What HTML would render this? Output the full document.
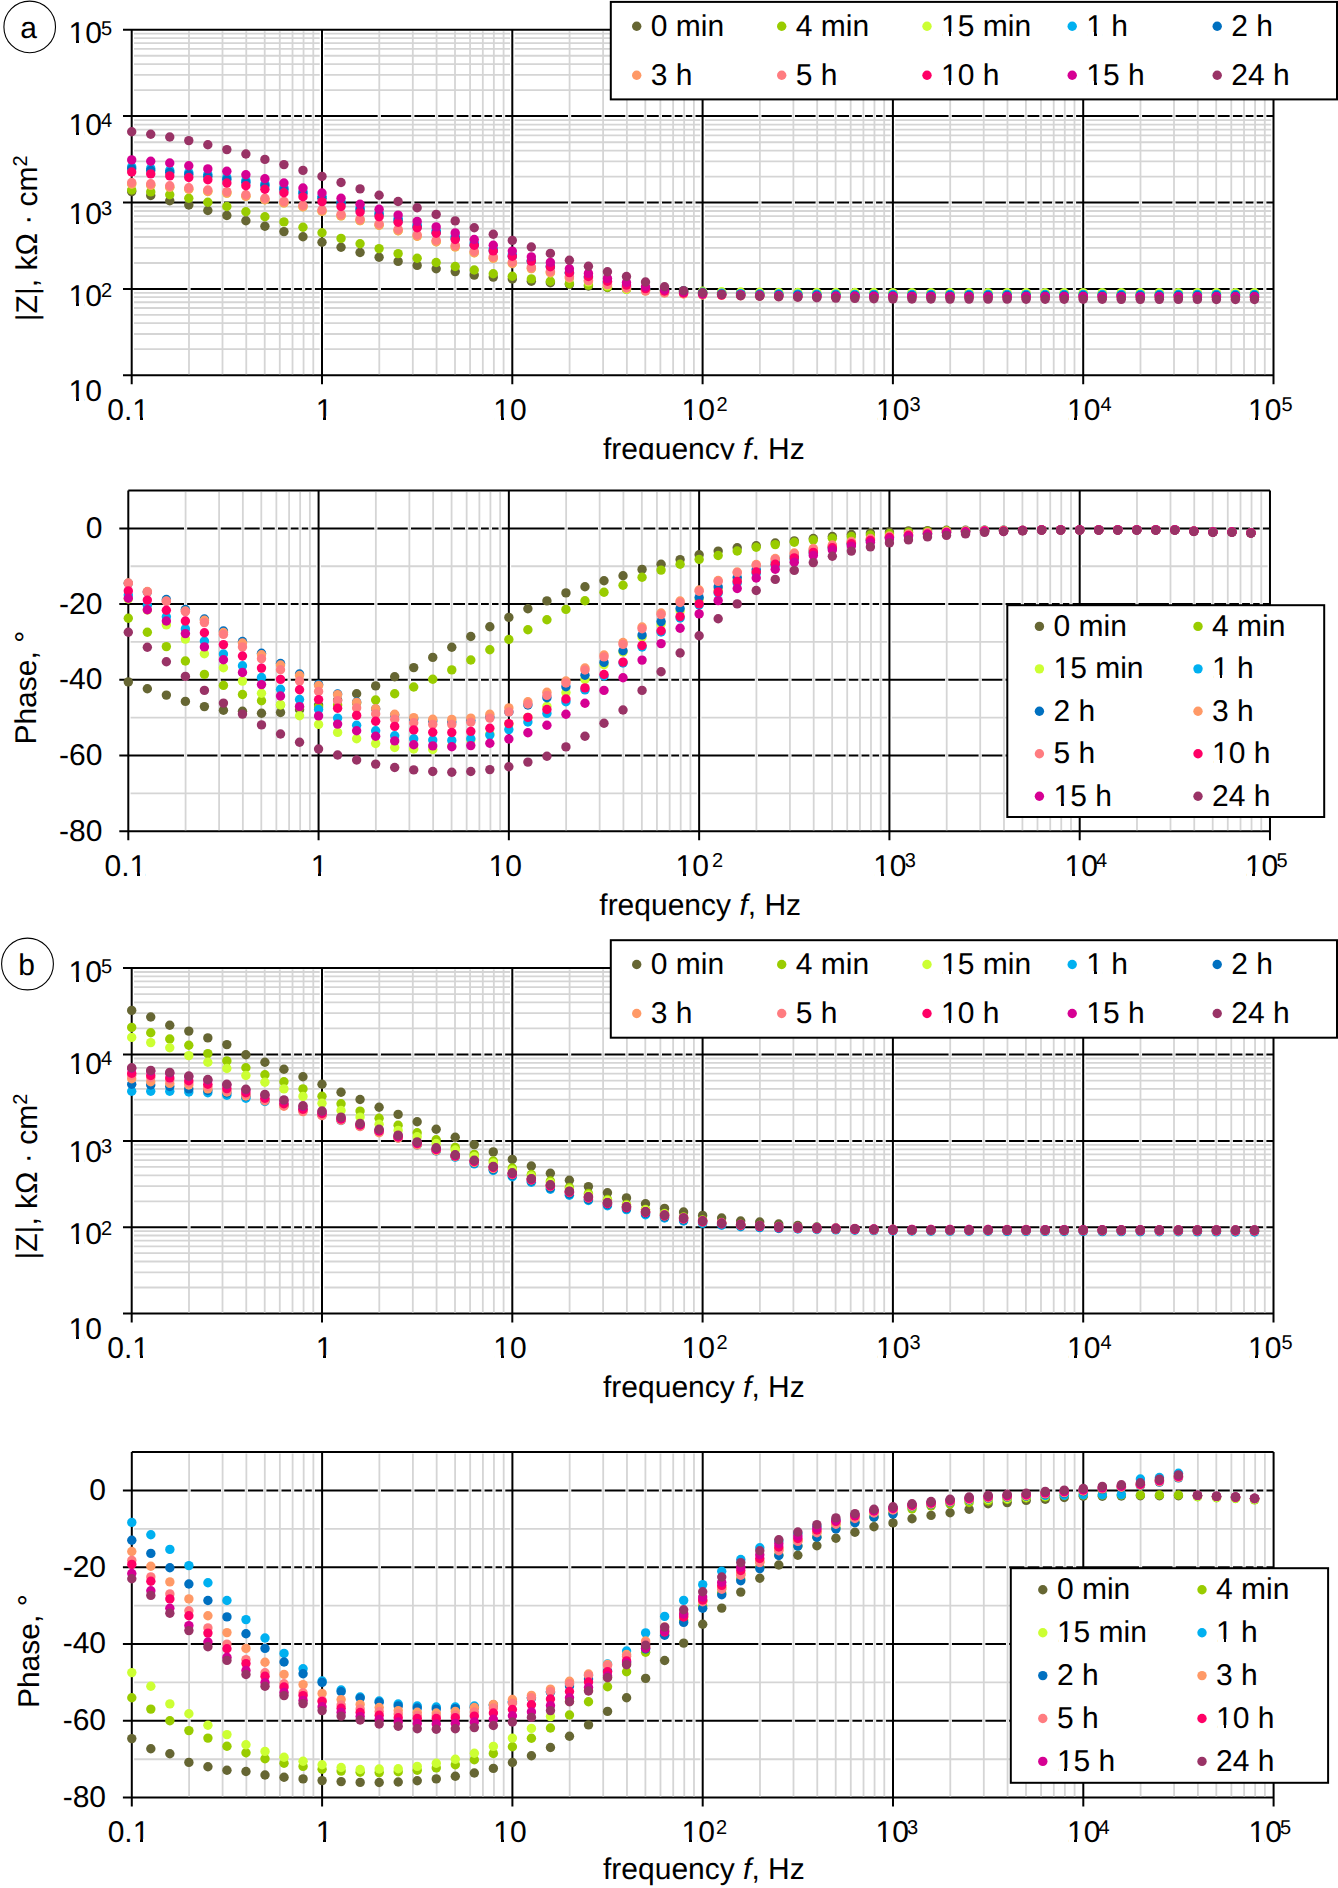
<!DOCTYPE html>
<html><head><meta charset="utf-8"><title>EIS</title>
<style>html,body{margin:0;padding:0;background:#fff;overflow:hidden;} svg{display:block;} text{font-family:"Liberation Sans", sans-serif;text-rendering:geometricPrecision;}</style>
</head><body>
<svg width="1338" height="1888" viewBox="0 0 1338 1888" font-family="Liberation Sans, sans-serif" fill="#000">
<rect width="1338" height="1888" fill="#fff"/>
<line x1="132.7" y1="349.21" x2="1273.5" y2="349.21" stroke="#d5d5d5" stroke-width="1.8"/>
<line x1="132.7" y1="334" x2="1273.5" y2="334" stroke="#d5d5d5" stroke-width="1.8"/>
<line x1="132.7" y1="323.21" x2="1273.5" y2="323.21" stroke="#d5d5d5" stroke-width="1.8"/>
<line x1="132.7" y1="314.84" x2="1273.5" y2="314.84" stroke="#d5d5d5" stroke-width="1.8"/>
<line x1="132.7" y1="308.01" x2="1273.5" y2="308.01" stroke="#d5d5d5" stroke-width="1.8"/>
<line x1="132.7" y1="302.23" x2="1273.5" y2="302.23" stroke="#d5d5d5" stroke-width="1.8"/>
<line x1="132.7" y1="297.22" x2="1273.5" y2="297.22" stroke="#d5d5d5" stroke-width="1.8"/>
<line x1="132.7" y1="292.8" x2="1273.5" y2="292.8" stroke="#d5d5d5" stroke-width="1.8"/>
<line x1="132.7" y1="263.01" x2="1273.5" y2="263.01" stroke="#d5d5d5" stroke-width="1.8"/>
<line x1="132.7" y1="247.8" x2="1273.5" y2="247.8" stroke="#d5d5d5" stroke-width="1.8"/>
<line x1="132.7" y1="237.01" x2="1273.5" y2="237.01" stroke="#d5d5d5" stroke-width="1.8"/>
<line x1="132.7" y1="228.64" x2="1273.5" y2="228.64" stroke="#d5d5d5" stroke-width="1.8"/>
<line x1="132.7" y1="221.81" x2="1273.5" y2="221.81" stroke="#d5d5d5" stroke-width="1.8"/>
<line x1="132.7" y1="216.03" x2="1273.5" y2="216.03" stroke="#d5d5d5" stroke-width="1.8"/>
<line x1="132.7" y1="211.02" x2="1273.5" y2="211.02" stroke="#d5d5d5" stroke-width="1.8"/>
<line x1="132.7" y1="206.6" x2="1273.5" y2="206.6" stroke="#d5d5d5" stroke-width="1.8"/>
<line x1="132.7" y1="176.61" x2="1273.5" y2="176.61" stroke="#d5d5d5" stroke-width="1.8"/>
<line x1="132.7" y1="161.4" x2="1273.5" y2="161.4" stroke="#d5d5d5" stroke-width="1.8"/>
<line x1="132.7" y1="150.61" x2="1273.5" y2="150.61" stroke="#d5d5d5" stroke-width="1.8"/>
<line x1="132.7" y1="142.24" x2="1273.5" y2="142.24" stroke="#d5d5d5" stroke-width="1.8"/>
<line x1="132.7" y1="135.41" x2="1273.5" y2="135.41" stroke="#d5d5d5" stroke-width="1.8"/>
<line x1="132.7" y1="129.63" x2="1273.5" y2="129.63" stroke="#d5d5d5" stroke-width="1.8"/>
<line x1="132.7" y1="124.62" x2="1273.5" y2="124.62" stroke="#d5d5d5" stroke-width="1.8"/>
<line x1="132.7" y1="120.2" x2="1273.5" y2="120.2" stroke="#d5d5d5" stroke-width="1.8"/>
<line x1="132.7" y1="90.11" x2="1273.5" y2="90.11" stroke="#d5d5d5" stroke-width="1.8"/>
<line x1="132.7" y1="74.9" x2="1273.5" y2="74.9" stroke="#d5d5d5" stroke-width="1.8"/>
<line x1="132.7" y1="64.11" x2="1273.5" y2="64.11" stroke="#d5d5d5" stroke-width="1.8"/>
<line x1="132.7" y1="55.74" x2="1273.5" y2="55.74" stroke="#d5d5d5" stroke-width="1.8"/>
<line x1="132.7" y1="48.91" x2="1273.5" y2="48.91" stroke="#d5d5d5" stroke-width="1.8"/>
<line x1="132.7" y1="43.13" x2="1273.5" y2="43.13" stroke="#d5d5d5" stroke-width="1.8"/>
<line x1="132.7" y1="38.12" x2="1273.5" y2="38.12" stroke="#d5d5d5" stroke-width="1.8"/>
<line x1="132.7" y1="33.7" x2="1273.5" y2="33.7" stroke="#d5d5d5" stroke-width="1.8"/>
<line x1="131.7" y1="31.3" x2="131.7" y2="373.7" stroke="#fff" stroke-width="4.6"/>
<line x1="322" y1="31.3" x2="322" y2="373.7" stroke="#fff" stroke-width="4.6"/>
<line x1="512.3" y1="31.3" x2="512.3" y2="373.7" stroke="#fff" stroke-width="4.6"/>
<line x1="702.6" y1="31.3" x2="702.6" y2="373.7" stroke="#fff" stroke-width="4.6"/>
<line x1="892.9" y1="31.3" x2="892.9" y2="373.7" stroke="#fff" stroke-width="4.6"/>
<line x1="1083.2" y1="31.3" x2="1083.2" y2="373.7" stroke="#fff" stroke-width="4.6"/>
<line x1="1273.5" y1="31.3" x2="1273.5" y2="373.7" stroke="#fff" stroke-width="4.6"/>
<line x1="131.7" y1="29.8" x2="131.7" y2="384.2" stroke="#000" stroke-width="2.0"/>
<line x1="322" y1="29.8" x2="322" y2="384.2" stroke="#000" stroke-width="2.0"/>
<line x1="512.3" y1="29.8" x2="512.3" y2="384.2" stroke="#000" stroke-width="2.0"/>
<line x1="702.6" y1="29.8" x2="702.6" y2="384.2" stroke="#000" stroke-width="2.0"/>
<line x1="892.9" y1="29.8" x2="892.9" y2="384.2" stroke="#000" stroke-width="2.0"/>
<line x1="1083.2" y1="29.8" x2="1083.2" y2="384.2" stroke="#000" stroke-width="2.0"/>
<line x1="1273.5" y1="29.8" x2="1273.5" y2="384.2" stroke="#000" stroke-width="2.0"/>
<line x1="123" y1="375.2" x2="1273.5" y2="375.2" stroke="#000" stroke-width="2.0"/>
<line x1="123" y1="289" x2="1273.5" y2="289" stroke="#000" stroke-width="2.0"/>
<line x1="123" y1="202.6" x2="1273.5" y2="202.6" stroke="#000" stroke-width="2.0"/>
<line x1="123" y1="116.1" x2="1273.5" y2="116.1" stroke="#000" stroke-width="2.0"/>
<line x1="123" y1="29.8" x2="1273.5" y2="29.8" stroke="#000" stroke-width="2.0"/>
<rect x="187.39" y="287.6" width="3.2" height="2.8" fill="#fff"/>
<rect x="187.39" y="201.2" width="3.2" height="2.8" fill="#fff"/>
<rect x="187.39" y="114.7" width="3.2" height="2.8" fill="#fff"/>
<line x1="188.99" y1="31.2" x2="188.99" y2="374.2" stroke="#d5d5d5" stroke-width="1.8"/>
<rect x="220.9" y="287.6" width="3.2" height="2.8" fill="#fff"/>
<rect x="220.9" y="201.2" width="3.2" height="2.8" fill="#fff"/>
<rect x="220.9" y="114.7" width="3.2" height="2.8" fill="#fff"/>
<line x1="222.5" y1="31.2" x2="222.5" y2="374.2" stroke="#d5d5d5" stroke-width="1.8"/>
<rect x="244.67" y="287.6" width="3.2" height="2.8" fill="#fff"/>
<rect x="244.67" y="201.2" width="3.2" height="2.8" fill="#fff"/>
<rect x="244.67" y="114.7" width="3.2" height="2.8" fill="#fff"/>
<line x1="246.27" y1="31.2" x2="246.27" y2="374.2" stroke="#d5d5d5" stroke-width="1.8"/>
<rect x="263.11" y="287.6" width="3.2" height="2.8" fill="#fff"/>
<rect x="263.11" y="201.2" width="3.2" height="2.8" fill="#fff"/>
<rect x="263.11" y="114.7" width="3.2" height="2.8" fill="#fff"/>
<line x1="264.71" y1="31.2" x2="264.71" y2="374.2" stroke="#d5d5d5" stroke-width="1.8"/>
<rect x="278.18" y="287.6" width="3.2" height="2.8" fill="#fff"/>
<rect x="278.18" y="201.2" width="3.2" height="2.8" fill="#fff"/>
<rect x="278.18" y="114.7" width="3.2" height="2.8" fill="#fff"/>
<line x1="279.78" y1="31.2" x2="279.78" y2="374.2" stroke="#d5d5d5" stroke-width="1.8"/>
<rect x="290.92" y="287.6" width="3.2" height="2.8" fill="#fff"/>
<rect x="290.92" y="201.2" width="3.2" height="2.8" fill="#fff"/>
<rect x="290.92" y="114.7" width="3.2" height="2.8" fill="#fff"/>
<line x1="292.52" y1="31.2" x2="292.52" y2="374.2" stroke="#d5d5d5" stroke-width="1.8"/>
<rect x="301.96" y="287.6" width="3.2" height="2.8" fill="#fff"/>
<rect x="301.96" y="201.2" width="3.2" height="2.8" fill="#fff"/>
<rect x="301.96" y="114.7" width="3.2" height="2.8" fill="#fff"/>
<line x1="303.56" y1="31.2" x2="303.56" y2="374.2" stroke="#d5d5d5" stroke-width="1.8"/>
<rect x="311.69" y="287.6" width="3.2" height="2.8" fill="#fff"/>
<rect x="311.69" y="201.2" width="3.2" height="2.8" fill="#fff"/>
<rect x="311.69" y="114.7" width="3.2" height="2.8" fill="#fff"/>
<line x1="313.29" y1="31.2" x2="313.29" y2="374.2" stroke="#d5d5d5" stroke-width="1.8"/>
<rect x="377.69" y="287.6" width="3.2" height="2.8" fill="#fff"/>
<rect x="377.69" y="201.2" width="3.2" height="2.8" fill="#fff"/>
<rect x="377.69" y="114.7" width="3.2" height="2.8" fill="#fff"/>
<line x1="379.29" y1="31.2" x2="379.29" y2="374.2" stroke="#d5d5d5" stroke-width="1.8"/>
<rect x="411.2" y="287.6" width="3.2" height="2.8" fill="#fff"/>
<rect x="411.2" y="201.2" width="3.2" height="2.8" fill="#fff"/>
<rect x="411.2" y="114.7" width="3.2" height="2.8" fill="#fff"/>
<line x1="412.8" y1="31.2" x2="412.8" y2="374.2" stroke="#d5d5d5" stroke-width="1.8"/>
<rect x="434.97" y="287.6" width="3.2" height="2.8" fill="#fff"/>
<rect x="434.97" y="201.2" width="3.2" height="2.8" fill="#fff"/>
<rect x="434.97" y="114.7" width="3.2" height="2.8" fill="#fff"/>
<line x1="436.57" y1="31.2" x2="436.57" y2="374.2" stroke="#d5d5d5" stroke-width="1.8"/>
<rect x="453.41" y="287.6" width="3.2" height="2.8" fill="#fff"/>
<rect x="453.41" y="201.2" width="3.2" height="2.8" fill="#fff"/>
<rect x="453.41" y="114.7" width="3.2" height="2.8" fill="#fff"/>
<line x1="455.01" y1="31.2" x2="455.01" y2="374.2" stroke="#d5d5d5" stroke-width="1.8"/>
<rect x="468.48" y="287.6" width="3.2" height="2.8" fill="#fff"/>
<rect x="468.48" y="201.2" width="3.2" height="2.8" fill="#fff"/>
<rect x="468.48" y="114.7" width="3.2" height="2.8" fill="#fff"/>
<line x1="470.08" y1="31.2" x2="470.08" y2="374.2" stroke="#d5d5d5" stroke-width="1.8"/>
<rect x="481.22" y="287.6" width="3.2" height="2.8" fill="#fff"/>
<rect x="481.22" y="201.2" width="3.2" height="2.8" fill="#fff"/>
<rect x="481.22" y="114.7" width="3.2" height="2.8" fill="#fff"/>
<line x1="482.82" y1="31.2" x2="482.82" y2="374.2" stroke="#d5d5d5" stroke-width="1.8"/>
<rect x="492.26" y="287.6" width="3.2" height="2.8" fill="#fff"/>
<rect x="492.26" y="201.2" width="3.2" height="2.8" fill="#fff"/>
<rect x="492.26" y="114.7" width="3.2" height="2.8" fill="#fff"/>
<line x1="493.86" y1="31.2" x2="493.86" y2="374.2" stroke="#d5d5d5" stroke-width="1.8"/>
<rect x="501.99" y="287.6" width="3.2" height="2.8" fill="#fff"/>
<rect x="501.99" y="201.2" width="3.2" height="2.8" fill="#fff"/>
<rect x="501.99" y="114.7" width="3.2" height="2.8" fill="#fff"/>
<line x1="503.59" y1="31.2" x2="503.59" y2="374.2" stroke="#d5d5d5" stroke-width="1.8"/>
<rect x="567.99" y="287.6" width="3.2" height="2.8" fill="#fff"/>
<rect x="567.99" y="201.2" width="3.2" height="2.8" fill="#fff"/>
<rect x="567.99" y="114.7" width="3.2" height="2.8" fill="#fff"/>
<line x1="569.59" y1="31.2" x2="569.59" y2="374.2" stroke="#d5d5d5" stroke-width="1.8"/>
<rect x="601.5" y="287.6" width="3.2" height="2.8" fill="#fff"/>
<rect x="601.5" y="201.2" width="3.2" height="2.8" fill="#fff"/>
<rect x="601.5" y="114.7" width="3.2" height="2.8" fill="#fff"/>
<line x1="603.1" y1="31.2" x2="603.1" y2="374.2" stroke="#d5d5d5" stroke-width="1.8"/>
<rect x="625.27" y="287.6" width="3.2" height="2.8" fill="#fff"/>
<rect x="625.27" y="201.2" width="3.2" height="2.8" fill="#fff"/>
<rect x="625.27" y="114.7" width="3.2" height="2.8" fill="#fff"/>
<line x1="626.87" y1="31.2" x2="626.87" y2="374.2" stroke="#d5d5d5" stroke-width="1.8"/>
<rect x="643.71" y="287.6" width="3.2" height="2.8" fill="#fff"/>
<rect x="643.71" y="201.2" width="3.2" height="2.8" fill="#fff"/>
<rect x="643.71" y="114.7" width="3.2" height="2.8" fill="#fff"/>
<line x1="645.31" y1="31.2" x2="645.31" y2="374.2" stroke="#d5d5d5" stroke-width="1.8"/>
<rect x="658.78" y="287.6" width="3.2" height="2.8" fill="#fff"/>
<rect x="658.78" y="201.2" width="3.2" height="2.8" fill="#fff"/>
<rect x="658.78" y="114.7" width="3.2" height="2.8" fill="#fff"/>
<line x1="660.38" y1="31.2" x2="660.38" y2="374.2" stroke="#d5d5d5" stroke-width="1.8"/>
<rect x="671.52" y="287.6" width="3.2" height="2.8" fill="#fff"/>
<rect x="671.52" y="201.2" width="3.2" height="2.8" fill="#fff"/>
<rect x="671.52" y="114.7" width="3.2" height="2.8" fill="#fff"/>
<line x1="673.12" y1="31.2" x2="673.12" y2="374.2" stroke="#d5d5d5" stroke-width="1.8"/>
<rect x="682.56" y="287.6" width="3.2" height="2.8" fill="#fff"/>
<rect x="682.56" y="201.2" width="3.2" height="2.8" fill="#fff"/>
<rect x="682.56" y="114.7" width="3.2" height="2.8" fill="#fff"/>
<line x1="684.16" y1="31.2" x2="684.16" y2="374.2" stroke="#d5d5d5" stroke-width="1.8"/>
<rect x="692.29" y="287.6" width="3.2" height="2.8" fill="#fff"/>
<rect x="692.29" y="201.2" width="3.2" height="2.8" fill="#fff"/>
<rect x="692.29" y="114.7" width="3.2" height="2.8" fill="#fff"/>
<line x1="693.89" y1="31.2" x2="693.89" y2="374.2" stroke="#d5d5d5" stroke-width="1.8"/>
<rect x="758.29" y="287.6" width="3.2" height="2.8" fill="#fff"/>
<rect x="758.29" y="201.2" width="3.2" height="2.8" fill="#fff"/>
<rect x="758.29" y="114.7" width="3.2" height="2.8" fill="#fff"/>
<line x1="759.89" y1="31.2" x2="759.89" y2="374.2" stroke="#d5d5d5" stroke-width="1.8"/>
<rect x="791.8" y="287.6" width="3.2" height="2.8" fill="#fff"/>
<rect x="791.8" y="201.2" width="3.2" height="2.8" fill="#fff"/>
<rect x="791.8" y="114.7" width="3.2" height="2.8" fill="#fff"/>
<line x1="793.4" y1="31.2" x2="793.4" y2="374.2" stroke="#d5d5d5" stroke-width="1.8"/>
<rect x="815.57" y="287.6" width="3.2" height="2.8" fill="#fff"/>
<rect x="815.57" y="201.2" width="3.2" height="2.8" fill="#fff"/>
<rect x="815.57" y="114.7" width="3.2" height="2.8" fill="#fff"/>
<line x1="817.17" y1="31.2" x2="817.17" y2="374.2" stroke="#d5d5d5" stroke-width="1.8"/>
<rect x="834.01" y="287.6" width="3.2" height="2.8" fill="#fff"/>
<rect x="834.01" y="201.2" width="3.2" height="2.8" fill="#fff"/>
<rect x="834.01" y="114.7" width="3.2" height="2.8" fill="#fff"/>
<line x1="835.61" y1="31.2" x2="835.61" y2="374.2" stroke="#d5d5d5" stroke-width="1.8"/>
<rect x="849.08" y="287.6" width="3.2" height="2.8" fill="#fff"/>
<rect x="849.08" y="201.2" width="3.2" height="2.8" fill="#fff"/>
<rect x="849.08" y="114.7" width="3.2" height="2.8" fill="#fff"/>
<line x1="850.68" y1="31.2" x2="850.68" y2="374.2" stroke="#d5d5d5" stroke-width="1.8"/>
<rect x="861.82" y="287.6" width="3.2" height="2.8" fill="#fff"/>
<rect x="861.82" y="201.2" width="3.2" height="2.8" fill="#fff"/>
<rect x="861.82" y="114.7" width="3.2" height="2.8" fill="#fff"/>
<line x1="863.42" y1="31.2" x2="863.42" y2="374.2" stroke="#d5d5d5" stroke-width="1.8"/>
<rect x="872.86" y="287.6" width="3.2" height="2.8" fill="#fff"/>
<rect x="872.86" y="201.2" width="3.2" height="2.8" fill="#fff"/>
<rect x="872.86" y="114.7" width="3.2" height="2.8" fill="#fff"/>
<line x1="874.46" y1="31.2" x2="874.46" y2="374.2" stroke="#d5d5d5" stroke-width="1.8"/>
<rect x="882.59" y="287.6" width="3.2" height="2.8" fill="#fff"/>
<rect x="882.59" y="201.2" width="3.2" height="2.8" fill="#fff"/>
<rect x="882.59" y="114.7" width="3.2" height="2.8" fill="#fff"/>
<line x1="884.19" y1="31.2" x2="884.19" y2="374.2" stroke="#d5d5d5" stroke-width="1.8"/>
<rect x="948.59" y="287.6" width="3.2" height="2.8" fill="#fff"/>
<rect x="948.59" y="201.2" width="3.2" height="2.8" fill="#fff"/>
<rect x="948.59" y="114.7" width="3.2" height="2.8" fill="#fff"/>
<line x1="950.19" y1="31.2" x2="950.19" y2="374.2" stroke="#d5d5d5" stroke-width="1.8"/>
<rect x="982.1" y="287.6" width="3.2" height="2.8" fill="#fff"/>
<rect x="982.1" y="201.2" width="3.2" height="2.8" fill="#fff"/>
<rect x="982.1" y="114.7" width="3.2" height="2.8" fill="#fff"/>
<line x1="983.7" y1="31.2" x2="983.7" y2="374.2" stroke="#d5d5d5" stroke-width="1.8"/>
<rect x="1005.87" y="287.6" width="3.2" height="2.8" fill="#fff"/>
<rect x="1005.87" y="201.2" width="3.2" height="2.8" fill="#fff"/>
<rect x="1005.87" y="114.7" width="3.2" height="2.8" fill="#fff"/>
<line x1="1007.47" y1="31.2" x2="1007.47" y2="374.2" stroke="#d5d5d5" stroke-width="1.8"/>
<rect x="1024.31" y="287.6" width="3.2" height="2.8" fill="#fff"/>
<rect x="1024.31" y="201.2" width="3.2" height="2.8" fill="#fff"/>
<rect x="1024.31" y="114.7" width="3.2" height="2.8" fill="#fff"/>
<line x1="1025.91" y1="31.2" x2="1025.91" y2="374.2" stroke="#d5d5d5" stroke-width="1.8"/>
<rect x="1039.38" y="287.6" width="3.2" height="2.8" fill="#fff"/>
<rect x="1039.38" y="201.2" width="3.2" height="2.8" fill="#fff"/>
<rect x="1039.38" y="114.7" width="3.2" height="2.8" fill="#fff"/>
<line x1="1040.98" y1="31.2" x2="1040.98" y2="374.2" stroke="#d5d5d5" stroke-width="1.8"/>
<rect x="1052.12" y="287.6" width="3.2" height="2.8" fill="#fff"/>
<rect x="1052.12" y="201.2" width="3.2" height="2.8" fill="#fff"/>
<rect x="1052.12" y="114.7" width="3.2" height="2.8" fill="#fff"/>
<line x1="1053.72" y1="31.2" x2="1053.72" y2="374.2" stroke="#d5d5d5" stroke-width="1.8"/>
<rect x="1063.16" y="287.6" width="3.2" height="2.8" fill="#fff"/>
<rect x="1063.16" y="201.2" width="3.2" height="2.8" fill="#fff"/>
<rect x="1063.16" y="114.7" width="3.2" height="2.8" fill="#fff"/>
<line x1="1064.76" y1="31.2" x2="1064.76" y2="374.2" stroke="#d5d5d5" stroke-width="1.8"/>
<rect x="1072.89" y="287.6" width="3.2" height="2.8" fill="#fff"/>
<rect x="1072.89" y="201.2" width="3.2" height="2.8" fill="#fff"/>
<rect x="1072.89" y="114.7" width="3.2" height="2.8" fill="#fff"/>
<line x1="1074.49" y1="31.2" x2="1074.49" y2="374.2" stroke="#d5d5d5" stroke-width="1.8"/>
<rect x="1138.89" y="287.6" width="3.2" height="2.8" fill="#fff"/>
<rect x="1138.89" y="201.2" width="3.2" height="2.8" fill="#fff"/>
<rect x="1138.89" y="114.7" width="3.2" height="2.8" fill="#fff"/>
<line x1="1140.49" y1="31.2" x2="1140.49" y2="374.2" stroke="#d5d5d5" stroke-width="1.8"/>
<rect x="1172.4" y="287.6" width="3.2" height="2.8" fill="#fff"/>
<rect x="1172.4" y="201.2" width="3.2" height="2.8" fill="#fff"/>
<rect x="1172.4" y="114.7" width="3.2" height="2.8" fill="#fff"/>
<line x1="1174" y1="31.2" x2="1174" y2="374.2" stroke="#d5d5d5" stroke-width="1.8"/>
<rect x="1196.17" y="287.6" width="3.2" height="2.8" fill="#fff"/>
<rect x="1196.17" y="201.2" width="3.2" height="2.8" fill="#fff"/>
<rect x="1196.17" y="114.7" width="3.2" height="2.8" fill="#fff"/>
<line x1="1197.77" y1="31.2" x2="1197.77" y2="374.2" stroke="#d5d5d5" stroke-width="1.8"/>
<rect x="1214.61" y="287.6" width="3.2" height="2.8" fill="#fff"/>
<rect x="1214.61" y="201.2" width="3.2" height="2.8" fill="#fff"/>
<rect x="1214.61" y="114.7" width="3.2" height="2.8" fill="#fff"/>
<line x1="1216.21" y1="31.2" x2="1216.21" y2="374.2" stroke="#d5d5d5" stroke-width="1.8"/>
<rect x="1229.68" y="287.6" width="3.2" height="2.8" fill="#fff"/>
<rect x="1229.68" y="201.2" width="3.2" height="2.8" fill="#fff"/>
<rect x="1229.68" y="114.7" width="3.2" height="2.8" fill="#fff"/>
<line x1="1231.28" y1="31.2" x2="1231.28" y2="374.2" stroke="#d5d5d5" stroke-width="1.8"/>
<rect x="1242.42" y="287.6" width="3.2" height="2.8" fill="#fff"/>
<rect x="1242.42" y="201.2" width="3.2" height="2.8" fill="#fff"/>
<rect x="1242.42" y="114.7" width="3.2" height="2.8" fill="#fff"/>
<line x1="1244.02" y1="31.2" x2="1244.02" y2="374.2" stroke="#d5d5d5" stroke-width="1.8"/>
<rect x="1253.46" y="287.6" width="3.2" height="2.8" fill="#fff"/>
<rect x="1253.46" y="201.2" width="3.2" height="2.8" fill="#fff"/>
<rect x="1253.46" y="114.7" width="3.2" height="2.8" fill="#fff"/>
<line x1="1255.06" y1="31.2" x2="1255.06" y2="374.2" stroke="#d5d5d5" stroke-width="1.8"/>
<rect x="1263.19" y="287.6" width="3.2" height="2.8" fill="#fff"/>
<rect x="1263.19" y="201.2" width="3.2" height="2.8" fill="#fff"/>
<rect x="1263.19" y="114.7" width="3.2" height="2.8" fill="#fff"/>
<line x1="1264.79" y1="31.2" x2="1264.79" y2="374.2" stroke="#d5d5d5" stroke-width="1.8"/>
<g fill="#666633">
<circle cx="131.7" cy="191.6" r="4.7"/>
<circle cx="150.73" cy="195.5" r="4.7"/>
<circle cx="169.76" cy="200.7" r="4.7"/>
<circle cx="188.79" cy="205" r="4.7"/>
<circle cx="207.82" cy="210.5" r="4.7"/>
<circle cx="226.85" cy="215.5" r="4.7"/>
<circle cx="245.88" cy="220.7" r="4.7"/>
<circle cx="264.91" cy="226.2" r="4.7"/>
<circle cx="283.94" cy="231.6" r="4.7"/>
<circle cx="302.97" cy="236.8" r="4.7"/>
<circle cx="322" cy="242.2" r="4.7"/>
<circle cx="341.03" cy="247.3" r="4.7"/>
<circle cx="360.06" cy="252.5" r="4.7"/>
<circle cx="379.09" cy="257.2" r="4.7"/>
<circle cx="398.12" cy="261.4" r="4.7"/>
<circle cx="417.15" cy="265.4" r="4.7"/>
<circle cx="436.18" cy="268.8" r="4.7"/>
<circle cx="455.21" cy="271.6" r="4.7"/>
<circle cx="474.24" cy="275.1" r="4.7"/>
<circle cx="493.27" cy="277.1" r="4.7"/>
<circle cx="512.3" cy="279" r="4.7"/>
<circle cx="531.33" cy="281.2" r="4.7"/>
<circle cx="550.36" cy="282.8" r="4.7"/>
<circle cx="569.39" cy="284.4" r="4.7"/>
<circle cx="588.42" cy="286" r="4.7"/>
<circle cx="607.45" cy="287.5" r="4.7"/>
<circle cx="626.48" cy="289" r="4.7"/>
<circle cx="645.51" cy="290" r="4.7"/>
<circle cx="664.54" cy="291" r="4.7"/>
<circle cx="683.57" cy="291.75" r="4.7"/>
<circle cx="702.6" cy="292.5" r="4.7"/>
<circle cx="721.63" cy="293" r="4.7"/>
<circle cx="740.66" cy="293.5" r="4.7"/>
<circle cx="759.69" cy="294" r="4.7"/>
<circle cx="778.72" cy="294.14" r="4.7"/>
<circle cx="797.75" cy="294.29" r="4.7"/>
<circle cx="816.78" cy="294.43" r="4.7"/>
<circle cx="835.81" cy="294.57" r="4.7"/>
<circle cx="854.84" cy="294.71" r="4.7"/>
<circle cx="873.87" cy="294.86" r="4.7"/>
<circle cx="892.9" cy="295" r="4.7"/>
<circle cx="911.93" cy="295" r="4.7"/>
<circle cx="930.96" cy="295" r="4.7"/>
<circle cx="949.99" cy="295" r="4.7"/>
<circle cx="969.02" cy="295" r="4.7"/>
<circle cx="988.05" cy="295" r="4.7"/>
<circle cx="1007.08" cy="295" r="4.7"/>
<circle cx="1026.11" cy="295" r="4.7"/>
<circle cx="1045.14" cy="295" r="4.7"/>
<circle cx="1064.17" cy="295" r="4.7"/>
<circle cx="1083.2" cy="295" r="4.7"/>
<circle cx="1102.23" cy="295" r="4.7"/>
<circle cx="1121.26" cy="295" r="4.7"/>
<circle cx="1140.29" cy="295" r="4.7"/>
<circle cx="1159.32" cy="295" r="4.7"/>
<circle cx="1178.35" cy="295" r="4.7"/>
<circle cx="1197.38" cy="295" r="4.7"/>
<circle cx="1216.41" cy="295" r="4.7"/>
<circle cx="1235.44" cy="295" r="4.7"/>
<circle cx="1254.47" cy="295" r="4.7"/>
</g>
<g fill="#99cc00">
<circle cx="131.7" cy="190" r="4.7"/>
<circle cx="150.73" cy="191.9" r="4.7"/>
<circle cx="169.76" cy="194.8" r="4.7"/>
<circle cx="188.79" cy="198.2" r="4.7"/>
<circle cx="207.82" cy="202.3" r="4.7"/>
<circle cx="226.85" cy="206.5" r="4.7"/>
<circle cx="245.88" cy="211.7" r="4.7"/>
<circle cx="264.91" cy="216.7" r="4.7"/>
<circle cx="283.94" cy="221.9" r="4.7"/>
<circle cx="302.97" cy="227.2" r="4.7"/>
<circle cx="322" cy="232.8" r="4.7"/>
<circle cx="341.03" cy="238.4" r="4.7"/>
<circle cx="360.06" cy="243.7" r="4.7"/>
<circle cx="379.09" cy="248.6" r="4.7"/>
<circle cx="398.12" cy="253.6" r="4.7"/>
<circle cx="417.15" cy="258.3" r="4.7"/>
<circle cx="436.18" cy="262.5" r="4.7"/>
<circle cx="455.21" cy="266.5" r="4.7"/>
<circle cx="474.24" cy="270" r="4.7"/>
<circle cx="493.27" cy="273.7" r="4.7"/>
<circle cx="512.3" cy="276.2" r="4.7"/>
<circle cx="531.33" cy="278.9" r="4.7"/>
<circle cx="550.36" cy="281.2" r="4.7"/>
<circle cx="569.39" cy="283.6" r="4.7"/>
<circle cx="588.42" cy="285.1" r="4.7"/>
<circle cx="607.45" cy="287.2" r="4.7"/>
<circle cx="626.48" cy="289.1" r="4.7"/>
<circle cx="645.51" cy="290" r="4.7"/>
<circle cx="664.54" cy="291" r="4.7"/>
<circle cx="683.57" cy="291.5" r="4.7"/>
<circle cx="702.6" cy="292" r="4.7"/>
<circle cx="721.63" cy="292.5" r="4.7"/>
<circle cx="740.66" cy="293" r="4.7"/>
<circle cx="759.69" cy="293.5" r="4.7"/>
<circle cx="778.72" cy="294" r="4.7"/>
<circle cx="797.75" cy="294.02" r="4.7"/>
<circle cx="816.78" cy="294.04" r="4.7"/>
<circle cx="835.81" cy="294.06" r="4.7"/>
<circle cx="854.84" cy="294.08" r="4.7"/>
<circle cx="873.87" cy="294.1" r="4.7"/>
<circle cx="892.9" cy="294.12" r="4.7"/>
<circle cx="911.93" cy="294.14" r="4.7"/>
<circle cx="930.96" cy="294.16" r="4.7"/>
<circle cx="949.99" cy="294.18" r="4.7"/>
<circle cx="969.02" cy="294.2" r="4.7"/>
<circle cx="988.05" cy="294.22" r="4.7"/>
<circle cx="1007.08" cy="294.24" r="4.7"/>
<circle cx="1026.11" cy="294.26" r="4.7"/>
<circle cx="1045.14" cy="294.28" r="4.7"/>
<circle cx="1064.17" cy="294.3" r="4.7"/>
<circle cx="1083.2" cy="294.32" r="4.7"/>
<circle cx="1102.23" cy="294.34" r="4.7"/>
<circle cx="1121.26" cy="294.36" r="4.7"/>
<circle cx="1140.29" cy="294.38" r="4.7"/>
<circle cx="1159.32" cy="294.4" r="4.7"/>
<circle cx="1178.35" cy="294.42" r="4.7"/>
<circle cx="1197.38" cy="294.44" r="4.7"/>
<circle cx="1216.41" cy="294.46" r="4.7"/>
<circle cx="1235.44" cy="294.48" r="4.7"/>
<circle cx="1254.47" cy="294.5" r="4.7"/>
</g>
<g fill="#ccff33">
<circle cx="131.7" cy="184" r="4.7"/>
<circle cx="150.73" cy="185.3" r="4.7"/>
<circle cx="169.76" cy="187.2" r="4.7"/>
<circle cx="188.79" cy="189.2" r="4.7"/>
<circle cx="207.82" cy="191.5" r="4.7"/>
<circle cx="226.85" cy="193.1" r="4.7"/>
<circle cx="245.88" cy="196.3" r="4.7"/>
<circle cx="264.91" cy="199.7" r="4.7"/>
<circle cx="283.94" cy="202.9" r="4.7"/>
<circle cx="302.97" cy="206.8" r="4.7"/>
<circle cx="322" cy="211.2" r="4.7"/>
<circle cx="341.03" cy="215.9" r="4.7"/>
<circle cx="360.06" cy="220.6" r="4.7"/>
<circle cx="379.09" cy="225.3" r="4.7"/>
<circle cx="398.12" cy="230.8" r="4.7"/>
<circle cx="417.15" cy="236.3" r="4.7"/>
<circle cx="436.18" cy="241.8" r="4.7"/>
<circle cx="455.21" cy="246.9" r="4.7"/>
<circle cx="474.24" cy="252.7" r="4.7"/>
<circle cx="493.27" cy="258.2" r="4.7"/>
<circle cx="512.3" cy="263.5" r="4.7"/>
<circle cx="531.33" cy="268.6" r="4.7"/>
<circle cx="550.36" cy="272.8" r="4.7"/>
<circle cx="569.39" cy="278" r="4.7"/>
<circle cx="588.42" cy="281.9" r="4.7"/>
<circle cx="607.45" cy="285.9" r="4.7"/>
<circle cx="626.48" cy="289.3" r="4.7"/>
<circle cx="645.51" cy="289.5" r="4.7"/>
<circle cx="664.54" cy="290.2" r="4.7"/>
<circle cx="683.57" cy="290.6" r="4.7"/>
<circle cx="702.6" cy="291.2" r="4.7"/>
<circle cx="721.63" cy="291.7" r="4.7"/>
<circle cx="740.66" cy="292" r="4.7"/>
<circle cx="759.69" cy="292.3" r="4.7"/>
<circle cx="778.72" cy="292.34" r="4.7"/>
<circle cx="797.75" cy="292.39" r="4.7"/>
<circle cx="816.78" cy="292.43" r="4.7"/>
<circle cx="835.81" cy="292.47" r="4.7"/>
<circle cx="854.84" cy="292.51" r="4.7"/>
<circle cx="873.87" cy="292.56" r="4.7"/>
<circle cx="892.9" cy="292.6" r="4.7"/>
<circle cx="911.93" cy="292.6" r="4.7"/>
<circle cx="930.96" cy="292.6" r="4.7"/>
<circle cx="949.99" cy="292.6" r="4.7"/>
<circle cx="969.02" cy="292.6" r="4.7"/>
<circle cx="988.05" cy="292.6" r="4.7"/>
<circle cx="1007.08" cy="292.6" r="4.7"/>
<circle cx="1026.11" cy="292.6" r="4.7"/>
<circle cx="1045.14" cy="292.6" r="4.7"/>
<circle cx="1064.17" cy="292.6" r="4.7"/>
<circle cx="1083.2" cy="292.6" r="4.7"/>
<circle cx="1102.23" cy="292.6" r="4.7"/>
<circle cx="1121.26" cy="292.6" r="4.7"/>
<circle cx="1140.29" cy="292.6" r="4.7"/>
<circle cx="1159.32" cy="292.6" r="4.7"/>
<circle cx="1178.35" cy="292.6" r="4.7"/>
<circle cx="1197.38" cy="292.6" r="4.7"/>
<circle cx="1216.41" cy="292.6" r="4.7"/>
<circle cx="1235.44" cy="292.6" r="4.7"/>
<circle cx="1254.47" cy="292.6" r="4.7"/>
</g>
<g fill="#00b0f0">
<circle cx="131.7" cy="166.8" r="4.7"/>
<circle cx="150.73" cy="168.4" r="4.7"/>
<circle cx="169.76" cy="170.4" r="4.7"/>
<circle cx="188.79" cy="172.5" r="4.7"/>
<circle cx="207.82" cy="174.4" r="4.7"/>
<circle cx="226.85" cy="177.5" r="4.7"/>
<circle cx="245.88" cy="180.6" r="4.7"/>
<circle cx="264.91" cy="183.8" r="4.7"/>
<circle cx="283.94" cy="187.7" r="4.7"/>
<circle cx="302.97" cy="191.6" r="4.7"/>
<circle cx="322" cy="196.3" r="4.7"/>
<circle cx="341.03" cy="201.7" r="4.7"/>
<circle cx="360.06" cy="207.7" r="4.7"/>
<circle cx="379.09" cy="212.8" r="4.7"/>
<circle cx="398.12" cy="218.6" r="4.7"/>
<circle cx="417.15" cy="224.9" r="4.7"/>
<circle cx="436.18" cy="230.4" r="4.7"/>
<circle cx="455.21" cy="236.4" r="4.7"/>
<circle cx="474.24" cy="243" r="4.7"/>
<circle cx="493.27" cy="248.8" r="4.7"/>
<circle cx="512.3" cy="254.6" r="4.7"/>
<circle cx="531.33" cy="260.4" r="4.7"/>
<circle cx="550.36" cy="265.9" r="4.7"/>
<circle cx="569.39" cy="272.2" r="4.7"/>
<circle cx="588.42" cy="276.9" r="4.7"/>
<circle cx="607.45" cy="281.9" r="4.7"/>
<circle cx="626.48" cy="286" r="4.7"/>
<circle cx="645.51" cy="288.3" r="4.7"/>
<circle cx="664.54" cy="289.5" r="4.7"/>
<circle cx="683.57" cy="290.8" r="4.7"/>
<circle cx="702.6" cy="292.3" r="4.7"/>
<circle cx="721.63" cy="293.2" r="4.7"/>
<circle cx="740.66" cy="293.6" r="4.7"/>
<circle cx="759.69" cy="294" r="4.7"/>
<circle cx="778.72" cy="294.07" r="4.7"/>
<circle cx="797.75" cy="294.14" r="4.7"/>
<circle cx="816.78" cy="294.21" r="4.7"/>
<circle cx="835.81" cy="294.29" r="4.7"/>
<circle cx="854.84" cy="294.36" r="4.7"/>
<circle cx="873.87" cy="294.43" r="4.7"/>
<circle cx="892.9" cy="294.5" r="4.7"/>
<circle cx="911.93" cy="294.5" r="4.7"/>
<circle cx="930.96" cy="294.5" r="4.7"/>
<circle cx="949.99" cy="294.5" r="4.7"/>
<circle cx="969.02" cy="294.5" r="4.7"/>
<circle cx="988.05" cy="294.5" r="4.7"/>
<circle cx="1007.08" cy="294.5" r="4.7"/>
<circle cx="1026.11" cy="294.5" r="4.7"/>
<circle cx="1045.14" cy="294.5" r="4.7"/>
<circle cx="1064.17" cy="294.5" r="4.7"/>
<circle cx="1083.2" cy="294.5" r="4.7"/>
<circle cx="1102.23" cy="294.5" r="4.7"/>
<circle cx="1121.26" cy="294.5" r="4.7"/>
<circle cx="1140.29" cy="294.5" r="4.7"/>
<circle cx="1159.32" cy="294.5" r="4.7"/>
<circle cx="1178.35" cy="294.5" r="4.7"/>
<circle cx="1197.38" cy="294.5" r="4.7"/>
<circle cx="1216.41" cy="294.5" r="4.7"/>
<circle cx="1235.44" cy="294.5" r="4.7"/>
<circle cx="1254.47" cy="294.5" r="4.7"/>
</g>
<g fill="#0070c0">
<circle cx="131.7" cy="168.8" r="4.7"/>
<circle cx="150.73" cy="170.4" r="4.7"/>
<circle cx="169.76" cy="172.4" r="4.7"/>
<circle cx="188.79" cy="174.5" r="4.7"/>
<circle cx="207.82" cy="176.4" r="4.7"/>
<circle cx="226.85" cy="179.5" r="4.7"/>
<circle cx="245.88" cy="182.6" r="4.7"/>
<circle cx="264.91" cy="185.8" r="4.7"/>
<circle cx="283.94" cy="189.7" r="4.7"/>
<circle cx="302.97" cy="193.6" r="4.7"/>
<circle cx="322" cy="198.3" r="4.7"/>
<circle cx="341.03" cy="203.7" r="4.7"/>
<circle cx="360.06" cy="209.7" r="4.7"/>
<circle cx="379.09" cy="214.8" r="4.7"/>
<circle cx="398.12" cy="220.6" r="4.7"/>
<circle cx="417.15" cy="226.9" r="4.7"/>
<circle cx="436.18" cy="232.4" r="4.7"/>
<circle cx="455.21" cy="238.4" r="4.7"/>
<circle cx="474.24" cy="245" r="4.7"/>
<circle cx="493.27" cy="250.8" r="4.7"/>
<circle cx="512.3" cy="256.6" r="4.7"/>
<circle cx="531.33" cy="261.4" r="4.7"/>
<circle cx="550.36" cy="266.9" r="4.7"/>
<circle cx="569.39" cy="273.2" r="4.7"/>
<circle cx="588.42" cy="277.9" r="4.7"/>
<circle cx="607.45" cy="282.9" r="4.7"/>
<circle cx="626.48" cy="287" r="4.7"/>
<circle cx="645.51" cy="289.3" r="4.7"/>
<circle cx="664.54" cy="290.5" r="4.7"/>
<circle cx="683.57" cy="291.8" r="4.7"/>
<circle cx="702.6" cy="293.3" r="4.7"/>
<circle cx="721.63" cy="294.2" r="4.7"/>
<circle cx="740.66" cy="294.6" r="4.7"/>
<circle cx="759.69" cy="295" r="4.7"/>
<circle cx="778.72" cy="295.07" r="4.7"/>
<circle cx="797.75" cy="295.14" r="4.7"/>
<circle cx="816.78" cy="295.21" r="4.7"/>
<circle cx="835.81" cy="295.29" r="4.7"/>
<circle cx="854.84" cy="295.36" r="4.7"/>
<circle cx="873.87" cy="295.43" r="4.7"/>
<circle cx="892.9" cy="295.5" r="4.7"/>
<circle cx="911.93" cy="295.5" r="4.7"/>
<circle cx="930.96" cy="295.5" r="4.7"/>
<circle cx="949.99" cy="295.5" r="4.7"/>
<circle cx="969.02" cy="295.5" r="4.7"/>
<circle cx="988.05" cy="295.5" r="4.7"/>
<circle cx="1007.08" cy="295.5" r="4.7"/>
<circle cx="1026.11" cy="295.5" r="4.7"/>
<circle cx="1045.14" cy="295.5" r="4.7"/>
<circle cx="1064.17" cy="295.5" r="4.7"/>
<circle cx="1083.2" cy="295.5" r="4.7"/>
<circle cx="1102.23" cy="295.5" r="4.7"/>
<circle cx="1121.26" cy="295.5" r="4.7"/>
<circle cx="1140.29" cy="295.5" r="4.7"/>
<circle cx="1159.32" cy="295.5" r="4.7"/>
<circle cx="1178.35" cy="295.5" r="4.7"/>
<circle cx="1197.38" cy="295.5" r="4.7"/>
<circle cx="1216.41" cy="295.5" r="4.7"/>
<circle cx="1235.44" cy="295.5" r="4.7"/>
<circle cx="1254.47" cy="295.5" r="4.7"/>
</g>
<g fill="#ff9966">
<circle cx="131.7" cy="184" r="4.7"/>
<circle cx="150.73" cy="185.3" r="4.7"/>
<circle cx="169.76" cy="187.2" r="4.7"/>
<circle cx="188.79" cy="189.2" r="4.7"/>
<circle cx="207.82" cy="191.5" r="4.7"/>
<circle cx="226.85" cy="193.1" r="4.7"/>
<circle cx="245.88" cy="196.3" r="4.7"/>
<circle cx="264.91" cy="199.7" r="4.7"/>
<circle cx="283.94" cy="202.9" r="4.7"/>
<circle cx="302.97" cy="206.8" r="4.7"/>
<circle cx="322" cy="211.2" r="4.7"/>
<circle cx="341.03" cy="215.9" r="4.7"/>
<circle cx="360.06" cy="220.6" r="4.7"/>
<circle cx="379.09" cy="225.3" r="4.7"/>
<circle cx="398.12" cy="230.8" r="4.7"/>
<circle cx="417.15" cy="236.3" r="4.7"/>
<circle cx="436.18" cy="241.8" r="4.7"/>
<circle cx="455.21" cy="246.9" r="4.7"/>
<circle cx="474.24" cy="252.7" r="4.7"/>
<circle cx="493.27" cy="258.2" r="4.7"/>
<circle cx="512.3" cy="263.5" r="4.7"/>
<circle cx="531.33" cy="268.6" r="4.7"/>
<circle cx="550.36" cy="272.8" r="4.7"/>
<circle cx="569.39" cy="278" r="4.7"/>
<circle cx="588.42" cy="280.9" r="4.7"/>
<circle cx="607.45" cy="284.9" r="4.7"/>
<circle cx="626.48" cy="288.3" r="4.7"/>
<circle cx="645.51" cy="291.1" r="4.7"/>
<circle cx="664.54" cy="293" r="4.7"/>
<circle cx="683.57" cy="294" r="4.7"/>
<circle cx="702.6" cy="295" r="4.7"/>
<circle cx="721.63" cy="295.4" r="4.7"/>
<circle cx="740.66" cy="295.8" r="4.7"/>
<circle cx="759.69" cy="296.2" r="4.7"/>
<circle cx="778.72" cy="296.6" r="4.7"/>
<circle cx="797.75" cy="297" r="4.7"/>
<circle cx="816.78" cy="297.02" r="4.7"/>
<circle cx="835.81" cy="297.04" r="4.7"/>
<circle cx="854.84" cy="297.06" r="4.7"/>
<circle cx="873.87" cy="297.08" r="4.7"/>
<circle cx="892.9" cy="297.1" r="4.7"/>
<circle cx="911.93" cy="297.12" r="4.7"/>
<circle cx="930.96" cy="297.15" r="4.7"/>
<circle cx="949.99" cy="297.17" r="4.7"/>
<circle cx="969.02" cy="297.19" r="4.7"/>
<circle cx="988.05" cy="297.21" r="4.7"/>
<circle cx="1007.08" cy="297.23" r="4.7"/>
<circle cx="1026.11" cy="297.25" r="4.7"/>
<circle cx="1045.14" cy="297.27" r="4.7"/>
<circle cx="1064.17" cy="297.29" r="4.7"/>
<circle cx="1083.2" cy="297.31" r="4.7"/>
<circle cx="1102.23" cy="297.33" r="4.7"/>
<circle cx="1121.26" cy="297.35" r="4.7"/>
<circle cx="1140.29" cy="297.38" r="4.7"/>
<circle cx="1159.32" cy="297.4" r="4.7"/>
<circle cx="1178.35" cy="297.42" r="4.7"/>
<circle cx="1197.38" cy="297.44" r="4.7"/>
<circle cx="1216.41" cy="297.46" r="4.7"/>
<circle cx="1235.44" cy="297.48" r="4.7"/>
<circle cx="1254.47" cy="297.5" r="4.7"/>
</g>
<g fill="#ff7c80">
<circle cx="131.7" cy="182.5" r="4.7"/>
<circle cx="150.73" cy="183.8" r="4.7"/>
<circle cx="169.76" cy="185.7" r="4.7"/>
<circle cx="188.79" cy="187.7" r="4.7"/>
<circle cx="207.82" cy="190" r="4.7"/>
<circle cx="226.85" cy="191.6" r="4.7"/>
<circle cx="245.88" cy="194.8" r="4.7"/>
<circle cx="264.91" cy="198.2" r="4.7"/>
<circle cx="283.94" cy="201.4" r="4.7"/>
<circle cx="302.97" cy="205.3" r="4.7"/>
<circle cx="322" cy="209.7" r="4.7"/>
<circle cx="341.03" cy="214.4" r="4.7"/>
<circle cx="360.06" cy="219.1" r="4.7"/>
<circle cx="379.09" cy="223.8" r="4.7"/>
<circle cx="398.12" cy="229.3" r="4.7"/>
<circle cx="417.15" cy="234.8" r="4.7"/>
<circle cx="436.18" cy="240.3" r="4.7"/>
<circle cx="455.21" cy="245.4" r="4.7"/>
<circle cx="474.24" cy="251.2" r="4.7"/>
<circle cx="493.27" cy="256.7" r="4.7"/>
<circle cx="512.3" cy="262" r="4.7"/>
<circle cx="531.33" cy="267.1" r="4.7"/>
<circle cx="550.36" cy="271.3" r="4.7"/>
<circle cx="569.39" cy="276.5" r="4.7"/>
<circle cx="588.42" cy="280.4" r="4.7"/>
<circle cx="607.45" cy="284.4" r="4.7"/>
<circle cx="626.48" cy="287.8" r="4.7"/>
<circle cx="645.51" cy="290.6" r="4.7"/>
<circle cx="664.54" cy="292.5" r="4.7"/>
<circle cx="683.57" cy="293.5" r="4.7"/>
<circle cx="702.6" cy="294.5" r="4.7"/>
<circle cx="721.63" cy="294.9" r="4.7"/>
<circle cx="740.66" cy="295.3" r="4.7"/>
<circle cx="759.69" cy="295.7" r="4.7"/>
<circle cx="778.72" cy="296.1" r="4.7"/>
<circle cx="797.75" cy="296.5" r="4.7"/>
<circle cx="816.78" cy="296.52" r="4.7"/>
<circle cx="835.81" cy="296.54" r="4.7"/>
<circle cx="854.84" cy="296.56" r="4.7"/>
<circle cx="873.87" cy="296.58" r="4.7"/>
<circle cx="892.9" cy="296.6" r="4.7"/>
<circle cx="911.93" cy="296.62" r="4.7"/>
<circle cx="930.96" cy="296.65" r="4.7"/>
<circle cx="949.99" cy="296.67" r="4.7"/>
<circle cx="969.02" cy="296.69" r="4.7"/>
<circle cx="988.05" cy="296.71" r="4.7"/>
<circle cx="1007.08" cy="296.73" r="4.7"/>
<circle cx="1026.11" cy="296.75" r="4.7"/>
<circle cx="1045.14" cy="296.77" r="4.7"/>
<circle cx="1064.17" cy="296.79" r="4.7"/>
<circle cx="1083.2" cy="296.81" r="4.7"/>
<circle cx="1102.23" cy="296.83" r="4.7"/>
<circle cx="1121.26" cy="296.85" r="4.7"/>
<circle cx="1140.29" cy="296.88" r="4.7"/>
<circle cx="1159.32" cy="296.9" r="4.7"/>
<circle cx="1178.35" cy="296.92" r="4.7"/>
<circle cx="1197.38" cy="296.94" r="4.7"/>
<circle cx="1216.41" cy="296.96" r="4.7"/>
<circle cx="1235.44" cy="296.98" r="4.7"/>
<circle cx="1254.47" cy="297" r="4.7"/>
</g>
<g fill="#ff0066">
<circle cx="131.7" cy="172" r="4.7"/>
<circle cx="150.73" cy="173.9" r="4.7"/>
<circle cx="169.76" cy="175.9" r="4.7"/>
<circle cx="188.79" cy="177.5" r="4.7"/>
<circle cx="207.82" cy="179.8" r="4.7"/>
<circle cx="226.85" cy="183" r="4.7"/>
<circle cx="245.88" cy="185.8" r="4.7"/>
<circle cx="264.91" cy="189.3" r="4.7"/>
<circle cx="283.94" cy="192.7" r="4.7"/>
<circle cx="302.97" cy="196.8" r="4.7"/>
<circle cx="322" cy="201.6" r="4.7"/>
<circle cx="341.03" cy="206.5" r="4.7"/>
<circle cx="360.06" cy="212" r="4.7"/>
<circle cx="379.09" cy="216.7" r="4.7"/>
<circle cx="398.12" cy="222.2" r="4.7"/>
<circle cx="417.15" cy="227.7" r="4.7"/>
<circle cx="436.18" cy="233.2" r="4.7"/>
<circle cx="455.21" cy="239.5" r="4.7"/>
<circle cx="474.24" cy="245.3" r="4.7"/>
<circle cx="493.27" cy="250.9" r="4.7"/>
<circle cx="512.3" cy="256.2" r="4.7"/>
<circle cx="531.33" cy="261.1" r="4.7"/>
<circle cx="550.36" cy="266.8" r="4.7"/>
<circle cx="569.39" cy="272.6" r="4.7"/>
<circle cx="588.42" cy="276.5" r="4.7"/>
<circle cx="607.45" cy="281.2" r="4.7"/>
<circle cx="626.48" cy="285.1" r="4.7"/>
<circle cx="645.51" cy="288.6" r="4.7"/>
<circle cx="664.54" cy="291" r="4.7"/>
<circle cx="683.57" cy="293" r="4.7"/>
<circle cx="702.6" cy="294" r="4.7"/>
<circle cx="721.63" cy="295" r="4.7"/>
<circle cx="740.66" cy="295.38" r="4.7"/>
<circle cx="759.69" cy="295.75" r="4.7"/>
<circle cx="778.72" cy="296.12" r="4.7"/>
<circle cx="797.75" cy="296.5" r="4.7"/>
<circle cx="816.78" cy="296.52" r="4.7"/>
<circle cx="835.81" cy="296.54" r="4.7"/>
<circle cx="854.84" cy="296.56" r="4.7"/>
<circle cx="873.87" cy="296.58" r="4.7"/>
<circle cx="892.9" cy="296.6" r="4.7"/>
<circle cx="911.93" cy="296.62" r="4.7"/>
<circle cx="930.96" cy="296.65" r="4.7"/>
<circle cx="949.99" cy="296.67" r="4.7"/>
<circle cx="969.02" cy="296.69" r="4.7"/>
<circle cx="988.05" cy="296.71" r="4.7"/>
<circle cx="1007.08" cy="296.73" r="4.7"/>
<circle cx="1026.11" cy="296.75" r="4.7"/>
<circle cx="1045.14" cy="296.77" r="4.7"/>
<circle cx="1064.17" cy="296.79" r="4.7"/>
<circle cx="1083.2" cy="296.81" r="4.7"/>
<circle cx="1102.23" cy="296.83" r="4.7"/>
<circle cx="1121.26" cy="296.85" r="4.7"/>
<circle cx="1140.29" cy="296.88" r="4.7"/>
<circle cx="1159.32" cy="296.9" r="4.7"/>
<circle cx="1178.35" cy="296.92" r="4.7"/>
<circle cx="1197.38" cy="296.94" r="4.7"/>
<circle cx="1216.41" cy="296.96" r="4.7"/>
<circle cx="1235.44" cy="296.98" r="4.7"/>
<circle cx="1254.47" cy="297" r="4.7"/>
</g>
<g fill="#d60093">
<circle cx="131.7" cy="159.9" r="4.7"/>
<circle cx="150.73" cy="161.3" r="4.7"/>
<circle cx="169.76" cy="163" r="4.7"/>
<circle cx="188.79" cy="165.7" r="4.7"/>
<circle cx="207.82" cy="168.9" r="4.7"/>
<circle cx="226.85" cy="171.2" r="4.7"/>
<circle cx="245.88" cy="174.8" r="4.7"/>
<circle cx="264.91" cy="178.7" r="4.7"/>
<circle cx="283.94" cy="183" r="4.7"/>
<circle cx="302.97" cy="188" r="4.7"/>
<circle cx="322" cy="193" r="4.7"/>
<circle cx="341.03" cy="198.2" r="4.7"/>
<circle cx="360.06" cy="204.2" r="4.7"/>
<circle cx="379.09" cy="209.3" r="4.7"/>
<circle cx="398.12" cy="215.1" r="4.7"/>
<circle cx="417.15" cy="221.4" r="4.7"/>
<circle cx="436.18" cy="226.9" r="4.7"/>
<circle cx="455.21" cy="232.9" r="4.7"/>
<circle cx="474.24" cy="239.5" r="4.7"/>
<circle cx="493.27" cy="245.3" r="4.7"/>
<circle cx="512.3" cy="251.1" r="4.7"/>
<circle cx="531.33" cy="256.9" r="4.7"/>
<circle cx="550.36" cy="262.4" r="4.7"/>
<circle cx="569.39" cy="268.7" r="4.7"/>
<circle cx="588.42" cy="273.4" r="4.7"/>
<circle cx="607.45" cy="278.4" r="4.7"/>
<circle cx="626.48" cy="282.5" r="4.7"/>
<circle cx="645.51" cy="286.7" r="4.7"/>
<circle cx="664.54" cy="289.8" r="4.7"/>
<circle cx="683.57" cy="292" r="4.7"/>
<circle cx="702.6" cy="294" r="4.7"/>
<circle cx="721.63" cy="294.44" r="4.7"/>
<circle cx="740.66" cy="294.88" r="4.7"/>
<circle cx="759.69" cy="295.32" r="4.7"/>
<circle cx="778.72" cy="295.76" r="4.7"/>
<circle cx="797.75" cy="296.2" r="4.7"/>
<circle cx="816.78" cy="296.22" r="4.7"/>
<circle cx="835.81" cy="296.25" r="4.7"/>
<circle cx="854.84" cy="296.27" r="4.7"/>
<circle cx="873.87" cy="296.3" r="4.7"/>
<circle cx="892.9" cy="296.32" r="4.7"/>
<circle cx="911.93" cy="296.35" r="4.7"/>
<circle cx="930.96" cy="296.38" r="4.7"/>
<circle cx="949.99" cy="296.4" r="4.7"/>
<circle cx="969.02" cy="296.43" r="4.7"/>
<circle cx="988.05" cy="296.45" r="4.7"/>
<circle cx="1007.08" cy="296.48" r="4.7"/>
<circle cx="1026.11" cy="296.5" r="4.7"/>
<circle cx="1045.14" cy="296.52" r="4.7"/>
<circle cx="1064.17" cy="296.55" r="4.7"/>
<circle cx="1083.2" cy="296.57" r="4.7"/>
<circle cx="1102.23" cy="296.6" r="4.7"/>
<circle cx="1121.26" cy="296.62" r="4.7"/>
<circle cx="1140.29" cy="296.65" r="4.7"/>
<circle cx="1159.32" cy="296.68" r="4.7"/>
<circle cx="1178.35" cy="296.7" r="4.7"/>
<circle cx="1197.38" cy="296.73" r="4.7"/>
<circle cx="1216.41" cy="296.75" r="4.7"/>
<circle cx="1235.44" cy="296.78" r="4.7"/>
<circle cx="1254.47" cy="296.8" r="4.7"/>
</g>
<g fill="#993366">
<circle cx="131.7" cy="131.7" r="4.7"/>
<circle cx="150.73" cy="134.2" r="4.7"/>
<circle cx="169.76" cy="137" r="4.7"/>
<circle cx="188.79" cy="140.6" r="4.7"/>
<circle cx="207.82" cy="144.8" r="4.7"/>
<circle cx="226.85" cy="149.6" r="4.7"/>
<circle cx="245.88" cy="154" r="4.7"/>
<circle cx="264.91" cy="159.4" r="4.7"/>
<circle cx="283.94" cy="164.6" r="4.7"/>
<circle cx="302.97" cy="170.4" r="4.7"/>
<circle cx="322" cy="176.4" r="4.7"/>
<circle cx="341.03" cy="182.5" r="4.7"/>
<circle cx="360.06" cy="188.9" r="4.7"/>
<circle cx="379.09" cy="195.2" r="4.7"/>
<circle cx="398.12" cy="201.5" r="4.7"/>
<circle cx="417.15" cy="207.8" r="4.7"/>
<circle cx="436.18" cy="214.4" r="4.7"/>
<circle cx="455.21" cy="220.9" r="4.7"/>
<circle cx="474.24" cy="227.7" r="4.7"/>
<circle cx="493.27" cy="234.3" r="4.7"/>
<circle cx="512.3" cy="240.4" r="4.7"/>
<circle cx="531.33" cy="247" r="4.7"/>
<circle cx="550.36" cy="253.4" r="4.7"/>
<circle cx="569.39" cy="260.2" r="4.7"/>
<circle cx="588.42" cy="266.3" r="4.7"/>
<circle cx="607.45" cy="271.8" r="4.7"/>
<circle cx="626.48" cy="276.5" r="4.7"/>
<circle cx="645.51" cy="282" r="4.7"/>
<circle cx="664.54" cy="286.7" r="4.7"/>
<circle cx="683.57" cy="290.6" r="4.7"/>
<circle cx="702.6" cy="292.7" r="4.7"/>
<circle cx="721.63" cy="294.4" r="4.7"/>
<circle cx="740.66" cy="295.8" r="4.7"/>
<circle cx="759.69" cy="296.3" r="4.7"/>
<circle cx="778.72" cy="296.8" r="4.7"/>
<circle cx="797.75" cy="297.3" r="4.7"/>
<circle cx="816.78" cy="297.8" r="4.7"/>
<circle cx="835.81" cy="298.1" r="4.7"/>
<circle cx="854.84" cy="298.4" r="4.7"/>
<circle cx="873.87" cy="298.7" r="4.7"/>
<circle cx="892.9" cy="299" r="4.7"/>
<circle cx="911.93" cy="299.03" r="4.7"/>
<circle cx="930.96" cy="299.05" r="4.7"/>
<circle cx="949.99" cy="299.08" r="4.7"/>
<circle cx="969.02" cy="299.11" r="4.7"/>
<circle cx="988.05" cy="299.13" r="4.7"/>
<circle cx="1007.08" cy="299.16" r="4.7"/>
<circle cx="1026.11" cy="299.18" r="4.7"/>
<circle cx="1045.14" cy="299.21" r="4.7"/>
<circle cx="1064.17" cy="299.24" r="4.7"/>
<circle cx="1083.2" cy="299.26" r="4.7"/>
<circle cx="1102.23" cy="299.29" r="4.7"/>
<circle cx="1121.26" cy="299.32" r="4.7"/>
<circle cx="1140.29" cy="299.34" r="4.7"/>
<circle cx="1159.32" cy="299.37" r="4.7"/>
<circle cx="1178.35" cy="299.39" r="4.7"/>
<circle cx="1197.38" cy="299.42" r="4.7"/>
<circle cx="1216.41" cy="299.45" r="4.7"/>
<circle cx="1235.44" cy="299.47" r="4.7"/>
<circle cx="1254.47" cy="299.5" r="4.7"/>
</g>
<text x="68.5" y="43.4" font-size="30" text-anchor="start">10</text>
<text x="101" y="34.7" font-size="20" text-anchor="start">5</text>
<text x="68.5" y="135.3" font-size="30" text-anchor="start">10</text>
<text x="101" y="126.6" font-size="20" text-anchor="start">4</text>
<text x="68.5" y="223.8" font-size="30" text-anchor="start">10</text>
<text x="101" y="215.1" font-size="20" text-anchor="start">3</text>
<text x="68.5" y="305.5" font-size="30" text-anchor="start">10</text>
<text x="101" y="296.8" font-size="20" text-anchor="start">2</text>
<text x="68.5" y="400.6" font-size="30" text-anchor="start">10</text>
<text x="128.2" y="419.7" font-size="30" text-anchor="middle">0.1</text>
<text x="324" y="419.7" font-size="30" text-anchor="middle">1</text>
<text x="510" y="419.7" font-size="30" text-anchor="middle">10</text>
<text x="681.5" y="419.7" font-size="30" text-anchor="start">10</text>
<text x="716.5" y="411" font-size="20" text-anchor="start">2</text>
<text x="876" y="419.7" font-size="30" text-anchor="start">10</text>
<text x="909.5" y="411" font-size="20" text-anchor="start">3</text>
<text x="1067" y="419.7" font-size="30" text-anchor="start">10</text>
<text x="1100.5" y="411" font-size="20" text-anchor="start">4</text>
<text x="1248" y="419.7" font-size="30" text-anchor="start">10</text>
<text x="1281.5" y="411" font-size="20" text-anchor="start">5</text>
<text x="603" y="458.8" font-size="30" text-anchor="start">frequency <tspan font-style="italic">f</tspan>, Hz</text>
<text transform="translate(36.9,321.2) rotate(-90)" font-size="30">|Z|, kΩ · cm<tspan font-size="20" dy="-10">2</tspan></text>
<circle cx="29.7" cy="26.9" r="25.8" fill="none" stroke="#000" stroke-width="1.1"/>
<text x="28.7" y="37.8" font-size="30" text-anchor="middle">a</text>
<rect x="560" y="459.6" width="300" height="29.5" fill="#fff"/>
<rect x="610.8" y="1.9" width="726.2" height="97.5" fill="#fff" stroke="#000" stroke-width="2.0"/>
<circle cx="636.7" cy="26.2" r="4.7" fill="#666633"/>
<text x="650.8" y="35.7" font-size="30" text-anchor="start">0 min</text>
<circle cx="781.7" cy="26.2" r="4.7" fill="#99cc00"/>
<text x="795.8" y="35.7" font-size="30" text-anchor="start">4 min</text>
<circle cx="927" cy="26.2" r="4.7" fill="#ccff33"/>
<text x="941.1" y="35.7" font-size="30" text-anchor="start">15 min</text>
<circle cx="1072.2" cy="26.2" r="4.7" fill="#00b0f0"/>
<text x="1086.3" y="35.7" font-size="30" text-anchor="start">1 h</text>
<circle cx="1217.2" cy="26.2" r="4.7" fill="#0070c0"/>
<text x="1231.3" y="35.7" font-size="30" text-anchor="start">2 h</text>
<circle cx="636.7" cy="75.2" r="4.7" fill="#ff9966"/>
<text x="650.8" y="84.7" font-size="30" text-anchor="start">3 h</text>
<circle cx="781.7" cy="75.2" r="4.7" fill="#ff7c80"/>
<text x="795.8" y="84.7" font-size="30" text-anchor="start">5 h</text>
<circle cx="927" cy="75.2" r="4.7" fill="#ff0066"/>
<text x="941.1" y="84.7" font-size="30" text-anchor="start">10 h</text>
<circle cx="1072.2" cy="75.2" r="4.7" fill="#d60093"/>
<text x="1086.3" y="84.7" font-size="30" text-anchor="start">15 h</text>
<circle cx="1217.2" cy="75.2" r="4.7" fill="#993366"/>
<text x="1231.3" y="84.7" font-size="30" text-anchor="start">24 h</text>
<line x1="129.3" y1="566.25" x2="1269.98" y2="566.25" stroke="#d5d5d5" stroke-width="1.8"/>
<line x1="129.3" y1="641.95" x2="1269.98" y2="641.95" stroke="#d5d5d5" stroke-width="1.8"/>
<line x1="129.3" y1="717.65" x2="1269.98" y2="717.65" stroke="#d5d5d5" stroke-width="1.8"/>
<line x1="129.3" y1="793.35" x2="1269.98" y2="793.35" stroke="#d5d5d5" stroke-width="1.8"/>
<line x1="128.3" y1="492.05" x2="128.3" y2="829.7" stroke="#fff" stroke-width="4.6"/>
<line x1="318.58" y1="492.05" x2="318.58" y2="829.7" stroke="#fff" stroke-width="4.6"/>
<line x1="508.86" y1="492.05" x2="508.86" y2="829.7" stroke="#fff" stroke-width="4.6"/>
<line x1="699.14" y1="492.05" x2="699.14" y2="829.7" stroke="#fff" stroke-width="4.6"/>
<line x1="889.42" y1="492.05" x2="889.42" y2="829.7" stroke="#fff" stroke-width="4.6"/>
<line x1="1079.7" y1="492.05" x2="1079.7" y2="829.7" stroke="#fff" stroke-width="4.6"/>
<line x1="1269.98" y1="492.05" x2="1269.98" y2="829.7" stroke="#fff" stroke-width="4.6"/>
<line x1="128.3" y1="490.55" x2="128.3" y2="840.2" stroke="#000" stroke-width="2.0"/>
<line x1="318.58" y1="490.55" x2="318.58" y2="840.2" stroke="#000" stroke-width="2.0"/>
<line x1="508.86" y1="490.55" x2="508.86" y2="840.2" stroke="#000" stroke-width="2.0"/>
<line x1="699.14" y1="490.55" x2="699.14" y2="840.2" stroke="#000" stroke-width="2.0"/>
<line x1="889.42" y1="490.55" x2="889.42" y2="840.2" stroke="#000" stroke-width="2.0"/>
<line x1="1079.7" y1="490.55" x2="1079.7" y2="840.2" stroke="#000" stroke-width="2.0"/>
<line x1="1269.98" y1="490.55" x2="1269.98" y2="840.2" stroke="#000" stroke-width="2.0"/>
<line x1="128.3" y1="490.55" x2="1269.98" y2="490.55" stroke="#000" stroke-width="2.0"/>
<line x1="119.3" y1="528.4" x2="1269.98" y2="528.4" stroke="#000" stroke-width="2.0"/>
<line x1="119.3" y1="604.1" x2="1269.98" y2="604.1" stroke="#000" stroke-width="2.0"/>
<line x1="119.3" y1="679.8" x2="1269.98" y2="679.8" stroke="#000" stroke-width="2.0"/>
<line x1="119.3" y1="755.5" x2="1269.98" y2="755.5" stroke="#000" stroke-width="2.0"/>
<line x1="119.3" y1="831.2" x2="1269.98" y2="831.2" stroke="#000" stroke-width="2.0"/>
<rect x="183.98" y="527" width="3.2" height="2.8" fill="#fff"/>
<rect x="183.98" y="602.7" width="3.2" height="2.8" fill="#fff"/>
<rect x="183.98" y="678.4" width="3.2" height="2.8" fill="#fff"/>
<rect x="183.98" y="754.1" width="3.2" height="2.8" fill="#fff"/>
<line x1="185.58" y1="491.95" x2="185.58" y2="830.2" stroke="#d5d5d5" stroke-width="1.8"/>
<rect x="217.49" y="527" width="3.2" height="2.8" fill="#fff"/>
<rect x="217.49" y="602.7" width="3.2" height="2.8" fill="#fff"/>
<rect x="217.49" y="678.4" width="3.2" height="2.8" fill="#fff"/>
<rect x="217.49" y="754.1" width="3.2" height="2.8" fill="#fff"/>
<line x1="219.09" y1="491.95" x2="219.09" y2="830.2" stroke="#d5d5d5" stroke-width="1.8"/>
<rect x="241.26" y="527" width="3.2" height="2.8" fill="#fff"/>
<rect x="241.26" y="602.7" width="3.2" height="2.8" fill="#fff"/>
<rect x="241.26" y="678.4" width="3.2" height="2.8" fill="#fff"/>
<rect x="241.26" y="754.1" width="3.2" height="2.8" fill="#fff"/>
<line x1="242.86" y1="491.95" x2="242.86" y2="830.2" stroke="#d5d5d5" stroke-width="1.8"/>
<rect x="259.7" y="527" width="3.2" height="2.8" fill="#fff"/>
<rect x="259.7" y="602.7" width="3.2" height="2.8" fill="#fff"/>
<rect x="259.7" y="678.4" width="3.2" height="2.8" fill="#fff"/>
<rect x="259.7" y="754.1" width="3.2" height="2.8" fill="#fff"/>
<line x1="261.3" y1="491.95" x2="261.3" y2="830.2" stroke="#d5d5d5" stroke-width="1.8"/>
<rect x="274.77" y="527" width="3.2" height="2.8" fill="#fff"/>
<rect x="274.77" y="602.7" width="3.2" height="2.8" fill="#fff"/>
<rect x="274.77" y="678.4" width="3.2" height="2.8" fill="#fff"/>
<rect x="274.77" y="754.1" width="3.2" height="2.8" fill="#fff"/>
<line x1="276.37" y1="491.95" x2="276.37" y2="830.2" stroke="#d5d5d5" stroke-width="1.8"/>
<rect x="287.51" y="527" width="3.2" height="2.8" fill="#fff"/>
<rect x="287.51" y="602.7" width="3.2" height="2.8" fill="#fff"/>
<rect x="287.51" y="678.4" width="3.2" height="2.8" fill="#fff"/>
<rect x="287.51" y="754.1" width="3.2" height="2.8" fill="#fff"/>
<line x1="289.11" y1="491.95" x2="289.11" y2="830.2" stroke="#d5d5d5" stroke-width="1.8"/>
<rect x="298.54" y="527" width="3.2" height="2.8" fill="#fff"/>
<rect x="298.54" y="602.7" width="3.2" height="2.8" fill="#fff"/>
<rect x="298.54" y="678.4" width="3.2" height="2.8" fill="#fff"/>
<rect x="298.54" y="754.1" width="3.2" height="2.8" fill="#fff"/>
<line x1="300.14" y1="491.95" x2="300.14" y2="830.2" stroke="#d5d5d5" stroke-width="1.8"/>
<rect x="308.27" y="527" width="3.2" height="2.8" fill="#fff"/>
<rect x="308.27" y="602.7" width="3.2" height="2.8" fill="#fff"/>
<rect x="308.27" y="678.4" width="3.2" height="2.8" fill="#fff"/>
<rect x="308.27" y="754.1" width="3.2" height="2.8" fill="#fff"/>
<line x1="309.87" y1="491.95" x2="309.87" y2="830.2" stroke="#d5d5d5" stroke-width="1.8"/>
<rect x="374.26" y="527" width="3.2" height="2.8" fill="#fff"/>
<rect x="374.26" y="602.7" width="3.2" height="2.8" fill="#fff"/>
<rect x="374.26" y="678.4" width="3.2" height="2.8" fill="#fff"/>
<rect x="374.26" y="754.1" width="3.2" height="2.8" fill="#fff"/>
<line x1="375.86" y1="491.95" x2="375.86" y2="830.2" stroke="#d5d5d5" stroke-width="1.8"/>
<rect x="407.77" y="527" width="3.2" height="2.8" fill="#fff"/>
<rect x="407.77" y="602.7" width="3.2" height="2.8" fill="#fff"/>
<rect x="407.77" y="678.4" width="3.2" height="2.8" fill="#fff"/>
<rect x="407.77" y="754.1" width="3.2" height="2.8" fill="#fff"/>
<line x1="409.37" y1="491.95" x2="409.37" y2="830.2" stroke="#d5d5d5" stroke-width="1.8"/>
<rect x="431.54" y="527" width="3.2" height="2.8" fill="#fff"/>
<rect x="431.54" y="602.7" width="3.2" height="2.8" fill="#fff"/>
<rect x="431.54" y="678.4" width="3.2" height="2.8" fill="#fff"/>
<rect x="431.54" y="754.1" width="3.2" height="2.8" fill="#fff"/>
<line x1="433.14" y1="491.95" x2="433.14" y2="830.2" stroke="#d5d5d5" stroke-width="1.8"/>
<rect x="449.98" y="527" width="3.2" height="2.8" fill="#fff"/>
<rect x="449.98" y="602.7" width="3.2" height="2.8" fill="#fff"/>
<rect x="449.98" y="678.4" width="3.2" height="2.8" fill="#fff"/>
<rect x="449.98" y="754.1" width="3.2" height="2.8" fill="#fff"/>
<line x1="451.58" y1="491.95" x2="451.58" y2="830.2" stroke="#d5d5d5" stroke-width="1.8"/>
<rect x="465.05" y="527" width="3.2" height="2.8" fill="#fff"/>
<rect x="465.05" y="602.7" width="3.2" height="2.8" fill="#fff"/>
<rect x="465.05" y="678.4" width="3.2" height="2.8" fill="#fff"/>
<rect x="465.05" y="754.1" width="3.2" height="2.8" fill="#fff"/>
<line x1="466.65" y1="491.95" x2="466.65" y2="830.2" stroke="#d5d5d5" stroke-width="1.8"/>
<rect x="477.79" y="527" width="3.2" height="2.8" fill="#fff"/>
<rect x="477.79" y="602.7" width="3.2" height="2.8" fill="#fff"/>
<rect x="477.79" y="678.4" width="3.2" height="2.8" fill="#fff"/>
<rect x="477.79" y="754.1" width="3.2" height="2.8" fill="#fff"/>
<line x1="479.39" y1="491.95" x2="479.39" y2="830.2" stroke="#d5d5d5" stroke-width="1.8"/>
<rect x="488.82" y="527" width="3.2" height="2.8" fill="#fff"/>
<rect x="488.82" y="602.7" width="3.2" height="2.8" fill="#fff"/>
<rect x="488.82" y="678.4" width="3.2" height="2.8" fill="#fff"/>
<rect x="488.82" y="754.1" width="3.2" height="2.8" fill="#fff"/>
<line x1="490.42" y1="491.95" x2="490.42" y2="830.2" stroke="#d5d5d5" stroke-width="1.8"/>
<rect x="498.55" y="527" width="3.2" height="2.8" fill="#fff"/>
<rect x="498.55" y="602.7" width="3.2" height="2.8" fill="#fff"/>
<rect x="498.55" y="678.4" width="3.2" height="2.8" fill="#fff"/>
<rect x="498.55" y="754.1" width="3.2" height="2.8" fill="#fff"/>
<line x1="500.15" y1="491.95" x2="500.15" y2="830.2" stroke="#d5d5d5" stroke-width="1.8"/>
<rect x="564.54" y="527" width="3.2" height="2.8" fill="#fff"/>
<rect x="564.54" y="602.7" width="3.2" height="2.8" fill="#fff"/>
<rect x="564.54" y="678.4" width="3.2" height="2.8" fill="#fff"/>
<rect x="564.54" y="754.1" width="3.2" height="2.8" fill="#fff"/>
<line x1="566.14" y1="491.95" x2="566.14" y2="830.2" stroke="#d5d5d5" stroke-width="1.8"/>
<rect x="598.05" y="527" width="3.2" height="2.8" fill="#fff"/>
<rect x="598.05" y="602.7" width="3.2" height="2.8" fill="#fff"/>
<rect x="598.05" y="678.4" width="3.2" height="2.8" fill="#fff"/>
<rect x="598.05" y="754.1" width="3.2" height="2.8" fill="#fff"/>
<line x1="599.65" y1="491.95" x2="599.65" y2="830.2" stroke="#d5d5d5" stroke-width="1.8"/>
<rect x="621.82" y="527" width="3.2" height="2.8" fill="#fff"/>
<rect x="621.82" y="602.7" width="3.2" height="2.8" fill="#fff"/>
<rect x="621.82" y="678.4" width="3.2" height="2.8" fill="#fff"/>
<rect x="621.82" y="754.1" width="3.2" height="2.8" fill="#fff"/>
<line x1="623.42" y1="491.95" x2="623.42" y2="830.2" stroke="#d5d5d5" stroke-width="1.8"/>
<rect x="640.26" y="527" width="3.2" height="2.8" fill="#fff"/>
<rect x="640.26" y="602.7" width="3.2" height="2.8" fill="#fff"/>
<rect x="640.26" y="678.4" width="3.2" height="2.8" fill="#fff"/>
<rect x="640.26" y="754.1" width="3.2" height="2.8" fill="#fff"/>
<line x1="641.86" y1="491.95" x2="641.86" y2="830.2" stroke="#d5d5d5" stroke-width="1.8"/>
<rect x="655.33" y="527" width="3.2" height="2.8" fill="#fff"/>
<rect x="655.33" y="602.7" width="3.2" height="2.8" fill="#fff"/>
<rect x="655.33" y="678.4" width="3.2" height="2.8" fill="#fff"/>
<rect x="655.33" y="754.1" width="3.2" height="2.8" fill="#fff"/>
<line x1="656.93" y1="491.95" x2="656.93" y2="830.2" stroke="#d5d5d5" stroke-width="1.8"/>
<rect x="668.07" y="527" width="3.2" height="2.8" fill="#fff"/>
<rect x="668.07" y="602.7" width="3.2" height="2.8" fill="#fff"/>
<rect x="668.07" y="678.4" width="3.2" height="2.8" fill="#fff"/>
<rect x="668.07" y="754.1" width="3.2" height="2.8" fill="#fff"/>
<line x1="669.67" y1="491.95" x2="669.67" y2="830.2" stroke="#d5d5d5" stroke-width="1.8"/>
<rect x="679.1" y="527" width="3.2" height="2.8" fill="#fff"/>
<rect x="679.1" y="602.7" width="3.2" height="2.8" fill="#fff"/>
<rect x="679.1" y="678.4" width="3.2" height="2.8" fill="#fff"/>
<rect x="679.1" y="754.1" width="3.2" height="2.8" fill="#fff"/>
<line x1="680.7" y1="491.95" x2="680.7" y2="830.2" stroke="#d5d5d5" stroke-width="1.8"/>
<rect x="688.83" y="527" width="3.2" height="2.8" fill="#fff"/>
<rect x="688.83" y="602.7" width="3.2" height="2.8" fill="#fff"/>
<rect x="688.83" y="678.4" width="3.2" height="2.8" fill="#fff"/>
<rect x="688.83" y="754.1" width="3.2" height="2.8" fill="#fff"/>
<line x1="690.43" y1="491.95" x2="690.43" y2="830.2" stroke="#d5d5d5" stroke-width="1.8"/>
<rect x="754.82" y="527" width="3.2" height="2.8" fill="#fff"/>
<rect x="754.82" y="602.7" width="3.2" height="2.8" fill="#fff"/>
<rect x="754.82" y="678.4" width="3.2" height="2.8" fill="#fff"/>
<rect x="754.82" y="754.1" width="3.2" height="2.8" fill="#fff"/>
<line x1="756.42" y1="491.95" x2="756.42" y2="830.2" stroke="#d5d5d5" stroke-width="1.8"/>
<rect x="788.33" y="527" width="3.2" height="2.8" fill="#fff"/>
<rect x="788.33" y="602.7" width="3.2" height="2.8" fill="#fff"/>
<rect x="788.33" y="678.4" width="3.2" height="2.8" fill="#fff"/>
<rect x="788.33" y="754.1" width="3.2" height="2.8" fill="#fff"/>
<line x1="789.93" y1="491.95" x2="789.93" y2="830.2" stroke="#d5d5d5" stroke-width="1.8"/>
<rect x="812.1" y="527" width="3.2" height="2.8" fill="#fff"/>
<rect x="812.1" y="602.7" width="3.2" height="2.8" fill="#fff"/>
<rect x="812.1" y="678.4" width="3.2" height="2.8" fill="#fff"/>
<rect x="812.1" y="754.1" width="3.2" height="2.8" fill="#fff"/>
<line x1="813.7" y1="491.95" x2="813.7" y2="830.2" stroke="#d5d5d5" stroke-width="1.8"/>
<rect x="830.54" y="527" width="3.2" height="2.8" fill="#fff"/>
<rect x="830.54" y="602.7" width="3.2" height="2.8" fill="#fff"/>
<rect x="830.54" y="678.4" width="3.2" height="2.8" fill="#fff"/>
<rect x="830.54" y="754.1" width="3.2" height="2.8" fill="#fff"/>
<line x1="832.14" y1="491.95" x2="832.14" y2="830.2" stroke="#d5d5d5" stroke-width="1.8"/>
<rect x="845.61" y="527" width="3.2" height="2.8" fill="#fff"/>
<rect x="845.61" y="602.7" width="3.2" height="2.8" fill="#fff"/>
<rect x="845.61" y="678.4" width="3.2" height="2.8" fill="#fff"/>
<rect x="845.61" y="754.1" width="3.2" height="2.8" fill="#fff"/>
<line x1="847.21" y1="491.95" x2="847.21" y2="830.2" stroke="#d5d5d5" stroke-width="1.8"/>
<rect x="858.35" y="527" width="3.2" height="2.8" fill="#fff"/>
<rect x="858.35" y="602.7" width="3.2" height="2.8" fill="#fff"/>
<rect x="858.35" y="678.4" width="3.2" height="2.8" fill="#fff"/>
<rect x="858.35" y="754.1" width="3.2" height="2.8" fill="#fff"/>
<line x1="859.95" y1="491.95" x2="859.95" y2="830.2" stroke="#d5d5d5" stroke-width="1.8"/>
<rect x="869.38" y="527" width="3.2" height="2.8" fill="#fff"/>
<rect x="869.38" y="602.7" width="3.2" height="2.8" fill="#fff"/>
<rect x="869.38" y="678.4" width="3.2" height="2.8" fill="#fff"/>
<rect x="869.38" y="754.1" width="3.2" height="2.8" fill="#fff"/>
<line x1="870.98" y1="491.95" x2="870.98" y2="830.2" stroke="#d5d5d5" stroke-width="1.8"/>
<rect x="879.11" y="527" width="3.2" height="2.8" fill="#fff"/>
<rect x="879.11" y="602.7" width="3.2" height="2.8" fill="#fff"/>
<rect x="879.11" y="678.4" width="3.2" height="2.8" fill="#fff"/>
<rect x="879.11" y="754.1" width="3.2" height="2.8" fill="#fff"/>
<line x1="880.71" y1="491.95" x2="880.71" y2="830.2" stroke="#d5d5d5" stroke-width="1.8"/>
<rect x="945.1" y="527" width="3.2" height="2.8" fill="#fff"/>
<rect x="945.1" y="602.7" width="3.2" height="2.8" fill="#fff"/>
<rect x="945.1" y="678.4" width="3.2" height="2.8" fill="#fff"/>
<rect x="945.1" y="754.1" width="3.2" height="2.8" fill="#fff"/>
<line x1="946.7" y1="491.95" x2="946.7" y2="830.2" stroke="#d5d5d5" stroke-width="1.8"/>
<rect x="978.61" y="527" width="3.2" height="2.8" fill="#fff"/>
<rect x="978.61" y="602.7" width="3.2" height="2.8" fill="#fff"/>
<rect x="978.61" y="678.4" width="3.2" height="2.8" fill="#fff"/>
<rect x="978.61" y="754.1" width="3.2" height="2.8" fill="#fff"/>
<line x1="980.21" y1="491.95" x2="980.21" y2="830.2" stroke="#d5d5d5" stroke-width="1.8"/>
<rect x="1002.38" y="527" width="3.2" height="2.8" fill="#fff"/>
<rect x="1002.38" y="602.7" width="3.2" height="2.8" fill="#fff"/>
<rect x="1002.38" y="678.4" width="3.2" height="2.8" fill="#fff"/>
<rect x="1002.38" y="754.1" width="3.2" height="2.8" fill="#fff"/>
<line x1="1003.98" y1="491.95" x2="1003.98" y2="830.2" stroke="#d5d5d5" stroke-width="1.8"/>
<rect x="1020.82" y="527" width="3.2" height="2.8" fill="#fff"/>
<rect x="1020.82" y="602.7" width="3.2" height="2.8" fill="#fff"/>
<rect x="1020.82" y="678.4" width="3.2" height="2.8" fill="#fff"/>
<rect x="1020.82" y="754.1" width="3.2" height="2.8" fill="#fff"/>
<line x1="1022.42" y1="491.95" x2="1022.42" y2="830.2" stroke="#d5d5d5" stroke-width="1.8"/>
<rect x="1035.89" y="527" width="3.2" height="2.8" fill="#fff"/>
<rect x="1035.89" y="602.7" width="3.2" height="2.8" fill="#fff"/>
<rect x="1035.89" y="678.4" width="3.2" height="2.8" fill="#fff"/>
<rect x="1035.89" y="754.1" width="3.2" height="2.8" fill="#fff"/>
<line x1="1037.49" y1="491.95" x2="1037.49" y2="830.2" stroke="#d5d5d5" stroke-width="1.8"/>
<rect x="1048.63" y="527" width="3.2" height="2.8" fill="#fff"/>
<rect x="1048.63" y="602.7" width="3.2" height="2.8" fill="#fff"/>
<rect x="1048.63" y="678.4" width="3.2" height="2.8" fill="#fff"/>
<rect x="1048.63" y="754.1" width="3.2" height="2.8" fill="#fff"/>
<line x1="1050.23" y1="491.95" x2="1050.23" y2="830.2" stroke="#d5d5d5" stroke-width="1.8"/>
<rect x="1059.66" y="527" width="3.2" height="2.8" fill="#fff"/>
<rect x="1059.66" y="602.7" width="3.2" height="2.8" fill="#fff"/>
<rect x="1059.66" y="678.4" width="3.2" height="2.8" fill="#fff"/>
<rect x="1059.66" y="754.1" width="3.2" height="2.8" fill="#fff"/>
<line x1="1061.26" y1="491.95" x2="1061.26" y2="830.2" stroke="#d5d5d5" stroke-width="1.8"/>
<rect x="1069.39" y="527" width="3.2" height="2.8" fill="#fff"/>
<rect x="1069.39" y="602.7" width="3.2" height="2.8" fill="#fff"/>
<rect x="1069.39" y="678.4" width="3.2" height="2.8" fill="#fff"/>
<rect x="1069.39" y="754.1" width="3.2" height="2.8" fill="#fff"/>
<line x1="1070.99" y1="491.95" x2="1070.99" y2="830.2" stroke="#d5d5d5" stroke-width="1.8"/>
<rect x="1135.38" y="527" width="3.2" height="2.8" fill="#fff"/>
<rect x="1135.38" y="602.7" width="3.2" height="2.8" fill="#fff"/>
<rect x="1135.38" y="678.4" width="3.2" height="2.8" fill="#fff"/>
<rect x="1135.38" y="754.1" width="3.2" height="2.8" fill="#fff"/>
<line x1="1136.98" y1="491.95" x2="1136.98" y2="830.2" stroke="#d5d5d5" stroke-width="1.8"/>
<rect x="1168.89" y="527" width="3.2" height="2.8" fill="#fff"/>
<rect x="1168.89" y="602.7" width="3.2" height="2.8" fill="#fff"/>
<rect x="1168.89" y="678.4" width="3.2" height="2.8" fill="#fff"/>
<rect x="1168.89" y="754.1" width="3.2" height="2.8" fill="#fff"/>
<line x1="1170.49" y1="491.95" x2="1170.49" y2="830.2" stroke="#d5d5d5" stroke-width="1.8"/>
<rect x="1192.66" y="527" width="3.2" height="2.8" fill="#fff"/>
<rect x="1192.66" y="602.7" width="3.2" height="2.8" fill="#fff"/>
<rect x="1192.66" y="678.4" width="3.2" height="2.8" fill="#fff"/>
<rect x="1192.66" y="754.1" width="3.2" height="2.8" fill="#fff"/>
<line x1="1194.26" y1="491.95" x2="1194.26" y2="830.2" stroke="#d5d5d5" stroke-width="1.8"/>
<rect x="1211.1" y="527" width="3.2" height="2.8" fill="#fff"/>
<rect x="1211.1" y="602.7" width="3.2" height="2.8" fill="#fff"/>
<rect x="1211.1" y="678.4" width="3.2" height="2.8" fill="#fff"/>
<rect x="1211.1" y="754.1" width="3.2" height="2.8" fill="#fff"/>
<line x1="1212.7" y1="491.95" x2="1212.7" y2="830.2" stroke="#d5d5d5" stroke-width="1.8"/>
<rect x="1226.17" y="527" width="3.2" height="2.8" fill="#fff"/>
<rect x="1226.17" y="602.7" width="3.2" height="2.8" fill="#fff"/>
<rect x="1226.17" y="678.4" width="3.2" height="2.8" fill="#fff"/>
<rect x="1226.17" y="754.1" width="3.2" height="2.8" fill="#fff"/>
<line x1="1227.77" y1="491.95" x2="1227.77" y2="830.2" stroke="#d5d5d5" stroke-width="1.8"/>
<rect x="1238.91" y="527" width="3.2" height="2.8" fill="#fff"/>
<rect x="1238.91" y="602.7" width="3.2" height="2.8" fill="#fff"/>
<rect x="1238.91" y="678.4" width="3.2" height="2.8" fill="#fff"/>
<rect x="1238.91" y="754.1" width="3.2" height="2.8" fill="#fff"/>
<line x1="1240.51" y1="491.95" x2="1240.51" y2="830.2" stroke="#d5d5d5" stroke-width="1.8"/>
<rect x="1249.94" y="527" width="3.2" height="2.8" fill="#fff"/>
<rect x="1249.94" y="602.7" width="3.2" height="2.8" fill="#fff"/>
<rect x="1249.94" y="678.4" width="3.2" height="2.8" fill="#fff"/>
<rect x="1249.94" y="754.1" width="3.2" height="2.8" fill="#fff"/>
<line x1="1251.54" y1="491.95" x2="1251.54" y2="830.2" stroke="#d5d5d5" stroke-width="1.8"/>
<rect x="1259.67" y="527" width="3.2" height="2.8" fill="#fff"/>
<rect x="1259.67" y="602.7" width="3.2" height="2.8" fill="#fff"/>
<rect x="1259.67" y="678.4" width="3.2" height="2.8" fill="#fff"/>
<rect x="1259.67" y="754.1" width="3.2" height="2.8" fill="#fff"/>
<line x1="1261.27" y1="491.95" x2="1261.27" y2="830.2" stroke="#d5d5d5" stroke-width="1.8"/>
<g fill="#666633">
<circle cx="128.3" cy="681.9" r="4.7"/>
<circle cx="147.33" cy="688.8" r="4.7"/>
<circle cx="166.36" cy="695.1" r="4.7"/>
<circle cx="185.38" cy="701.4" r="4.7"/>
<circle cx="204.41" cy="706.6" r="4.7"/>
<circle cx="223.44" cy="710.2" r="4.7"/>
<circle cx="242.47" cy="711.3" r="4.7"/>
<circle cx="261.5" cy="713.3" r="4.7"/>
<circle cx="280.52" cy="712.5" r="4.7"/>
<circle cx="299.55" cy="709.7" r="4.7"/>
<circle cx="318.58" cy="705" r="4.7"/>
<circle cx="337.61" cy="700" r="4.7"/>
<circle cx="356.64" cy="693.8" r="4.7"/>
<circle cx="375.66" cy="685.9" r="4.7"/>
<circle cx="394.69" cy="676.8" r="4.7"/>
<circle cx="413.72" cy="667.6" r="4.7"/>
<circle cx="432.75" cy="657.4" r="4.7"/>
<circle cx="451.78" cy="647.2" r="4.7"/>
<circle cx="470.8" cy="636.5" r="4.7"/>
<circle cx="489.83" cy="626.7" r="4.7"/>
<circle cx="508.86" cy="617.4" r="4.7"/>
<circle cx="527.89" cy="608.7" r="4.7"/>
<circle cx="546.92" cy="600.9" r="4.7"/>
<circle cx="565.94" cy="592.9" r="4.7"/>
<circle cx="584.97" cy="586.8" r="4.7"/>
<circle cx="604" cy="580.8" r="4.7"/>
<circle cx="623.03" cy="575.8" r="4.7"/>
<circle cx="642.06" cy="569.4" r="4.7"/>
<circle cx="661.08" cy="564.3" r="4.7"/>
<circle cx="680.11" cy="559.6" r="4.7"/>
<circle cx="699.14" cy="554.7" r="4.7"/>
<circle cx="718.17" cy="551.1" r="4.7"/>
<circle cx="737.2" cy="547.7" r="4.7"/>
<circle cx="756.22" cy="545.8" r="4.7"/>
<circle cx="775.25" cy="543" r="4.7"/>
<circle cx="794.28" cy="540.9" r="4.7"/>
<circle cx="813.31" cy="538.5" r="4.7"/>
<circle cx="832.34" cy="536.5" r="4.7"/>
<circle cx="851.36" cy="534.5" r="4.7"/>
<circle cx="870.39" cy="533" r="4.7"/>
<circle cx="889.42" cy="532" r="4.7"/>
<circle cx="908.45" cy="531" r="4.7"/>
<circle cx="927.48" cy="530.65" r="4.7"/>
<circle cx="946.5" cy="530.3" r="4.7"/>
<circle cx="965.53" cy="530.3" r="4.7"/>
<circle cx="984.56" cy="530.3" r="4.7"/>
<circle cx="1003.59" cy="530.3" r="4.7"/>
<circle cx="1022.62" cy="530.5" r="4.7"/>
<circle cx="1041.64" cy="529.9" r="4.7"/>
<circle cx="1060.67" cy="529.9" r="4.7"/>
<circle cx="1079.7" cy="529.9" r="4.7"/>
<circle cx="1098.73" cy="529.9" r="4.7"/>
<circle cx="1117.76" cy="529.9" r="4.7"/>
<circle cx="1136.78" cy="529.9" r="4.7"/>
<circle cx="1155.81" cy="529.9" r="4.7"/>
<circle cx="1174.84" cy="529.9" r="4.7"/>
<circle cx="1193.87" cy="531.1" r="4.7"/>
<circle cx="1212.9" cy="532" r="4.7"/>
<circle cx="1231.92" cy="532" r="4.7"/>
<circle cx="1250.95" cy="532.9" r="4.7"/>
</g>
<g fill="#99cc00">
<circle cx="128.3" cy="618.3" r="4.7"/>
<circle cx="147.33" cy="632.3" r="4.7"/>
<circle cx="166.36" cy="646.6" r="4.7"/>
<circle cx="185.38" cy="661" r="4.7"/>
<circle cx="204.41" cy="674.4" r="4.7"/>
<circle cx="223.44" cy="685.4" r="4.7"/>
<circle cx="242.47" cy="694.5" r="4.7"/>
<circle cx="261.5" cy="700.7" r="4.7"/>
<circle cx="280.52" cy="705" r="4.7"/>
<circle cx="299.55" cy="707" r="4.7"/>
<circle cx="318.58" cy="707" r="4.7"/>
<circle cx="337.61" cy="705" r="4.7"/>
<circle cx="356.64" cy="703" r="4.7"/>
<circle cx="375.66" cy="700" r="4.7"/>
<circle cx="394.69" cy="693.8" r="4.7"/>
<circle cx="413.72" cy="687" r="4.7"/>
<circle cx="432.75" cy="679.2" r="4.7"/>
<circle cx="451.78" cy="669.9" r="4.7"/>
<circle cx="470.8" cy="660" r="4.7"/>
<circle cx="489.83" cy="649.8" r="4.7"/>
<circle cx="508.86" cy="639.5" r="4.7"/>
<circle cx="527.89" cy="629.8" r="4.7"/>
<circle cx="546.92" cy="619.7" r="4.7"/>
<circle cx="565.94" cy="609.4" r="4.7"/>
<circle cx="584.97" cy="600.7" r="4.7"/>
<circle cx="604" cy="592.3" r="4.7"/>
<circle cx="623.03" cy="585.2" r="4.7"/>
<circle cx="642.06" cy="577.2" r="4.7"/>
<circle cx="661.08" cy="570.1" r="4.7"/>
<circle cx="680.11" cy="564.3" r="4.7"/>
<circle cx="699.14" cy="559.4" r="4.7"/>
<circle cx="718.17" cy="555.5" r="4.7"/>
<circle cx="737.2" cy="551" r="4.7"/>
<circle cx="756.22" cy="547.3" r="4.7"/>
<circle cx="775.25" cy="544.6" r="4.7"/>
<circle cx="794.28" cy="542.3" r="4.7"/>
<circle cx="813.31" cy="540" r="4.7"/>
<circle cx="832.34" cy="538.3" r="4.7"/>
<circle cx="851.36" cy="536.5" r="4.7"/>
<circle cx="870.39" cy="535" r="4.7"/>
<circle cx="889.42" cy="533.8" r="4.7"/>
<circle cx="908.45" cy="532.3" r="4.7"/>
<circle cx="927.48" cy="531.55" r="4.7"/>
<circle cx="946.5" cy="530.8" r="4.7"/>
<circle cx="965.53" cy="530.8" r="4.7"/>
<circle cx="984.56" cy="530.8" r="4.7"/>
<circle cx="1003.59" cy="530.8" r="4.7"/>
<circle cx="1022.62" cy="530.5" r="4.7"/>
<circle cx="1041.64" cy="529.9" r="4.7"/>
<circle cx="1060.67" cy="529.9" r="4.7"/>
<circle cx="1079.7" cy="529.9" r="4.7"/>
<circle cx="1098.73" cy="529.9" r="4.7"/>
<circle cx="1117.76" cy="529.9" r="4.7"/>
<circle cx="1136.78" cy="529.9" r="4.7"/>
<circle cx="1155.81" cy="529.9" r="4.7"/>
<circle cx="1174.84" cy="529.9" r="4.7"/>
<circle cx="1193.87" cy="531.1" r="4.7"/>
<circle cx="1212.9" cy="532" r="4.7"/>
<circle cx="1231.92" cy="532" r="4.7"/>
<circle cx="1250.95" cy="532.9" r="4.7"/>
</g>
<g fill="#ccff33">
<circle cx="128.3" cy="599" r="4.7"/>
<circle cx="147.33" cy="610" r="4.7"/>
<circle cx="166.36" cy="624.9" r="4.7"/>
<circle cx="185.38" cy="639.1" r="4.7"/>
<circle cx="204.41" cy="653.7" r="4.7"/>
<circle cx="223.44" cy="667.8" r="4.7"/>
<circle cx="242.47" cy="681.1" r="4.7"/>
<circle cx="261.5" cy="693.2" r="4.7"/>
<circle cx="280.52" cy="704.7" r="4.7"/>
<circle cx="299.55" cy="715.7" r="4.7"/>
<circle cx="318.58" cy="724.4" r="4.7"/>
<circle cx="337.61" cy="732.4" r="4.7"/>
<circle cx="356.64" cy="738.8" r="4.7"/>
<circle cx="375.66" cy="743.5" r="4.7"/>
<circle cx="394.69" cy="747.5" r="4.7"/>
<circle cx="413.72" cy="749" r="4.7"/>
<circle cx="432.75" cy="749.5" r="4.7"/>
<circle cx="451.78" cy="746" r="4.7"/>
<circle cx="470.8" cy="740" r="4.7"/>
<circle cx="489.83" cy="734" r="4.7"/>
<circle cx="508.86" cy="724" r="4.7"/>
<circle cx="527.89" cy="717.4" r="4.7"/>
<circle cx="546.92" cy="706.4" r="4.7"/>
<circle cx="565.94" cy="692.6" r="4.7"/>
<circle cx="584.97" cy="679.4" r="4.7"/>
<circle cx="604" cy="664.8" r="4.7"/>
<circle cx="623.03" cy="652" r="4.7"/>
<circle cx="642.06" cy="637" r="4.7"/>
<circle cx="661.08" cy="624" r="4.7"/>
<circle cx="680.11" cy="611" r="4.7"/>
<circle cx="699.14" cy="600" r="4.7"/>
<circle cx="718.17" cy="590" r="4.7"/>
<circle cx="737.2" cy="580" r="4.7"/>
<circle cx="756.22" cy="572" r="4.7"/>
<circle cx="775.25" cy="564" r="4.7"/>
<circle cx="794.28" cy="557" r="4.7"/>
<circle cx="813.31" cy="551" r="4.7"/>
<circle cx="832.34" cy="547" r="4.7"/>
<circle cx="851.36" cy="543" r="4.7"/>
<circle cx="870.39" cy="539.5" r="4.7"/>
<circle cx="889.42" cy="536.5" r="4.7"/>
<circle cx="908.45" cy="534.5" r="4.7"/>
<circle cx="927.48" cy="533" r="4.7"/>
<circle cx="946.5" cy="531.5" r="4.7"/>
<circle cx="965.53" cy="531" r="4.7"/>
<circle cx="984.56" cy="530.5" r="4.7"/>
<circle cx="1003.59" cy="530.5" r="4.7"/>
<circle cx="1022.62" cy="530.5" r="4.7"/>
<circle cx="1041.64" cy="529.9" r="4.7"/>
<circle cx="1060.67" cy="529.9" r="4.7"/>
<circle cx="1079.7" cy="529.9" r="4.7"/>
<circle cx="1098.73" cy="529.9" r="4.7"/>
<circle cx="1117.76" cy="529.9" r="4.7"/>
<circle cx="1136.78" cy="529.9" r="4.7"/>
<circle cx="1155.81" cy="529.9" r="4.7"/>
<circle cx="1174.84" cy="529.9" r="4.7"/>
<circle cx="1193.87" cy="531.1" r="4.7"/>
<circle cx="1212.9" cy="532" r="4.7"/>
<circle cx="1231.92" cy="532" r="4.7"/>
<circle cx="1250.95" cy="532.9" r="4.7"/>
</g>
<g fill="#00b0f0">
<circle cx="128.3" cy="595.1" r="4.7"/>
<circle cx="147.33" cy="605.3" r="4.7"/>
<circle cx="166.36" cy="616.8" r="4.7"/>
<circle cx="185.38" cy="628.9" r="4.7"/>
<circle cx="204.41" cy="641.1" r="4.7"/>
<circle cx="223.44" cy="654" r="4.7"/>
<circle cx="242.47" cy="665.7" r="4.7"/>
<circle cx="261.5" cy="677.5" r="4.7"/>
<circle cx="280.52" cy="689.3" r="4.7"/>
<circle cx="299.55" cy="699.5" r="4.7"/>
<circle cx="318.58" cy="709.5" r="4.7"/>
<circle cx="337.61" cy="718.1" r="4.7"/>
<circle cx="356.64" cy="725.2" r="4.7"/>
<circle cx="375.66" cy="730.7" r="4.7"/>
<circle cx="394.69" cy="735.7" r="4.7"/>
<circle cx="413.72" cy="738.8" r="4.7"/>
<circle cx="432.75" cy="740.1" r="4.7"/>
<circle cx="451.78" cy="740.4" r="4.7"/>
<circle cx="470.8" cy="738.8" r="4.7"/>
<circle cx="489.83" cy="735" r="4.7"/>
<circle cx="508.86" cy="729.6" r="4.7"/>
<circle cx="527.89" cy="722" r="4.7"/>
<circle cx="546.92" cy="713.4" r="4.7"/>
<circle cx="565.94" cy="701.7" r="4.7"/>
<circle cx="584.97" cy="689.9" r="4.7"/>
<circle cx="604" cy="676" r="4.7"/>
<circle cx="623.03" cy="663" r="4.7"/>
<circle cx="642.06" cy="647" r="4.7"/>
<circle cx="661.08" cy="632" r="4.7"/>
<circle cx="680.11" cy="618" r="4.7"/>
<circle cx="699.14" cy="605" r="4.7"/>
<circle cx="718.17" cy="593" r="4.7"/>
<circle cx="737.2" cy="583" r="4.7"/>
<circle cx="756.22" cy="573.5" r="4.7"/>
<circle cx="775.25" cy="565.5" r="4.7"/>
<circle cx="794.28" cy="559" r="4.7"/>
<circle cx="813.31" cy="553.5" r="4.7"/>
<circle cx="832.34" cy="548.5" r="4.7"/>
<circle cx="851.36" cy="544.5" r="4.7"/>
<circle cx="870.39" cy="541" r="4.7"/>
<circle cx="889.42" cy="538" r="4.7"/>
<circle cx="908.45" cy="535.5" r="4.7"/>
<circle cx="927.48" cy="533.5" r="4.7"/>
<circle cx="946.5" cy="532" r="4.7"/>
<circle cx="965.53" cy="531.25" r="4.7"/>
<circle cx="984.56" cy="530.5" r="4.7"/>
<circle cx="1003.59" cy="530.5" r="4.7"/>
<circle cx="1022.62" cy="530.5" r="4.7"/>
<circle cx="1041.64" cy="529.9" r="4.7"/>
<circle cx="1060.67" cy="529.9" r="4.7"/>
<circle cx="1079.7" cy="529.9" r="4.7"/>
<circle cx="1098.73" cy="529.9" r="4.7"/>
<circle cx="1117.76" cy="529.9" r="4.7"/>
<circle cx="1136.78" cy="529.9" r="4.7"/>
<circle cx="1155.81" cy="529.9" r="4.7"/>
<circle cx="1174.84" cy="529.9" r="4.7"/>
<circle cx="1193.87" cy="531.1" r="4.7"/>
<circle cx="1212.9" cy="532" r="4.7"/>
<circle cx="1231.92" cy="532" r="4.7"/>
<circle cx="1250.95" cy="532.9" r="4.7"/>
</g>
<g fill="#0070c0">
<circle cx="128.3" cy="583.3" r="4.7"/>
<circle cx="147.33" cy="592" r="4.7"/>
<circle cx="166.36" cy="599.5" r="4.7"/>
<circle cx="185.38" cy="609.5" r="4.7"/>
<circle cx="204.41" cy="619" r="4.7"/>
<circle cx="223.44" cy="631" r="4.7"/>
<circle cx="242.47" cy="641.5" r="4.7"/>
<circle cx="261.5" cy="653.3" r="4.7"/>
<circle cx="280.52" cy="663.5" r="4.7"/>
<circle cx="299.55" cy="674" r="4.7"/>
<circle cx="318.58" cy="684.5" r="4.7"/>
<circle cx="337.61" cy="694" r="4.7"/>
<circle cx="356.64" cy="702" r="4.7"/>
<circle cx="375.66" cy="709" r="4.7"/>
<circle cx="394.69" cy="715" r="4.7"/>
<circle cx="413.72" cy="719" r="4.7"/>
<circle cx="432.75" cy="721" r="4.7"/>
<circle cx="451.78" cy="722" r="4.7"/>
<circle cx="470.8" cy="720.5" r="4.7"/>
<circle cx="489.83" cy="717" r="4.7"/>
<circle cx="508.86" cy="712" r="4.7"/>
<circle cx="527.89" cy="705" r="4.7"/>
<circle cx="546.92" cy="697.7" r="4.7"/>
<circle cx="565.94" cy="686.8" r="4.7"/>
<circle cx="584.97" cy="675.3" r="4.7"/>
<circle cx="604" cy="662.4" r="4.7"/>
<circle cx="623.03" cy="650.7" r="4.7"/>
<circle cx="642.06" cy="635" r="4.7"/>
<circle cx="661.08" cy="621.6" r="4.7"/>
<circle cx="680.11" cy="608.6" r="4.7"/>
<circle cx="699.14" cy="597.6" r="4.7"/>
<circle cx="718.17" cy="586.9" r="4.7"/>
<circle cx="737.2" cy="577.5" r="4.7"/>
<circle cx="756.22" cy="569.6" r="4.7"/>
<circle cx="775.25" cy="562" r="4.7"/>
<circle cx="794.28" cy="556" r="4.7"/>
<circle cx="813.31" cy="551" r="4.7"/>
<circle cx="832.34" cy="547" r="4.7"/>
<circle cx="851.36" cy="543.5" r="4.7"/>
<circle cx="870.39" cy="540" r="4.7"/>
<circle cx="889.42" cy="537.5" r="4.7"/>
<circle cx="908.45" cy="535" r="4.7"/>
<circle cx="927.48" cy="533.5" r="4.7"/>
<circle cx="946.5" cy="532" r="4.7"/>
<circle cx="965.53" cy="531.25" r="4.7"/>
<circle cx="984.56" cy="530.5" r="4.7"/>
<circle cx="1003.59" cy="530.5" r="4.7"/>
<circle cx="1022.62" cy="530.5" r="4.7"/>
<circle cx="1041.64" cy="529.9" r="4.7"/>
<circle cx="1060.67" cy="529.9" r="4.7"/>
<circle cx="1079.7" cy="529.9" r="4.7"/>
<circle cx="1098.73" cy="529.9" r="4.7"/>
<circle cx="1117.76" cy="529.9" r="4.7"/>
<circle cx="1136.78" cy="529.9" r="4.7"/>
<circle cx="1155.81" cy="529.9" r="4.7"/>
<circle cx="1174.84" cy="529.9" r="4.7"/>
<circle cx="1193.87" cy="531.1" r="4.7"/>
<circle cx="1212.9" cy="532" r="4.7"/>
<circle cx="1231.92" cy="532" r="4.7"/>
<circle cx="1250.95" cy="532.9" r="4.7"/>
</g>
<g fill="#ff9966">
<circle cx="128.3" cy="583" r="4.7"/>
<circle cx="147.33" cy="591.5" r="4.7"/>
<circle cx="166.36" cy="601" r="4.7"/>
<circle cx="185.38" cy="611" r="4.7"/>
<circle cx="204.41" cy="620.2" r="4.7"/>
<circle cx="223.44" cy="632.5" r="4.7"/>
<circle cx="242.47" cy="643" r="4.7"/>
<circle cx="261.5" cy="654.8" r="4.7"/>
<circle cx="280.52" cy="665" r="4.7"/>
<circle cx="299.55" cy="675.5" r="4.7"/>
<circle cx="318.58" cy="685.5" r="4.7"/>
<circle cx="337.61" cy="694.6" r="4.7"/>
<circle cx="356.64" cy="702.4" r="4.7"/>
<circle cx="375.66" cy="708.7" r="4.7"/>
<circle cx="394.69" cy="714.2" r="4.7"/>
<circle cx="413.72" cy="717.6" r="4.7"/>
<circle cx="432.75" cy="719.2" r="4.7"/>
<circle cx="451.78" cy="719.4" r="4.7"/>
<circle cx="470.8" cy="718.1" r="4.7"/>
<circle cx="489.83" cy="714.2" r="4.7"/>
<circle cx="508.86" cy="707.9" r="4.7"/>
<circle cx="527.89" cy="701.7" r="4.7"/>
<circle cx="546.92" cy="692.3" r="4.7"/>
<circle cx="565.94" cy="681" r="4.7"/>
<circle cx="584.97" cy="668" r="4.7"/>
<circle cx="604" cy="655" r="4.7"/>
<circle cx="623.03" cy="642.5" r="4.7"/>
<circle cx="642.06" cy="627" r="4.7"/>
<circle cx="661.08" cy="613" r="4.7"/>
<circle cx="680.11" cy="601" r="4.7"/>
<circle cx="699.14" cy="590" r="4.7"/>
<circle cx="718.17" cy="580.5" r="4.7"/>
<circle cx="737.2" cy="572" r="4.7"/>
<circle cx="756.22" cy="564.5" r="4.7"/>
<circle cx="775.25" cy="558.5" r="4.7"/>
<circle cx="794.28" cy="553" r="4.7"/>
<circle cx="813.31" cy="548.5" r="4.7"/>
<circle cx="832.34" cy="545" r="4.7"/>
<circle cx="851.36" cy="541.5" r="4.7"/>
<circle cx="870.39" cy="538.5" r="4.7"/>
<circle cx="889.42" cy="536" r="4.7"/>
<circle cx="908.45" cy="534" r="4.7"/>
<circle cx="927.48" cy="532.5" r="4.7"/>
<circle cx="946.5" cy="531.5" r="4.7"/>
<circle cx="965.53" cy="531" r="4.7"/>
<circle cx="984.56" cy="530.5" r="4.7"/>
<circle cx="1003.59" cy="530.5" r="4.7"/>
<circle cx="1022.62" cy="530.5" r="4.7"/>
<circle cx="1041.64" cy="529.9" r="4.7"/>
<circle cx="1060.67" cy="529.9" r="4.7"/>
<circle cx="1079.7" cy="529.9" r="4.7"/>
<circle cx="1098.73" cy="529.9" r="4.7"/>
<circle cx="1117.76" cy="529.9" r="4.7"/>
<circle cx="1136.78" cy="529.9" r="4.7"/>
<circle cx="1155.81" cy="529.9" r="4.7"/>
<circle cx="1174.84" cy="529.9" r="4.7"/>
<circle cx="1193.87" cy="531.1" r="4.7"/>
<circle cx="1212.9" cy="532" r="4.7"/>
<circle cx="1231.92" cy="532" r="4.7"/>
<circle cx="1250.95" cy="532.9" r="4.7"/>
</g>
<g fill="#ff7c80">
<circle cx="128.3" cy="583.3" r="4.7"/>
<circle cx="147.33" cy="592" r="4.7"/>
<circle cx="166.36" cy="601.4" r="4.7"/>
<circle cx="185.38" cy="611.6" r="4.7"/>
<circle cx="204.41" cy="622.6" r="4.7"/>
<circle cx="223.44" cy="634.4" r="4.7"/>
<circle cx="242.47" cy="646.9" r="4.7"/>
<circle cx="261.5" cy="658.7" r="4.7"/>
<circle cx="280.52" cy="669.7" r="4.7"/>
<circle cx="299.55" cy="681" r="4.7"/>
<circle cx="318.58" cy="691.4" r="4.7"/>
<circle cx="337.61" cy="700.8" r="4.7"/>
<circle cx="356.64" cy="707.9" r="4.7"/>
<circle cx="375.66" cy="713.9" r="4.7"/>
<circle cx="394.69" cy="719.2" r="4.7"/>
<circle cx="413.72" cy="722.8" r="4.7"/>
<circle cx="432.75" cy="724.4" r="4.7"/>
<circle cx="451.78" cy="724.4" r="4.7"/>
<circle cx="470.8" cy="722.3" r="4.7"/>
<circle cx="489.83" cy="718.1" r="4.7"/>
<circle cx="508.86" cy="711.9" r="4.7"/>
<circle cx="527.89" cy="704" r="4.7"/>
<circle cx="546.92" cy="695.4" r="4.7"/>
<circle cx="565.94" cy="683" r="4.7"/>
<circle cx="584.97" cy="670" r="4.7"/>
<circle cx="604" cy="656.9" r="4.7"/>
<circle cx="623.03" cy="644.4" r="4.7"/>
<circle cx="642.06" cy="628.7" r="4.7"/>
<circle cx="661.08" cy="614.6" r="4.7"/>
<circle cx="680.11" cy="602.5" r="4.7"/>
<circle cx="699.14" cy="591.3" r="4.7"/>
<circle cx="718.17" cy="581.4" r="4.7"/>
<circle cx="737.2" cy="572.8" r="4.7"/>
<circle cx="756.22" cy="565.3" r="4.7"/>
<circle cx="775.25" cy="559.4" r="4.7"/>
<circle cx="794.28" cy="554" r="4.7"/>
<circle cx="813.31" cy="549.2" r="4.7"/>
<circle cx="832.34" cy="545.8" r="4.7"/>
<circle cx="851.36" cy="542.2" r="4.7"/>
<circle cx="870.39" cy="539" r="4.7"/>
<circle cx="889.42" cy="536.7" r="4.7"/>
<circle cx="908.45" cy="534.5" r="4.7"/>
<circle cx="927.48" cy="533" r="4.7"/>
<circle cx="946.5" cy="532" r="4.7"/>
<circle cx="965.53" cy="531.25" r="4.7"/>
<circle cx="984.56" cy="530.5" r="4.7"/>
<circle cx="1003.59" cy="530.5" r="4.7"/>
<circle cx="1022.62" cy="530.5" r="4.7"/>
<circle cx="1041.64" cy="529.9" r="4.7"/>
<circle cx="1060.67" cy="529.9" r="4.7"/>
<circle cx="1079.7" cy="529.9" r="4.7"/>
<circle cx="1098.73" cy="529.9" r="4.7"/>
<circle cx="1117.76" cy="529.9" r="4.7"/>
<circle cx="1136.78" cy="529.9" r="4.7"/>
<circle cx="1155.81" cy="529.9" r="4.7"/>
<circle cx="1174.84" cy="529.9" r="4.7"/>
<circle cx="1193.87" cy="531.1" r="4.7"/>
<circle cx="1212.9" cy="532" r="4.7"/>
<circle cx="1231.92" cy="532" r="4.7"/>
<circle cx="1250.95" cy="532.9" r="4.7"/>
</g>
<g fill="#ff0066">
<circle cx="128.3" cy="590.9" r="4.7"/>
<circle cx="147.33" cy="600.1" r="4.7"/>
<circle cx="166.36" cy="610.3" r="4.7"/>
<circle cx="185.38" cy="621" r="4.7"/>
<circle cx="204.41" cy="632.8" r="4.7"/>
<circle cx="223.44" cy="644.6" r="4.7"/>
<circle cx="242.47" cy="656" r="4.7"/>
<circle cx="261.5" cy="668.1" r="4.7"/>
<circle cx="280.52" cy="679.4" r="4.7"/>
<circle cx="299.55" cy="689.8" r="4.7"/>
<circle cx="318.58" cy="699.6" r="4.7"/>
<circle cx="337.61" cy="708.2" r="4.7"/>
<circle cx="356.64" cy="715.4" r="4.7"/>
<circle cx="375.66" cy="721.2" r="4.7"/>
<circle cx="394.69" cy="726.4" r="4.7"/>
<circle cx="413.72" cy="729.9" r="4.7"/>
<circle cx="432.75" cy="732.2" r="4.7"/>
<circle cx="451.78" cy="732.5" r="4.7"/>
<circle cx="470.8" cy="731.4" r="4.7"/>
<circle cx="489.83" cy="728.3" r="4.7"/>
<circle cx="508.86" cy="723.6" r="4.7"/>
<circle cx="527.89" cy="717.4" r="4.7"/>
<circle cx="546.92" cy="709.5" r="4.7"/>
<circle cx="565.94" cy="699" r="4.7"/>
<circle cx="584.97" cy="687.9" r="4.7"/>
<circle cx="604" cy="674.5" r="4.7"/>
<circle cx="623.03" cy="662.1" r="4.7"/>
<circle cx="642.06" cy="645.5" r="4.7"/>
<circle cx="661.08" cy="630.7" r="4.7"/>
<circle cx="680.11" cy="616.6" r="4.7"/>
<circle cx="699.14" cy="603.9" r="4.7"/>
<circle cx="718.17" cy="591.9" r="4.7"/>
<circle cx="737.2" cy="581.4" r="4.7"/>
<circle cx="756.22" cy="572" r="4.7"/>
<circle cx="775.25" cy="564.2" r="4.7"/>
<circle cx="794.28" cy="557.9" r="4.7"/>
<circle cx="813.31" cy="552.4" r="4.7"/>
<circle cx="832.34" cy="547.7" r="4.7"/>
<circle cx="851.36" cy="543.7" r="4.7"/>
<circle cx="870.39" cy="540.5" r="4.7"/>
<circle cx="889.42" cy="537.5" r="4.7"/>
<circle cx="908.45" cy="535.5" r="4.7"/>
<circle cx="927.48" cy="534" r="4.7"/>
<circle cx="946.5" cy="532.5" r="4.7"/>
<circle cx="965.53" cy="531.75" r="4.7"/>
<circle cx="984.56" cy="531" r="4.7"/>
<circle cx="1003.59" cy="531" r="4.7"/>
<circle cx="1022.62" cy="530.5" r="4.7"/>
<circle cx="1041.64" cy="529.9" r="4.7"/>
<circle cx="1060.67" cy="529.9" r="4.7"/>
<circle cx="1079.7" cy="529.9" r="4.7"/>
<circle cx="1098.73" cy="529.9" r="4.7"/>
<circle cx="1117.76" cy="529.9" r="4.7"/>
<circle cx="1136.78" cy="529.9" r="4.7"/>
<circle cx="1155.81" cy="529.9" r="4.7"/>
<circle cx="1174.84" cy="529.9" r="4.7"/>
<circle cx="1193.87" cy="531.1" r="4.7"/>
<circle cx="1212.9" cy="532" r="4.7"/>
<circle cx="1231.92" cy="532" r="4.7"/>
<circle cx="1250.95" cy="532.9" r="4.7"/>
</g>
<g fill="#d60093">
<circle cx="128.3" cy="598.3" r="4.7"/>
<circle cx="147.33" cy="609.7" r="4.7"/>
<circle cx="166.36" cy="621" r="4.7"/>
<circle cx="185.38" cy="633.6" r="4.7"/>
<circle cx="204.41" cy="646.9" r="4.7"/>
<circle cx="223.44" cy="659.8" r="4.7"/>
<circle cx="242.47" cy="672.5" r="4.7"/>
<circle cx="261.5" cy="684.6" r="4.7"/>
<circle cx="280.52" cy="696" r="4.7"/>
<circle cx="299.55" cy="706.6" r="4.7"/>
<circle cx="318.58" cy="715.9" r="4.7"/>
<circle cx="337.61" cy="724.1" r="4.7"/>
<circle cx="356.64" cy="730.7" r="4.7"/>
<circle cx="375.66" cy="736.2" r="4.7"/>
<circle cx="394.69" cy="740.9" r="4.7"/>
<circle cx="413.72" cy="744.8" r="4.7"/>
<circle cx="432.75" cy="745.9" r="4.7"/>
<circle cx="451.78" cy="746.7" r="4.7"/>
<circle cx="470.8" cy="745.6" r="4.7"/>
<circle cx="489.83" cy="743.2" r="4.7"/>
<circle cx="508.86" cy="739" r="4.7"/>
<circle cx="527.89" cy="732.7" r="4.7"/>
<circle cx="546.92" cy="725.2" r="4.7"/>
<circle cx="565.94" cy="714.2" r="4.7"/>
<circle cx="584.97" cy="703.2" r="4.7"/>
<circle cx="604" cy="690.4" r="4.7"/>
<circle cx="623.03" cy="677.8" r="4.7"/>
<circle cx="642.06" cy="660.1" r="4.7"/>
<circle cx="661.08" cy="643.6" r="4.7"/>
<circle cx="680.11" cy="628.2" r="4.7"/>
<circle cx="699.14" cy="613.9" r="4.7"/>
<circle cx="718.17" cy="600.6" r="4.7"/>
<circle cx="737.2" cy="588.5" r="4.7"/>
<circle cx="756.22" cy="578" r="4.7"/>
<circle cx="775.25" cy="569.3" r="4.7"/>
<circle cx="794.28" cy="562.3" r="4.7"/>
<circle cx="813.31" cy="555.5" r="4.7"/>
<circle cx="832.34" cy="550" r="4.7"/>
<circle cx="851.36" cy="546.1" r="4.7"/>
<circle cx="870.39" cy="542.2" r="4.7"/>
<circle cx="889.42" cy="539" r="4.7"/>
<circle cx="908.45" cy="536.5" r="4.7"/>
<circle cx="927.48" cy="534.5" r="4.7"/>
<circle cx="946.5" cy="533" r="4.7"/>
<circle cx="965.53" cy="532.25" r="4.7"/>
<circle cx="984.56" cy="531.5" r="4.7"/>
<circle cx="1003.59" cy="531.5" r="4.7"/>
<circle cx="1022.62" cy="530.5" r="4.7"/>
<circle cx="1041.64" cy="529.9" r="4.7"/>
<circle cx="1060.67" cy="529.9" r="4.7"/>
<circle cx="1079.7" cy="529.9" r="4.7"/>
<circle cx="1098.73" cy="529.9" r="4.7"/>
<circle cx="1117.76" cy="529.9" r="4.7"/>
<circle cx="1136.78" cy="529.9" r="4.7"/>
<circle cx="1155.81" cy="529.9" r="4.7"/>
<circle cx="1174.84" cy="529.9" r="4.7"/>
<circle cx="1193.87" cy="531.1" r="4.7"/>
<circle cx="1212.9" cy="532" r="4.7"/>
<circle cx="1231.92" cy="532" r="4.7"/>
<circle cx="1250.95" cy="532.9" r="4.7"/>
</g>
<g fill="#993366">
<circle cx="128.3" cy="632.3" r="4.7"/>
<circle cx="147.33" cy="647.2" r="4.7"/>
<circle cx="166.36" cy="661.8" r="4.7"/>
<circle cx="185.38" cy="676.4" r="4.7"/>
<circle cx="204.41" cy="690.4" r="4.7"/>
<circle cx="223.44" cy="703.1" r="4.7"/>
<circle cx="242.47" cy="714.1" r="4.7"/>
<circle cx="261.5" cy="724.9" r="4.7"/>
<circle cx="280.52" cy="734" r="4.7"/>
<circle cx="299.55" cy="742.3" r="4.7"/>
<circle cx="318.58" cy="749" r="4.7"/>
<circle cx="337.61" cy="755" r="4.7"/>
<circle cx="356.64" cy="760" r="4.7"/>
<circle cx="375.66" cy="764.1" r="4.7"/>
<circle cx="394.69" cy="767.5" r="4.7"/>
<circle cx="413.72" cy="769.9" r="4.7"/>
<circle cx="432.75" cy="771.5" r="4.7"/>
<circle cx="451.78" cy="772.3" r="4.7"/>
<circle cx="470.8" cy="771.5" r="4.7"/>
<circle cx="489.83" cy="769.6" r="4.7"/>
<circle cx="508.86" cy="766.8" r="4.7"/>
<circle cx="527.89" cy="762.1" r="4.7"/>
<circle cx="546.92" cy="756.3" r="4.7"/>
<circle cx="565.94" cy="746.9" r="4.7"/>
<circle cx="584.97" cy="736.2" r="4.7"/>
<circle cx="604" cy="723.3" r="4.7"/>
<circle cx="623.03" cy="710" r="4.7"/>
<circle cx="642.06" cy="690.4" r="4.7"/>
<circle cx="661.08" cy="671.8" r="4.7"/>
<circle cx="680.11" cy="653" r="4.7"/>
<circle cx="699.14" cy="635.7" r="4.7"/>
<circle cx="718.17" cy="618.8" r="4.7"/>
<circle cx="737.2" cy="603.9" r="4.7"/>
<circle cx="756.22" cy="590.5" r="4.7"/>
<circle cx="775.25" cy="579.4" r="4.7"/>
<circle cx="794.28" cy="570.4" r="4.7"/>
<circle cx="813.31" cy="562.6" r="4.7"/>
<circle cx="832.34" cy="556.3" r="4.7"/>
<circle cx="851.36" cy="551.1" r="4.7"/>
<circle cx="870.39" cy="546.9" r="4.7"/>
<circle cx="889.42" cy="542.9" r="4.7"/>
<circle cx="908.45" cy="539.9" r="4.7"/>
<circle cx="927.48" cy="536.9" r="4.7"/>
<circle cx="946.5" cy="535.4" r="4.7"/>
<circle cx="965.53" cy="533.9" r="4.7"/>
<circle cx="984.56" cy="532.4" r="4.7"/>
<circle cx="1003.59" cy="531.5" r="4.7"/>
<circle cx="1022.62" cy="530.9" r="4.7"/>
<circle cx="1041.64" cy="530.3" r="4.7"/>
<circle cx="1060.67" cy="530.3" r="4.7"/>
<circle cx="1079.7" cy="530.3" r="4.7"/>
<circle cx="1098.73" cy="530.3" r="4.7"/>
<circle cx="1117.76" cy="530.3" r="4.7"/>
<circle cx="1136.78" cy="530.3" r="4.7"/>
<circle cx="1155.81" cy="530.3" r="4.7"/>
<circle cx="1174.84" cy="530.3" r="4.7"/>
<circle cx="1193.87" cy="531.5" r="4.7"/>
<circle cx="1212.9" cy="532.4" r="4.7"/>
<circle cx="1231.92" cy="532.4" r="4.7"/>
<circle cx="1250.95" cy="533.3" r="4.7"/>
</g>
<text x="102.4" y="537.9" font-size="30" text-anchor="end">0</text>
<text x="102.4" y="613.6" font-size="30" text-anchor="end">-20</text>
<text x="102.4" y="689.3" font-size="30" text-anchor="end">-40</text>
<text x="102.4" y="765" font-size="30" text-anchor="end">-60</text>
<text x="102.4" y="840.7" font-size="30" text-anchor="end">-80</text>
<text x="125.4" y="875.7" font-size="30" text-anchor="middle">0.1</text>
<text x="319" y="875.7" font-size="30" text-anchor="middle">1</text>
<text x="505.3" y="875.7" font-size="30" text-anchor="middle">10</text>
<text x="675.5" y="875.7" font-size="30" text-anchor="start">10</text>
<text x="712" y="867" font-size="20" text-anchor="start">2</text>
<text x="873.2" y="875.7" font-size="30" text-anchor="start">10</text>
<text x="904.7" y="867" font-size="20" text-anchor="start">3</text>
<text x="1064.5" y="875.7" font-size="30" text-anchor="start">10</text>
<text x="1096" y="867" font-size="20" text-anchor="start">4</text>
<text x="1244.9" y="875.7" font-size="30" text-anchor="start">10</text>
<text x="1276.4" y="867" font-size="20" text-anchor="start">5</text>
<text x="599.3" y="914.7" font-size="30" text-anchor="start">frequency <tspan font-style="italic">f</tspan>, Hz</text>
<text transform="translate(36,744.6) rotate(-90)" font-size="30">Phase, °</text>
<rect x="1007.3" y="605.2" width="316.9" height="211.8" fill="#fff" stroke="#000" stroke-width="2.0"/>
<circle cx="1039.4" cy="626.4" r="4.7" fill="#666633"/>
<text x="1053.5" y="635.9" font-size="30" text-anchor="start">0 min</text>
<circle cx="1198" cy="626.4" r="4.7" fill="#99cc00"/>
<text x="1212.1" y="635.9" font-size="30" text-anchor="start">4 min</text>
<circle cx="1039.4" cy="668.85" r="4.7" fill="#ccff33"/>
<text x="1053.5" y="678.35" font-size="30" text-anchor="start">15 min</text>
<circle cx="1198" cy="668.85" r="4.7" fill="#00b0f0"/>
<text x="1212.1" y="678.35" font-size="30" text-anchor="start">1 h</text>
<circle cx="1039.4" cy="711.3" r="4.7" fill="#0070c0"/>
<text x="1053.5" y="720.8" font-size="30" text-anchor="start">2 h</text>
<circle cx="1198" cy="711.3" r="4.7" fill="#ff9966"/>
<text x="1212.1" y="720.8" font-size="30" text-anchor="start">3 h</text>
<circle cx="1039.4" cy="753.75" r="4.7" fill="#ff7c80"/>
<text x="1053.5" y="763.25" font-size="30" text-anchor="start">5 h</text>
<circle cx="1198" cy="753.75" r="4.7" fill="#ff0066"/>
<text x="1212.1" y="763.25" font-size="30" text-anchor="start">10 h</text>
<circle cx="1039.4" cy="796.2" r="4.7" fill="#d60093"/>
<text x="1053.5" y="805.7" font-size="30" text-anchor="start">15 h</text>
<circle cx="1198" cy="796.2" r="4.7" fill="#993366"/>
<text x="1212.1" y="805.7" font-size="30" text-anchor="start">24 h</text>
<line x1="132.7" y1="1287.51" x2="1273.5" y2="1287.51" stroke="#d5d5d5" stroke-width="1.8"/>
<line x1="132.7" y1="1272.3" x2="1273.5" y2="1272.3" stroke="#d5d5d5" stroke-width="1.8"/>
<line x1="132.7" y1="1261.51" x2="1273.5" y2="1261.51" stroke="#d5d5d5" stroke-width="1.8"/>
<line x1="132.7" y1="1253.14" x2="1273.5" y2="1253.14" stroke="#d5d5d5" stroke-width="1.8"/>
<line x1="132.7" y1="1246.31" x2="1273.5" y2="1246.31" stroke="#d5d5d5" stroke-width="1.8"/>
<line x1="132.7" y1="1240.53" x2="1273.5" y2="1240.53" stroke="#d5d5d5" stroke-width="1.8"/>
<line x1="132.7" y1="1235.52" x2="1273.5" y2="1235.52" stroke="#d5d5d5" stroke-width="1.8"/>
<line x1="132.7" y1="1231.1" x2="1273.5" y2="1231.1" stroke="#d5d5d5" stroke-width="1.8"/>
<line x1="132.7" y1="1201.31" x2="1273.5" y2="1201.31" stroke="#d5d5d5" stroke-width="1.8"/>
<line x1="132.7" y1="1186.1" x2="1273.5" y2="1186.1" stroke="#d5d5d5" stroke-width="1.8"/>
<line x1="132.7" y1="1175.31" x2="1273.5" y2="1175.31" stroke="#d5d5d5" stroke-width="1.8"/>
<line x1="132.7" y1="1166.94" x2="1273.5" y2="1166.94" stroke="#d5d5d5" stroke-width="1.8"/>
<line x1="132.7" y1="1160.11" x2="1273.5" y2="1160.11" stroke="#d5d5d5" stroke-width="1.8"/>
<line x1="132.7" y1="1154.33" x2="1273.5" y2="1154.33" stroke="#d5d5d5" stroke-width="1.8"/>
<line x1="132.7" y1="1149.32" x2="1273.5" y2="1149.32" stroke="#d5d5d5" stroke-width="1.8"/>
<line x1="132.7" y1="1144.9" x2="1273.5" y2="1144.9" stroke="#d5d5d5" stroke-width="1.8"/>
<line x1="132.7" y1="1114.91" x2="1273.5" y2="1114.91" stroke="#d5d5d5" stroke-width="1.8"/>
<line x1="132.7" y1="1099.7" x2="1273.5" y2="1099.7" stroke="#d5d5d5" stroke-width="1.8"/>
<line x1="132.7" y1="1088.91" x2="1273.5" y2="1088.91" stroke="#d5d5d5" stroke-width="1.8"/>
<line x1="132.7" y1="1080.54" x2="1273.5" y2="1080.54" stroke="#d5d5d5" stroke-width="1.8"/>
<line x1="132.7" y1="1073.71" x2="1273.5" y2="1073.71" stroke="#d5d5d5" stroke-width="1.8"/>
<line x1="132.7" y1="1067.93" x2="1273.5" y2="1067.93" stroke="#d5d5d5" stroke-width="1.8"/>
<line x1="132.7" y1="1062.92" x2="1273.5" y2="1062.92" stroke="#d5d5d5" stroke-width="1.8"/>
<line x1="132.7" y1="1058.5" x2="1273.5" y2="1058.5" stroke="#d5d5d5" stroke-width="1.8"/>
<line x1="132.7" y1="1028.41" x2="1273.5" y2="1028.41" stroke="#d5d5d5" stroke-width="1.8"/>
<line x1="132.7" y1="1013.2" x2="1273.5" y2="1013.2" stroke="#d5d5d5" stroke-width="1.8"/>
<line x1="132.7" y1="1002.41" x2="1273.5" y2="1002.41" stroke="#d5d5d5" stroke-width="1.8"/>
<line x1="132.7" y1="994.04" x2="1273.5" y2="994.04" stroke="#d5d5d5" stroke-width="1.8"/>
<line x1="132.7" y1="987.21" x2="1273.5" y2="987.21" stroke="#d5d5d5" stroke-width="1.8"/>
<line x1="132.7" y1="981.43" x2="1273.5" y2="981.43" stroke="#d5d5d5" stroke-width="1.8"/>
<line x1="132.7" y1="976.42" x2="1273.5" y2="976.42" stroke="#d5d5d5" stroke-width="1.8"/>
<line x1="132.7" y1="972" x2="1273.5" y2="972" stroke="#d5d5d5" stroke-width="1.8"/>
<line x1="131.7" y1="969.6" x2="131.7" y2="1312" stroke="#fff" stroke-width="4.6"/>
<line x1="322" y1="969.6" x2="322" y2="1312" stroke="#fff" stroke-width="4.6"/>
<line x1="512.3" y1="969.6" x2="512.3" y2="1312" stroke="#fff" stroke-width="4.6"/>
<line x1="702.6" y1="969.6" x2="702.6" y2="1312" stroke="#fff" stroke-width="4.6"/>
<line x1="892.9" y1="969.6" x2="892.9" y2="1312" stroke="#fff" stroke-width="4.6"/>
<line x1="1083.2" y1="969.6" x2="1083.2" y2="1312" stroke="#fff" stroke-width="4.6"/>
<line x1="1273.5" y1="969.6" x2="1273.5" y2="1312" stroke="#fff" stroke-width="4.6"/>
<line x1="131.7" y1="968.1" x2="131.7" y2="1322.5" stroke="#000" stroke-width="2.0"/>
<line x1="322" y1="968.1" x2="322" y2="1322.5" stroke="#000" stroke-width="2.0"/>
<line x1="512.3" y1="968.1" x2="512.3" y2="1322.5" stroke="#000" stroke-width="2.0"/>
<line x1="702.6" y1="968.1" x2="702.6" y2="1322.5" stroke="#000" stroke-width="2.0"/>
<line x1="892.9" y1="968.1" x2="892.9" y2="1322.5" stroke="#000" stroke-width="2.0"/>
<line x1="1083.2" y1="968.1" x2="1083.2" y2="1322.5" stroke="#000" stroke-width="2.0"/>
<line x1="1273.5" y1="968.1" x2="1273.5" y2="1322.5" stroke="#000" stroke-width="2.0"/>
<line x1="123" y1="1313.5" x2="1273.5" y2="1313.5" stroke="#000" stroke-width="2.0"/>
<line x1="123" y1="1227.3" x2="1273.5" y2="1227.3" stroke="#000" stroke-width="2.0"/>
<line x1="123" y1="1140.9" x2="1273.5" y2="1140.9" stroke="#000" stroke-width="2.0"/>
<line x1="123" y1="1054.4" x2="1273.5" y2="1054.4" stroke="#000" stroke-width="2.0"/>
<line x1="123" y1="968.1" x2="1273.5" y2="968.1" stroke="#000" stroke-width="2.0"/>
<rect x="187.39" y="1225.9" width="3.2" height="2.8" fill="#fff"/>
<rect x="187.39" y="1139.5" width="3.2" height="2.8" fill="#fff"/>
<rect x="187.39" y="1053" width="3.2" height="2.8" fill="#fff"/>
<line x1="188.99" y1="969.5" x2="188.99" y2="1312.5" stroke="#d5d5d5" stroke-width="1.8"/>
<rect x="220.9" y="1225.9" width="3.2" height="2.8" fill="#fff"/>
<rect x="220.9" y="1139.5" width="3.2" height="2.8" fill="#fff"/>
<rect x="220.9" y="1053" width="3.2" height="2.8" fill="#fff"/>
<line x1="222.5" y1="969.5" x2="222.5" y2="1312.5" stroke="#d5d5d5" stroke-width="1.8"/>
<rect x="244.67" y="1225.9" width="3.2" height="2.8" fill="#fff"/>
<rect x="244.67" y="1139.5" width="3.2" height="2.8" fill="#fff"/>
<rect x="244.67" y="1053" width="3.2" height="2.8" fill="#fff"/>
<line x1="246.27" y1="969.5" x2="246.27" y2="1312.5" stroke="#d5d5d5" stroke-width="1.8"/>
<rect x="263.11" y="1225.9" width="3.2" height="2.8" fill="#fff"/>
<rect x="263.11" y="1139.5" width="3.2" height="2.8" fill="#fff"/>
<rect x="263.11" y="1053" width="3.2" height="2.8" fill="#fff"/>
<line x1="264.71" y1="969.5" x2="264.71" y2="1312.5" stroke="#d5d5d5" stroke-width="1.8"/>
<rect x="278.18" y="1225.9" width="3.2" height="2.8" fill="#fff"/>
<rect x="278.18" y="1139.5" width="3.2" height="2.8" fill="#fff"/>
<rect x="278.18" y="1053" width="3.2" height="2.8" fill="#fff"/>
<line x1="279.78" y1="969.5" x2="279.78" y2="1312.5" stroke="#d5d5d5" stroke-width="1.8"/>
<rect x="290.92" y="1225.9" width="3.2" height="2.8" fill="#fff"/>
<rect x="290.92" y="1139.5" width="3.2" height="2.8" fill="#fff"/>
<rect x="290.92" y="1053" width="3.2" height="2.8" fill="#fff"/>
<line x1="292.52" y1="969.5" x2="292.52" y2="1312.5" stroke="#d5d5d5" stroke-width="1.8"/>
<rect x="301.96" y="1225.9" width="3.2" height="2.8" fill="#fff"/>
<rect x="301.96" y="1139.5" width="3.2" height="2.8" fill="#fff"/>
<rect x="301.96" y="1053" width="3.2" height="2.8" fill="#fff"/>
<line x1="303.56" y1="969.5" x2="303.56" y2="1312.5" stroke="#d5d5d5" stroke-width="1.8"/>
<rect x="311.69" y="1225.9" width="3.2" height="2.8" fill="#fff"/>
<rect x="311.69" y="1139.5" width="3.2" height="2.8" fill="#fff"/>
<rect x="311.69" y="1053" width="3.2" height="2.8" fill="#fff"/>
<line x1="313.29" y1="969.5" x2="313.29" y2="1312.5" stroke="#d5d5d5" stroke-width="1.8"/>
<rect x="377.69" y="1225.9" width="3.2" height="2.8" fill="#fff"/>
<rect x="377.69" y="1139.5" width="3.2" height="2.8" fill="#fff"/>
<rect x="377.69" y="1053" width="3.2" height="2.8" fill="#fff"/>
<line x1="379.29" y1="969.5" x2="379.29" y2="1312.5" stroke="#d5d5d5" stroke-width="1.8"/>
<rect x="411.2" y="1225.9" width="3.2" height="2.8" fill="#fff"/>
<rect x="411.2" y="1139.5" width="3.2" height="2.8" fill="#fff"/>
<rect x="411.2" y="1053" width="3.2" height="2.8" fill="#fff"/>
<line x1="412.8" y1="969.5" x2="412.8" y2="1312.5" stroke="#d5d5d5" stroke-width="1.8"/>
<rect x="434.97" y="1225.9" width="3.2" height="2.8" fill="#fff"/>
<rect x="434.97" y="1139.5" width="3.2" height="2.8" fill="#fff"/>
<rect x="434.97" y="1053" width="3.2" height="2.8" fill="#fff"/>
<line x1="436.57" y1="969.5" x2="436.57" y2="1312.5" stroke="#d5d5d5" stroke-width="1.8"/>
<rect x="453.41" y="1225.9" width="3.2" height="2.8" fill="#fff"/>
<rect x="453.41" y="1139.5" width="3.2" height="2.8" fill="#fff"/>
<rect x="453.41" y="1053" width="3.2" height="2.8" fill="#fff"/>
<line x1="455.01" y1="969.5" x2="455.01" y2="1312.5" stroke="#d5d5d5" stroke-width="1.8"/>
<rect x="468.48" y="1225.9" width="3.2" height="2.8" fill="#fff"/>
<rect x="468.48" y="1139.5" width="3.2" height="2.8" fill="#fff"/>
<rect x="468.48" y="1053" width="3.2" height="2.8" fill="#fff"/>
<line x1="470.08" y1="969.5" x2="470.08" y2="1312.5" stroke="#d5d5d5" stroke-width="1.8"/>
<rect x="481.22" y="1225.9" width="3.2" height="2.8" fill="#fff"/>
<rect x="481.22" y="1139.5" width="3.2" height="2.8" fill="#fff"/>
<rect x="481.22" y="1053" width="3.2" height="2.8" fill="#fff"/>
<line x1="482.82" y1="969.5" x2="482.82" y2="1312.5" stroke="#d5d5d5" stroke-width="1.8"/>
<rect x="492.26" y="1225.9" width="3.2" height="2.8" fill="#fff"/>
<rect x="492.26" y="1139.5" width="3.2" height="2.8" fill="#fff"/>
<rect x="492.26" y="1053" width="3.2" height="2.8" fill="#fff"/>
<line x1="493.86" y1="969.5" x2="493.86" y2="1312.5" stroke="#d5d5d5" stroke-width="1.8"/>
<rect x="501.99" y="1225.9" width="3.2" height="2.8" fill="#fff"/>
<rect x="501.99" y="1139.5" width="3.2" height="2.8" fill="#fff"/>
<rect x="501.99" y="1053" width="3.2" height="2.8" fill="#fff"/>
<line x1="503.59" y1="969.5" x2="503.59" y2="1312.5" stroke="#d5d5d5" stroke-width="1.8"/>
<rect x="567.99" y="1225.9" width="3.2" height="2.8" fill="#fff"/>
<rect x="567.99" y="1139.5" width="3.2" height="2.8" fill="#fff"/>
<rect x="567.99" y="1053" width="3.2" height="2.8" fill="#fff"/>
<line x1="569.59" y1="969.5" x2="569.59" y2="1312.5" stroke="#d5d5d5" stroke-width="1.8"/>
<rect x="601.5" y="1225.9" width="3.2" height="2.8" fill="#fff"/>
<rect x="601.5" y="1139.5" width="3.2" height="2.8" fill="#fff"/>
<rect x="601.5" y="1053" width="3.2" height="2.8" fill="#fff"/>
<line x1="603.1" y1="969.5" x2="603.1" y2="1312.5" stroke="#d5d5d5" stroke-width="1.8"/>
<rect x="625.27" y="1225.9" width="3.2" height="2.8" fill="#fff"/>
<rect x="625.27" y="1139.5" width="3.2" height="2.8" fill="#fff"/>
<rect x="625.27" y="1053" width="3.2" height="2.8" fill="#fff"/>
<line x1="626.87" y1="969.5" x2="626.87" y2="1312.5" stroke="#d5d5d5" stroke-width="1.8"/>
<rect x="643.71" y="1225.9" width="3.2" height="2.8" fill="#fff"/>
<rect x="643.71" y="1139.5" width="3.2" height="2.8" fill="#fff"/>
<rect x="643.71" y="1053" width="3.2" height="2.8" fill="#fff"/>
<line x1="645.31" y1="969.5" x2="645.31" y2="1312.5" stroke="#d5d5d5" stroke-width="1.8"/>
<rect x="658.78" y="1225.9" width="3.2" height="2.8" fill="#fff"/>
<rect x="658.78" y="1139.5" width="3.2" height="2.8" fill="#fff"/>
<rect x="658.78" y="1053" width="3.2" height="2.8" fill="#fff"/>
<line x1="660.38" y1="969.5" x2="660.38" y2="1312.5" stroke="#d5d5d5" stroke-width="1.8"/>
<rect x="671.52" y="1225.9" width="3.2" height="2.8" fill="#fff"/>
<rect x="671.52" y="1139.5" width="3.2" height="2.8" fill="#fff"/>
<rect x="671.52" y="1053" width="3.2" height="2.8" fill="#fff"/>
<line x1="673.12" y1="969.5" x2="673.12" y2="1312.5" stroke="#d5d5d5" stroke-width="1.8"/>
<rect x="682.56" y="1225.9" width="3.2" height="2.8" fill="#fff"/>
<rect x="682.56" y="1139.5" width="3.2" height="2.8" fill="#fff"/>
<rect x="682.56" y="1053" width="3.2" height="2.8" fill="#fff"/>
<line x1="684.16" y1="969.5" x2="684.16" y2="1312.5" stroke="#d5d5d5" stroke-width="1.8"/>
<rect x="692.29" y="1225.9" width="3.2" height="2.8" fill="#fff"/>
<rect x="692.29" y="1139.5" width="3.2" height="2.8" fill="#fff"/>
<rect x="692.29" y="1053" width="3.2" height="2.8" fill="#fff"/>
<line x1="693.89" y1="969.5" x2="693.89" y2="1312.5" stroke="#d5d5d5" stroke-width="1.8"/>
<rect x="758.29" y="1225.9" width="3.2" height="2.8" fill="#fff"/>
<rect x="758.29" y="1139.5" width="3.2" height="2.8" fill="#fff"/>
<rect x="758.29" y="1053" width="3.2" height="2.8" fill="#fff"/>
<line x1="759.89" y1="969.5" x2="759.89" y2="1312.5" stroke="#d5d5d5" stroke-width="1.8"/>
<rect x="791.8" y="1225.9" width="3.2" height="2.8" fill="#fff"/>
<rect x="791.8" y="1139.5" width="3.2" height="2.8" fill="#fff"/>
<rect x="791.8" y="1053" width="3.2" height="2.8" fill="#fff"/>
<line x1="793.4" y1="969.5" x2="793.4" y2="1312.5" stroke="#d5d5d5" stroke-width="1.8"/>
<rect x="815.57" y="1225.9" width="3.2" height="2.8" fill="#fff"/>
<rect x="815.57" y="1139.5" width="3.2" height="2.8" fill="#fff"/>
<rect x="815.57" y="1053" width="3.2" height="2.8" fill="#fff"/>
<line x1="817.17" y1="969.5" x2="817.17" y2="1312.5" stroke="#d5d5d5" stroke-width="1.8"/>
<rect x="834.01" y="1225.9" width="3.2" height="2.8" fill="#fff"/>
<rect x="834.01" y="1139.5" width="3.2" height="2.8" fill="#fff"/>
<rect x="834.01" y="1053" width="3.2" height="2.8" fill="#fff"/>
<line x1="835.61" y1="969.5" x2="835.61" y2="1312.5" stroke="#d5d5d5" stroke-width="1.8"/>
<rect x="849.08" y="1225.9" width="3.2" height="2.8" fill="#fff"/>
<rect x="849.08" y="1139.5" width="3.2" height="2.8" fill="#fff"/>
<rect x="849.08" y="1053" width="3.2" height="2.8" fill="#fff"/>
<line x1="850.68" y1="969.5" x2="850.68" y2="1312.5" stroke="#d5d5d5" stroke-width="1.8"/>
<rect x="861.82" y="1225.9" width="3.2" height="2.8" fill="#fff"/>
<rect x="861.82" y="1139.5" width="3.2" height="2.8" fill="#fff"/>
<rect x="861.82" y="1053" width="3.2" height="2.8" fill="#fff"/>
<line x1="863.42" y1="969.5" x2="863.42" y2="1312.5" stroke="#d5d5d5" stroke-width="1.8"/>
<rect x="872.86" y="1225.9" width="3.2" height="2.8" fill="#fff"/>
<rect x="872.86" y="1139.5" width="3.2" height="2.8" fill="#fff"/>
<rect x="872.86" y="1053" width="3.2" height="2.8" fill="#fff"/>
<line x1="874.46" y1="969.5" x2="874.46" y2="1312.5" stroke="#d5d5d5" stroke-width="1.8"/>
<rect x="882.59" y="1225.9" width="3.2" height="2.8" fill="#fff"/>
<rect x="882.59" y="1139.5" width="3.2" height="2.8" fill="#fff"/>
<rect x="882.59" y="1053" width="3.2" height="2.8" fill="#fff"/>
<line x1="884.19" y1="969.5" x2="884.19" y2="1312.5" stroke="#d5d5d5" stroke-width="1.8"/>
<rect x="948.59" y="1225.9" width="3.2" height="2.8" fill="#fff"/>
<rect x="948.59" y="1139.5" width="3.2" height="2.8" fill="#fff"/>
<rect x="948.59" y="1053" width="3.2" height="2.8" fill="#fff"/>
<line x1="950.19" y1="969.5" x2="950.19" y2="1312.5" stroke="#d5d5d5" stroke-width="1.8"/>
<rect x="982.1" y="1225.9" width="3.2" height="2.8" fill="#fff"/>
<rect x="982.1" y="1139.5" width="3.2" height="2.8" fill="#fff"/>
<rect x="982.1" y="1053" width="3.2" height="2.8" fill="#fff"/>
<line x1="983.7" y1="969.5" x2="983.7" y2="1312.5" stroke="#d5d5d5" stroke-width="1.8"/>
<rect x="1005.87" y="1225.9" width="3.2" height="2.8" fill="#fff"/>
<rect x="1005.87" y="1139.5" width="3.2" height="2.8" fill="#fff"/>
<rect x="1005.87" y="1053" width="3.2" height="2.8" fill="#fff"/>
<line x1="1007.47" y1="969.5" x2="1007.47" y2="1312.5" stroke="#d5d5d5" stroke-width="1.8"/>
<rect x="1024.31" y="1225.9" width="3.2" height="2.8" fill="#fff"/>
<rect x="1024.31" y="1139.5" width="3.2" height="2.8" fill="#fff"/>
<rect x="1024.31" y="1053" width="3.2" height="2.8" fill="#fff"/>
<line x1="1025.91" y1="969.5" x2="1025.91" y2="1312.5" stroke="#d5d5d5" stroke-width="1.8"/>
<rect x="1039.38" y="1225.9" width="3.2" height="2.8" fill="#fff"/>
<rect x="1039.38" y="1139.5" width="3.2" height="2.8" fill="#fff"/>
<rect x="1039.38" y="1053" width="3.2" height="2.8" fill="#fff"/>
<line x1="1040.98" y1="969.5" x2="1040.98" y2="1312.5" stroke="#d5d5d5" stroke-width="1.8"/>
<rect x="1052.12" y="1225.9" width="3.2" height="2.8" fill="#fff"/>
<rect x="1052.12" y="1139.5" width="3.2" height="2.8" fill="#fff"/>
<rect x="1052.12" y="1053" width="3.2" height="2.8" fill="#fff"/>
<line x1="1053.72" y1="969.5" x2="1053.72" y2="1312.5" stroke="#d5d5d5" stroke-width="1.8"/>
<rect x="1063.16" y="1225.9" width="3.2" height="2.8" fill="#fff"/>
<rect x="1063.16" y="1139.5" width="3.2" height="2.8" fill="#fff"/>
<rect x="1063.16" y="1053" width="3.2" height="2.8" fill="#fff"/>
<line x1="1064.76" y1="969.5" x2="1064.76" y2="1312.5" stroke="#d5d5d5" stroke-width="1.8"/>
<rect x="1072.89" y="1225.9" width="3.2" height="2.8" fill="#fff"/>
<rect x="1072.89" y="1139.5" width="3.2" height="2.8" fill="#fff"/>
<rect x="1072.89" y="1053" width="3.2" height="2.8" fill="#fff"/>
<line x1="1074.49" y1="969.5" x2="1074.49" y2="1312.5" stroke="#d5d5d5" stroke-width="1.8"/>
<rect x="1138.89" y="1225.9" width="3.2" height="2.8" fill="#fff"/>
<rect x="1138.89" y="1139.5" width="3.2" height="2.8" fill="#fff"/>
<rect x="1138.89" y="1053" width="3.2" height="2.8" fill="#fff"/>
<line x1="1140.49" y1="969.5" x2="1140.49" y2="1312.5" stroke="#d5d5d5" stroke-width="1.8"/>
<rect x="1172.4" y="1225.9" width="3.2" height="2.8" fill="#fff"/>
<rect x="1172.4" y="1139.5" width="3.2" height="2.8" fill="#fff"/>
<rect x="1172.4" y="1053" width="3.2" height="2.8" fill="#fff"/>
<line x1="1174" y1="969.5" x2="1174" y2="1312.5" stroke="#d5d5d5" stroke-width="1.8"/>
<rect x="1196.17" y="1225.9" width="3.2" height="2.8" fill="#fff"/>
<rect x="1196.17" y="1139.5" width="3.2" height="2.8" fill="#fff"/>
<rect x="1196.17" y="1053" width="3.2" height="2.8" fill="#fff"/>
<line x1="1197.77" y1="969.5" x2="1197.77" y2="1312.5" stroke="#d5d5d5" stroke-width="1.8"/>
<rect x="1214.61" y="1225.9" width="3.2" height="2.8" fill="#fff"/>
<rect x="1214.61" y="1139.5" width="3.2" height="2.8" fill="#fff"/>
<rect x="1214.61" y="1053" width="3.2" height="2.8" fill="#fff"/>
<line x1="1216.21" y1="969.5" x2="1216.21" y2="1312.5" stroke="#d5d5d5" stroke-width="1.8"/>
<rect x="1229.68" y="1225.9" width="3.2" height="2.8" fill="#fff"/>
<rect x="1229.68" y="1139.5" width="3.2" height="2.8" fill="#fff"/>
<rect x="1229.68" y="1053" width="3.2" height="2.8" fill="#fff"/>
<line x1="1231.28" y1="969.5" x2="1231.28" y2="1312.5" stroke="#d5d5d5" stroke-width="1.8"/>
<rect x="1242.42" y="1225.9" width="3.2" height="2.8" fill="#fff"/>
<rect x="1242.42" y="1139.5" width="3.2" height="2.8" fill="#fff"/>
<rect x="1242.42" y="1053" width="3.2" height="2.8" fill="#fff"/>
<line x1="1244.02" y1="969.5" x2="1244.02" y2="1312.5" stroke="#d5d5d5" stroke-width="1.8"/>
<rect x="1253.46" y="1225.9" width="3.2" height="2.8" fill="#fff"/>
<rect x="1253.46" y="1139.5" width="3.2" height="2.8" fill="#fff"/>
<rect x="1253.46" y="1053" width="3.2" height="2.8" fill="#fff"/>
<line x1="1255.06" y1="969.5" x2="1255.06" y2="1312.5" stroke="#d5d5d5" stroke-width="1.8"/>
<rect x="1263.19" y="1225.9" width="3.2" height="2.8" fill="#fff"/>
<rect x="1263.19" y="1139.5" width="3.2" height="2.8" fill="#fff"/>
<rect x="1263.19" y="1053" width="3.2" height="2.8" fill="#fff"/>
<line x1="1264.79" y1="969.5" x2="1264.79" y2="1312.5" stroke="#d5d5d5" stroke-width="1.8"/>
<g fill="#666633">
<circle cx="131.7" cy="1010.4" r="4.7"/>
<circle cx="150.73" cy="1017" r="4.7"/>
<circle cx="169.76" cy="1025.3" r="4.7"/>
<circle cx="188.79" cy="1031.1" r="4.7"/>
<circle cx="207.82" cy="1037.9" r="4.7"/>
<circle cx="226.85" cy="1044.6" r="4.7"/>
<circle cx="245.88" cy="1054.7" r="4.7"/>
<circle cx="264.91" cy="1062.2" r="4.7"/>
<circle cx="283.94" cy="1069.3" r="4.7"/>
<circle cx="302.97" cy="1076.8" r="4.7"/>
<circle cx="322" cy="1084.3" r="4.7"/>
<circle cx="341.03" cy="1092.3" r="4.7"/>
<circle cx="360.06" cy="1099.5" r="4.7"/>
<circle cx="379.09" cy="1107.2" r="4.7"/>
<circle cx="398.12" cy="1114.4" r="4.7"/>
<circle cx="417.15" cy="1121.8" r="4.7"/>
<circle cx="436.18" cy="1129.3" r="4.7"/>
<circle cx="455.21" cy="1137.2" r="4.7"/>
<circle cx="474.24" cy="1144.6" r="4.7"/>
<circle cx="493.27" cy="1151.9" r="4.7"/>
<circle cx="512.3" cy="1159.4" r="4.7"/>
<circle cx="531.33" cy="1166" r="4.7"/>
<circle cx="550.36" cy="1173.2" r="4.7"/>
<circle cx="569.39" cy="1180.3" r="4.7"/>
<circle cx="588.42" cy="1186.6" r="4.7"/>
<circle cx="607.45" cy="1192.7" r="4.7"/>
<circle cx="626.48" cy="1197.9" r="4.7"/>
<circle cx="645.51" cy="1203.8" r="4.7"/>
<circle cx="664.54" cy="1208.4" r="4.7"/>
<circle cx="683.57" cy="1212" r="4.7"/>
<circle cx="702.6" cy="1215.4" r="4.7"/>
<circle cx="721.63" cy="1218" r="4.7"/>
<circle cx="740.66" cy="1221" r="4.7"/>
<circle cx="759.69" cy="1222" r="4.7"/>
<circle cx="778.72" cy="1224" r="4.7"/>
<circle cx="797.75" cy="1225.5" r="4.7"/>
<circle cx="816.78" cy="1227" r="4.7"/>
<circle cx="835.81" cy="1228" r="4.7"/>
<circle cx="854.84" cy="1229" r="4.7"/>
<circle cx="873.87" cy="1229.5" r="4.7"/>
<circle cx="892.9" cy="1230" r="4.7"/>
<circle cx="911.93" cy="1230.5" r="4.7"/>
<circle cx="930.96" cy="1230.54" r="4.7"/>
<circle cx="949.99" cy="1230.59" r="4.7"/>
<circle cx="969.02" cy="1230.63" r="4.7"/>
<circle cx="988.05" cy="1230.68" r="4.7"/>
<circle cx="1007.08" cy="1230.72" r="4.7"/>
<circle cx="1026.11" cy="1230.77" r="4.7"/>
<circle cx="1045.14" cy="1230.81" r="4.7"/>
<circle cx="1064.17" cy="1230.86" r="4.7"/>
<circle cx="1083.2" cy="1230.9" r="4.7"/>
<circle cx="1102.23" cy="1230.94" r="4.7"/>
<circle cx="1121.26" cy="1230.99" r="4.7"/>
<circle cx="1140.29" cy="1231.03" r="4.7"/>
<circle cx="1159.32" cy="1231.08" r="4.7"/>
<circle cx="1178.35" cy="1231.12" r="4.7"/>
<circle cx="1197.38" cy="1231.17" r="4.7"/>
<circle cx="1216.41" cy="1231.21" r="4.7"/>
<circle cx="1235.44" cy="1231.26" r="4.7"/>
<circle cx="1254.47" cy="1231.3" r="4.7"/>
</g>
<g fill="#99cc00">
<circle cx="131.7" cy="1027.4" r="4.7"/>
<circle cx="150.73" cy="1032.7" r="4.7"/>
<circle cx="169.76" cy="1039" r="4.7"/>
<circle cx="188.79" cy="1045.3" r="4.7"/>
<circle cx="207.82" cy="1053.6" r="4.7"/>
<circle cx="226.85" cy="1060.9" r="4.7"/>
<circle cx="245.88" cy="1067.7" r="4.7"/>
<circle cx="264.91" cy="1074.8" r="4.7"/>
<circle cx="283.94" cy="1081.8" r="4.7"/>
<circle cx="302.97" cy="1088.9" r="4.7"/>
<circle cx="322" cy="1096.2" r="4.7"/>
<circle cx="341.03" cy="1103.7" r="4.7"/>
<circle cx="360.06" cy="1111.1" r="4.7"/>
<circle cx="379.09" cy="1118.2" r="4.7"/>
<circle cx="398.12" cy="1125.3" r="4.7"/>
<circle cx="417.15" cy="1132.8" r="4.7"/>
<circle cx="436.18" cy="1139.8" r="4.7"/>
<circle cx="455.21" cy="1147.4" r="4.7"/>
<circle cx="474.24" cy="1154.4" r="4.7"/>
<circle cx="493.27" cy="1161" r="4.7"/>
<circle cx="512.3" cy="1168" r="4.7"/>
<circle cx="531.33" cy="1174.5" r="4.7"/>
<circle cx="550.36" cy="1181" r="4.7"/>
<circle cx="569.39" cy="1187.5" r="4.7"/>
<circle cx="588.42" cy="1193.5" r="4.7"/>
<circle cx="607.45" cy="1199.5" r="4.7"/>
<circle cx="626.48" cy="1204.5" r="4.7"/>
<circle cx="645.51" cy="1209.5" r="4.7"/>
<circle cx="664.54" cy="1213.5" r="4.7"/>
<circle cx="683.57" cy="1217" r="4.7"/>
<circle cx="702.6" cy="1220" r="4.7"/>
<circle cx="721.63" cy="1222.5" r="4.7"/>
<circle cx="740.66" cy="1224.5" r="4.7"/>
<circle cx="759.69" cy="1226" r="4.7"/>
<circle cx="778.72" cy="1227" r="4.7"/>
<circle cx="797.75" cy="1228" r="4.7"/>
<circle cx="816.78" cy="1228.5" r="4.7"/>
<circle cx="835.81" cy="1228.88" r="4.7"/>
<circle cx="854.84" cy="1229.25" r="4.7"/>
<circle cx="873.87" cy="1229.62" r="4.7"/>
<circle cx="892.9" cy="1230" r="4.7"/>
<circle cx="911.93" cy="1230.05" r="4.7"/>
<circle cx="930.96" cy="1230.11" r="4.7"/>
<circle cx="949.99" cy="1230.16" r="4.7"/>
<circle cx="969.02" cy="1230.21" r="4.7"/>
<circle cx="988.05" cy="1230.26" r="4.7"/>
<circle cx="1007.08" cy="1230.32" r="4.7"/>
<circle cx="1026.11" cy="1230.37" r="4.7"/>
<circle cx="1045.14" cy="1230.42" r="4.7"/>
<circle cx="1064.17" cy="1230.47" r="4.7"/>
<circle cx="1083.2" cy="1230.53" r="4.7"/>
<circle cx="1102.23" cy="1230.58" r="4.7"/>
<circle cx="1121.26" cy="1230.63" r="4.7"/>
<circle cx="1140.29" cy="1230.68" r="4.7"/>
<circle cx="1159.32" cy="1230.74" r="4.7"/>
<circle cx="1178.35" cy="1230.79" r="4.7"/>
<circle cx="1197.38" cy="1230.84" r="4.7"/>
<circle cx="1216.41" cy="1230.89" r="4.7"/>
<circle cx="1235.44" cy="1230.95" r="4.7"/>
<circle cx="1254.47" cy="1231" r="4.7"/>
</g>
<g fill="#ccff33">
<circle cx="131.7" cy="1037.4" r="4.7"/>
<circle cx="150.73" cy="1042.6" r="4.7"/>
<circle cx="169.76" cy="1047.8" r="4.7"/>
<circle cx="188.79" cy="1055.6" r="4.7"/>
<circle cx="207.82" cy="1062.2" r="4.7"/>
<circle cx="226.85" cy="1068.5" r="4.7"/>
<circle cx="245.88" cy="1075.5" r="4.7"/>
<circle cx="264.91" cy="1082.3" r="4.7"/>
<circle cx="283.94" cy="1088.9" r="4.7"/>
<circle cx="302.97" cy="1096.4" r="4.7"/>
<circle cx="322" cy="1103.2" r="4.7"/>
<circle cx="341.03" cy="1110.5" r="4.7"/>
<circle cx="360.06" cy="1117.1" r="4.7"/>
<circle cx="379.09" cy="1124.2" r="4.7"/>
<circle cx="398.12" cy="1130.4" r="4.7"/>
<circle cx="417.15" cy="1136.7" r="4.7"/>
<circle cx="436.18" cy="1143.5" r="4.7"/>
<circle cx="455.21" cy="1150" r="4.7"/>
<circle cx="474.24" cy="1156.5" r="4.7"/>
<circle cx="493.27" cy="1163" r="4.7"/>
<circle cx="512.3" cy="1170" r="4.7"/>
<circle cx="531.33" cy="1176" r="4.7"/>
<circle cx="550.36" cy="1182.5" r="4.7"/>
<circle cx="569.39" cy="1189" r="4.7"/>
<circle cx="588.42" cy="1195" r="4.7"/>
<circle cx="607.45" cy="1200.5" r="4.7"/>
<circle cx="626.48" cy="1205.5" r="4.7"/>
<circle cx="645.51" cy="1210" r="4.7"/>
<circle cx="664.54" cy="1214" r="4.7"/>
<circle cx="683.57" cy="1217.5" r="4.7"/>
<circle cx="702.6" cy="1220.5" r="4.7"/>
<circle cx="721.63" cy="1223" r="4.7"/>
<circle cx="740.66" cy="1225" r="4.7"/>
<circle cx="759.69" cy="1226.5" r="4.7"/>
<circle cx="778.72" cy="1227.5" r="4.7"/>
<circle cx="797.75" cy="1228.15" r="4.7"/>
<circle cx="816.78" cy="1228.8" r="4.7"/>
<circle cx="835.81" cy="1229.1" r="4.7"/>
<circle cx="854.84" cy="1229.4" r="4.7"/>
<circle cx="873.87" cy="1229.7" r="4.7"/>
<circle cx="892.9" cy="1230" r="4.7"/>
<circle cx="911.93" cy="1230.05" r="4.7"/>
<circle cx="930.96" cy="1230.11" r="4.7"/>
<circle cx="949.99" cy="1230.16" r="4.7"/>
<circle cx="969.02" cy="1230.21" r="4.7"/>
<circle cx="988.05" cy="1230.26" r="4.7"/>
<circle cx="1007.08" cy="1230.32" r="4.7"/>
<circle cx="1026.11" cy="1230.37" r="4.7"/>
<circle cx="1045.14" cy="1230.42" r="4.7"/>
<circle cx="1064.17" cy="1230.47" r="4.7"/>
<circle cx="1083.2" cy="1230.53" r="4.7"/>
<circle cx="1102.23" cy="1230.58" r="4.7"/>
<circle cx="1121.26" cy="1230.63" r="4.7"/>
<circle cx="1140.29" cy="1230.68" r="4.7"/>
<circle cx="1159.32" cy="1230.74" r="4.7"/>
<circle cx="1178.35" cy="1230.79" r="4.7"/>
<circle cx="1197.38" cy="1230.84" r="4.7"/>
<circle cx="1216.41" cy="1230.89" r="4.7"/>
<circle cx="1235.44" cy="1230.95" r="4.7"/>
<circle cx="1254.47" cy="1231" r="4.7"/>
</g>
<g fill="#00b0f0">
<circle cx="131.7" cy="1091.2" r="4.7"/>
<circle cx="150.73" cy="1091.2" r="4.7"/>
<circle cx="169.76" cy="1091.2" r="4.7"/>
<circle cx="188.79" cy="1092" r="4.7"/>
<circle cx="207.82" cy="1092.8" r="4.7"/>
<circle cx="226.85" cy="1095.2" r="4.7"/>
<circle cx="245.88" cy="1098.3" r="4.7"/>
<circle cx="264.91" cy="1101.5" r="4.7"/>
<circle cx="283.94" cy="1105.5" r="4.7"/>
<circle cx="302.97" cy="1110" r="4.7"/>
<circle cx="322" cy="1115" r="4.7"/>
<circle cx="341.03" cy="1120.5" r="4.7"/>
<circle cx="360.06" cy="1126" r="4.7"/>
<circle cx="379.09" cy="1132" r="4.7"/>
<circle cx="398.12" cy="1138" r="4.7"/>
<circle cx="417.15" cy="1145" r="4.7"/>
<circle cx="436.18" cy="1151" r="4.7"/>
<circle cx="455.21" cy="1157.1" r="4.7"/>
<circle cx="474.24" cy="1163.9" r="4.7"/>
<circle cx="493.27" cy="1170.5" r="4.7"/>
<circle cx="512.3" cy="1176.7" r="4.7"/>
<circle cx="531.33" cy="1182.2" r="4.7"/>
<circle cx="550.36" cy="1189.2" r="4.7"/>
<circle cx="569.39" cy="1195.2" r="4.7"/>
<circle cx="588.42" cy="1200.5" r="4.7"/>
<circle cx="607.45" cy="1205.7" r="4.7"/>
<circle cx="626.48" cy="1209.6" r="4.7"/>
<circle cx="645.51" cy="1214.7" r="4.7"/>
<circle cx="664.54" cy="1218" r="4.7"/>
<circle cx="683.57" cy="1221" r="4.7"/>
<circle cx="702.6" cy="1223.5" r="4.7"/>
<circle cx="721.63" cy="1225.3" r="4.7"/>
<circle cx="740.66" cy="1226.7" r="4.7"/>
<circle cx="759.69" cy="1227.6" r="4.7"/>
<circle cx="778.72" cy="1228.5" r="4.7"/>
<circle cx="797.75" cy="1229" r="4.7"/>
<circle cx="816.78" cy="1229.5" r="4.7"/>
<circle cx="835.81" cy="1229.88" r="4.7"/>
<circle cx="854.84" cy="1230.25" r="4.7"/>
<circle cx="873.87" cy="1230.62" r="4.7"/>
<circle cx="892.9" cy="1231" r="4.7"/>
<circle cx="911.93" cy="1231.05" r="4.7"/>
<circle cx="930.96" cy="1231.11" r="4.7"/>
<circle cx="949.99" cy="1231.16" r="4.7"/>
<circle cx="969.02" cy="1231.21" r="4.7"/>
<circle cx="988.05" cy="1231.26" r="4.7"/>
<circle cx="1007.08" cy="1231.32" r="4.7"/>
<circle cx="1026.11" cy="1231.37" r="4.7"/>
<circle cx="1045.14" cy="1231.42" r="4.7"/>
<circle cx="1064.17" cy="1231.47" r="4.7"/>
<circle cx="1083.2" cy="1231.53" r="4.7"/>
<circle cx="1102.23" cy="1231.58" r="4.7"/>
<circle cx="1121.26" cy="1231.63" r="4.7"/>
<circle cx="1140.29" cy="1231.68" r="4.7"/>
<circle cx="1159.32" cy="1231.74" r="4.7"/>
<circle cx="1178.35" cy="1231.79" r="4.7"/>
<circle cx="1197.38" cy="1231.84" r="4.7"/>
<circle cx="1216.41" cy="1231.89" r="4.7"/>
<circle cx="1235.44" cy="1231.95" r="4.7"/>
<circle cx="1254.47" cy="1232" r="4.7"/>
</g>
<g fill="#0070c0">
<circle cx="131.7" cy="1084.2" r="4.7"/>
<circle cx="150.73" cy="1085" r="4.7"/>
<circle cx="169.76" cy="1086.5" r="4.7"/>
<circle cx="188.79" cy="1088.9" r="4.7"/>
<circle cx="207.82" cy="1090.5" r="4.7"/>
<circle cx="226.85" cy="1093" r="4.7"/>
<circle cx="245.88" cy="1096.5" r="4.7"/>
<circle cx="264.91" cy="1100.5" r="4.7"/>
<circle cx="283.94" cy="1105" r="4.7"/>
<circle cx="302.97" cy="1109.5" r="4.7"/>
<circle cx="322" cy="1114.5" r="4.7"/>
<circle cx="341.03" cy="1120" r="4.7"/>
<circle cx="360.06" cy="1125.5" r="4.7"/>
<circle cx="379.09" cy="1131.5" r="4.7"/>
<circle cx="398.12" cy="1137.5" r="4.7"/>
<circle cx="417.15" cy="1144.5" r="4.7"/>
<circle cx="436.18" cy="1150.5" r="4.7"/>
<circle cx="455.21" cy="1156.5" r="4.7"/>
<circle cx="474.24" cy="1163" r="4.7"/>
<circle cx="493.27" cy="1169.5" r="4.7"/>
<circle cx="512.3" cy="1175.5" r="4.7"/>
<circle cx="531.33" cy="1181" r="4.7"/>
<circle cx="550.36" cy="1188" r="4.7"/>
<circle cx="569.39" cy="1194" r="4.7"/>
<circle cx="588.42" cy="1199.5" r="4.7"/>
<circle cx="607.45" cy="1204.5" r="4.7"/>
<circle cx="626.48" cy="1208.5" r="4.7"/>
<circle cx="645.51" cy="1213.5" r="4.7"/>
<circle cx="664.54" cy="1217" r="4.7"/>
<circle cx="683.57" cy="1220" r="4.7"/>
<circle cx="702.6" cy="1222.5" r="4.7"/>
<circle cx="721.63" cy="1224.25" r="4.7"/>
<circle cx="740.66" cy="1226" r="4.7"/>
<circle cx="759.69" cy="1227" r="4.7"/>
<circle cx="778.72" cy="1228" r="4.7"/>
<circle cx="797.75" cy="1228.5" r="4.7"/>
<circle cx="816.78" cy="1229" r="4.7"/>
<circle cx="835.81" cy="1229.38" r="4.7"/>
<circle cx="854.84" cy="1229.75" r="4.7"/>
<circle cx="873.87" cy="1230.12" r="4.7"/>
<circle cx="892.9" cy="1230.5" r="4.7"/>
<circle cx="911.93" cy="1230.55" r="4.7"/>
<circle cx="930.96" cy="1230.61" r="4.7"/>
<circle cx="949.99" cy="1230.66" r="4.7"/>
<circle cx="969.02" cy="1230.71" r="4.7"/>
<circle cx="988.05" cy="1230.76" r="4.7"/>
<circle cx="1007.08" cy="1230.82" r="4.7"/>
<circle cx="1026.11" cy="1230.87" r="4.7"/>
<circle cx="1045.14" cy="1230.92" r="4.7"/>
<circle cx="1064.17" cy="1230.97" r="4.7"/>
<circle cx="1083.2" cy="1231.03" r="4.7"/>
<circle cx="1102.23" cy="1231.08" r="4.7"/>
<circle cx="1121.26" cy="1231.13" r="4.7"/>
<circle cx="1140.29" cy="1231.18" r="4.7"/>
<circle cx="1159.32" cy="1231.24" r="4.7"/>
<circle cx="1178.35" cy="1231.29" r="4.7"/>
<circle cx="1197.38" cy="1231.34" r="4.7"/>
<circle cx="1216.41" cy="1231.39" r="4.7"/>
<circle cx="1235.44" cy="1231.45" r="4.7"/>
<circle cx="1254.47" cy="1231.5" r="4.7"/>
</g>
<g fill="#ff9966">
<circle cx="131.7" cy="1078.7" r="4.7"/>
<circle cx="150.73" cy="1081.8" r="4.7"/>
<circle cx="169.76" cy="1083.4" r="4.7"/>
<circle cx="188.79" cy="1085" r="4.7"/>
<circle cx="207.82" cy="1088.9" r="4.7"/>
<circle cx="226.85" cy="1092" r="4.7"/>
<circle cx="245.88" cy="1096" r="4.7"/>
<circle cx="264.91" cy="1100.7" r="4.7"/>
<circle cx="283.94" cy="1106.2" r="4.7"/>
<circle cx="302.97" cy="1111.6" r="4.7"/>
<circle cx="322" cy="1115.5" r="4.7"/>
<circle cx="341.03" cy="1120.2" r="4.7"/>
<circle cx="360.06" cy="1126.5" r="4.7"/>
<circle cx="379.09" cy="1132.8" r="4.7"/>
<circle cx="398.12" cy="1138.3" r="4.7"/>
<circle cx="417.15" cy="1145" r="4.7"/>
<circle cx="436.18" cy="1150.8" r="4.7"/>
<circle cx="455.21" cy="1156.5" r="4.7"/>
<circle cx="474.24" cy="1162.5" r="4.7"/>
<circle cx="493.27" cy="1168.5" r="4.7"/>
<circle cx="512.3" cy="1174.5" r="4.7"/>
<circle cx="531.33" cy="1180" r="4.7"/>
<circle cx="550.36" cy="1186.5" r="4.7"/>
<circle cx="569.39" cy="1192.5" r="4.7"/>
<circle cx="588.42" cy="1198" r="4.7"/>
<circle cx="607.45" cy="1203.5" r="4.7"/>
<circle cx="626.48" cy="1207.5" r="4.7"/>
<circle cx="645.51" cy="1212.5" r="4.7"/>
<circle cx="664.54" cy="1216" r="4.7"/>
<circle cx="683.57" cy="1219" r="4.7"/>
<circle cx="702.6" cy="1222" r="4.7"/>
<circle cx="721.63" cy="1223.75" r="4.7"/>
<circle cx="740.66" cy="1225.5" r="4.7"/>
<circle cx="759.69" cy="1226.5" r="4.7"/>
<circle cx="778.72" cy="1227.5" r="4.7"/>
<circle cx="797.75" cy="1228.15" r="4.7"/>
<circle cx="816.78" cy="1228.8" r="4.7"/>
<circle cx="835.81" cy="1229.17" r="4.7"/>
<circle cx="854.84" cy="1229.55" r="4.7"/>
<circle cx="873.87" cy="1229.92" r="4.7"/>
<circle cx="892.9" cy="1230.3" r="4.7"/>
<circle cx="911.93" cy="1230.34" r="4.7"/>
<circle cx="930.96" cy="1230.37" r="4.7"/>
<circle cx="949.99" cy="1230.41" r="4.7"/>
<circle cx="969.02" cy="1230.45" r="4.7"/>
<circle cx="988.05" cy="1230.48" r="4.7"/>
<circle cx="1007.08" cy="1230.52" r="4.7"/>
<circle cx="1026.11" cy="1230.56" r="4.7"/>
<circle cx="1045.14" cy="1230.59" r="4.7"/>
<circle cx="1064.17" cy="1230.63" r="4.7"/>
<circle cx="1083.2" cy="1230.67" r="4.7"/>
<circle cx="1102.23" cy="1230.71" r="4.7"/>
<circle cx="1121.26" cy="1230.74" r="4.7"/>
<circle cx="1140.29" cy="1230.78" r="4.7"/>
<circle cx="1159.32" cy="1230.82" r="4.7"/>
<circle cx="1178.35" cy="1230.85" r="4.7"/>
<circle cx="1197.38" cy="1230.89" r="4.7"/>
<circle cx="1216.41" cy="1230.93" r="4.7"/>
<circle cx="1235.44" cy="1230.96" r="4.7"/>
<circle cx="1254.47" cy="1231" r="4.7"/>
</g>
<g fill="#ff7c80">
<circle cx="131.7" cy="1075.2" r="4.7"/>
<circle cx="150.73" cy="1077.5" r="4.7"/>
<circle cx="169.76" cy="1079.9" r="4.7"/>
<circle cx="188.79" cy="1082.7" r="4.7"/>
<circle cx="207.82" cy="1086.2" r="4.7"/>
<circle cx="226.85" cy="1090.6" r="4.7"/>
<circle cx="245.88" cy="1094.8" r="4.7"/>
<circle cx="264.91" cy="1100.3" r="4.7"/>
<circle cx="283.94" cy="1105.8" r="4.7"/>
<circle cx="302.97" cy="1111.3" r="4.7"/>
<circle cx="322" cy="1115.5" r="4.7"/>
<circle cx="341.03" cy="1120.2" r="4.7"/>
<circle cx="360.06" cy="1126.5" r="4.7"/>
<circle cx="379.09" cy="1131.8" r="4.7"/>
<circle cx="398.12" cy="1137.3" r="4.7"/>
<circle cx="417.15" cy="1144" r="4.7"/>
<circle cx="436.18" cy="1149.8" r="4.7"/>
<circle cx="455.21" cy="1155.5" r="4.7"/>
<circle cx="474.24" cy="1161.5" r="4.7"/>
<circle cx="493.27" cy="1167.5" r="4.7"/>
<circle cx="512.3" cy="1173.5" r="4.7"/>
<circle cx="531.33" cy="1179" r="4.7"/>
<circle cx="550.36" cy="1185.5" r="4.7"/>
<circle cx="569.39" cy="1191.5" r="4.7"/>
<circle cx="588.42" cy="1197" r="4.7"/>
<circle cx="607.45" cy="1202.5" r="4.7"/>
<circle cx="626.48" cy="1206.5" r="4.7"/>
<circle cx="645.51" cy="1211.5" r="4.7"/>
<circle cx="664.54" cy="1215" r="4.7"/>
<circle cx="683.57" cy="1218" r="4.7"/>
<circle cx="702.6" cy="1221" r="4.7"/>
<circle cx="721.63" cy="1222.75" r="4.7"/>
<circle cx="740.66" cy="1224.5" r="4.7"/>
<circle cx="759.69" cy="1225.5" r="4.7"/>
<circle cx="778.72" cy="1226.5" r="4.7"/>
<circle cx="797.75" cy="1227.15" r="4.7"/>
<circle cx="816.78" cy="1227.8" r="4.7"/>
<circle cx="835.81" cy="1228.17" r="4.7"/>
<circle cx="854.84" cy="1228.55" r="4.7"/>
<circle cx="873.87" cy="1228.92" r="4.7"/>
<circle cx="892.9" cy="1229.3" r="4.7"/>
<circle cx="911.93" cy="1229.34" r="4.7"/>
<circle cx="930.96" cy="1229.37" r="4.7"/>
<circle cx="949.99" cy="1229.41" r="4.7"/>
<circle cx="969.02" cy="1229.45" r="4.7"/>
<circle cx="988.05" cy="1229.48" r="4.7"/>
<circle cx="1007.08" cy="1229.52" r="4.7"/>
<circle cx="1026.11" cy="1229.56" r="4.7"/>
<circle cx="1045.14" cy="1229.59" r="4.7"/>
<circle cx="1064.17" cy="1229.63" r="4.7"/>
<circle cx="1083.2" cy="1229.67" r="4.7"/>
<circle cx="1102.23" cy="1229.71" r="4.7"/>
<circle cx="1121.26" cy="1229.74" r="4.7"/>
<circle cx="1140.29" cy="1229.78" r="4.7"/>
<circle cx="1159.32" cy="1229.82" r="4.7"/>
<circle cx="1178.35" cy="1229.85" r="4.7"/>
<circle cx="1197.38" cy="1229.89" r="4.7"/>
<circle cx="1216.41" cy="1229.93" r="4.7"/>
<circle cx="1235.44" cy="1229.96" r="4.7"/>
<circle cx="1254.47" cy="1230" r="4.7"/>
</g>
<g fill="#ff0066">
<circle cx="131.7" cy="1073.2" r="4.7"/>
<circle cx="150.73" cy="1075.5" r="4.7"/>
<circle cx="169.76" cy="1077.9" r="4.7"/>
<circle cx="188.79" cy="1080.7" r="4.7"/>
<circle cx="207.82" cy="1084.2" r="4.7"/>
<circle cx="226.85" cy="1088.6" r="4.7"/>
<circle cx="245.88" cy="1092.8" r="4.7"/>
<circle cx="264.91" cy="1098.3" r="4.7"/>
<circle cx="283.94" cy="1103.8" r="4.7"/>
<circle cx="302.97" cy="1109.3" r="4.7"/>
<circle cx="322" cy="1113.5" r="4.7"/>
<circle cx="341.03" cy="1119" r="4.7"/>
<circle cx="360.06" cy="1125" r="4.7"/>
<circle cx="379.09" cy="1131" r="4.7"/>
<circle cx="398.12" cy="1137" r="4.7"/>
<circle cx="417.15" cy="1143.5" r="4.7"/>
<circle cx="436.18" cy="1149.5" r="4.7"/>
<circle cx="455.21" cy="1156" r="4.7"/>
<circle cx="474.24" cy="1161.5" r="4.7"/>
<circle cx="493.27" cy="1167.5" r="4.7"/>
<circle cx="512.3" cy="1174" r="4.7"/>
<circle cx="531.33" cy="1179.8" r="4.7"/>
<circle cx="550.36" cy="1186" r="4.7"/>
<circle cx="569.39" cy="1192.2" r="4.7"/>
<circle cx="588.42" cy="1197.8" r="4.7"/>
<circle cx="607.45" cy="1203.5" r="4.7"/>
<circle cx="626.48" cy="1207.6" r="4.7"/>
<circle cx="645.51" cy="1212.5" r="4.7"/>
<circle cx="664.54" cy="1215.8" r="4.7"/>
<circle cx="683.57" cy="1218.7" r="4.7"/>
<circle cx="702.6" cy="1221.6" r="4.7"/>
<circle cx="721.63" cy="1223.8" r="4.7"/>
<circle cx="740.66" cy="1225.2" r="4.7"/>
<circle cx="759.69" cy="1226.4" r="4.7"/>
<circle cx="778.72" cy="1227.6" r="4.7"/>
<circle cx="797.75" cy="1228.1" r="4.7"/>
<circle cx="816.78" cy="1228.6" r="4.7"/>
<circle cx="835.81" cy="1229" r="4.7"/>
<circle cx="854.84" cy="1229.4" r="4.7"/>
<circle cx="873.87" cy="1229.8" r="4.7"/>
<circle cx="892.9" cy="1230.2" r="4.7"/>
<circle cx="911.93" cy="1230.23" r="4.7"/>
<circle cx="930.96" cy="1230.26" r="4.7"/>
<circle cx="949.99" cy="1230.29" r="4.7"/>
<circle cx="969.02" cy="1230.33" r="4.7"/>
<circle cx="988.05" cy="1230.36" r="4.7"/>
<circle cx="1007.08" cy="1230.39" r="4.7"/>
<circle cx="1026.11" cy="1230.42" r="4.7"/>
<circle cx="1045.14" cy="1230.45" r="4.7"/>
<circle cx="1064.17" cy="1230.48" r="4.7"/>
<circle cx="1083.2" cy="1230.52" r="4.7"/>
<circle cx="1102.23" cy="1230.55" r="4.7"/>
<circle cx="1121.26" cy="1230.58" r="4.7"/>
<circle cx="1140.29" cy="1230.61" r="4.7"/>
<circle cx="1159.32" cy="1230.64" r="4.7"/>
<circle cx="1178.35" cy="1230.67" r="4.7"/>
<circle cx="1197.38" cy="1230.71" r="4.7"/>
<circle cx="1216.41" cy="1230.74" r="4.7"/>
<circle cx="1235.44" cy="1230.77" r="4.7"/>
<circle cx="1254.47" cy="1230.8" r="4.7"/>
</g>
<g fill="#d60093">
<circle cx="131.7" cy="1068.5" r="4.7"/>
<circle cx="150.73" cy="1071.2" r="4.7"/>
<circle cx="169.76" cy="1073.2" r="4.7"/>
<circle cx="188.79" cy="1076.8" r="4.7"/>
<circle cx="207.82" cy="1080.3" r="4.7"/>
<circle cx="226.85" cy="1085" r="4.7"/>
<circle cx="245.88" cy="1090" r="4.7"/>
<circle cx="264.91" cy="1095.2" r="4.7"/>
<circle cx="283.94" cy="1100.7" r="4.7"/>
<circle cx="302.97" cy="1106.6" r="4.7"/>
<circle cx="322" cy="1111.8" r="4.7"/>
<circle cx="341.03" cy="1117.9" r="4.7"/>
<circle cx="360.06" cy="1124.2" r="4.7"/>
<circle cx="379.09" cy="1130.1" r="4.7"/>
<circle cx="398.12" cy="1135.9" r="4.7"/>
<circle cx="417.15" cy="1142.7" r="4.7"/>
<circle cx="436.18" cy="1148.7" r="4.7"/>
<circle cx="455.21" cy="1155.2" r="4.7"/>
<circle cx="474.24" cy="1160.7" r="4.7"/>
<circle cx="493.27" cy="1166.7" r="4.7"/>
<circle cx="512.3" cy="1173.2" r="4.7"/>
<circle cx="531.33" cy="1179" r="4.7"/>
<circle cx="550.36" cy="1185.2" r="4.7"/>
<circle cx="569.39" cy="1191.4" r="4.7"/>
<circle cx="588.42" cy="1197" r="4.7"/>
<circle cx="607.45" cy="1202.7" r="4.7"/>
<circle cx="626.48" cy="1206.8" r="4.7"/>
<circle cx="645.51" cy="1211.7" r="4.7"/>
<circle cx="664.54" cy="1215" r="4.7"/>
<circle cx="683.57" cy="1217.9" r="4.7"/>
<circle cx="702.6" cy="1220.8" r="4.7"/>
<circle cx="721.63" cy="1223" r="4.7"/>
<circle cx="740.66" cy="1224.4" r="4.7"/>
<circle cx="759.69" cy="1225.6" r="4.7"/>
<circle cx="778.72" cy="1226.8" r="4.7"/>
<circle cx="797.75" cy="1227.3" r="4.7"/>
<circle cx="816.78" cy="1227.8" r="4.7"/>
<circle cx="835.81" cy="1228.2" r="4.7"/>
<circle cx="854.84" cy="1228.6" r="4.7"/>
<circle cx="873.87" cy="1229" r="4.7"/>
<circle cx="892.9" cy="1229.4" r="4.7"/>
<circle cx="911.93" cy="1229.43" r="4.7"/>
<circle cx="930.96" cy="1229.46" r="4.7"/>
<circle cx="949.99" cy="1229.49" r="4.7"/>
<circle cx="969.02" cy="1229.53" r="4.7"/>
<circle cx="988.05" cy="1229.56" r="4.7"/>
<circle cx="1007.08" cy="1229.59" r="4.7"/>
<circle cx="1026.11" cy="1229.62" r="4.7"/>
<circle cx="1045.14" cy="1229.65" r="4.7"/>
<circle cx="1064.17" cy="1229.68" r="4.7"/>
<circle cx="1083.2" cy="1229.72" r="4.7"/>
<circle cx="1102.23" cy="1229.75" r="4.7"/>
<circle cx="1121.26" cy="1229.78" r="4.7"/>
<circle cx="1140.29" cy="1229.81" r="4.7"/>
<circle cx="1159.32" cy="1229.84" r="4.7"/>
<circle cx="1178.35" cy="1229.87" r="4.7"/>
<circle cx="1197.38" cy="1229.91" r="4.7"/>
<circle cx="1216.41" cy="1229.94" r="4.7"/>
<circle cx="1235.44" cy="1229.97" r="4.7"/>
<circle cx="1254.47" cy="1230" r="4.7"/>
</g>
<g fill="#993366">
<circle cx="131.7" cy="1067.7" r="4.7"/>
<circle cx="150.73" cy="1070.4" r="4.7"/>
<circle cx="169.76" cy="1072.4" r="4.7"/>
<circle cx="188.79" cy="1076" r="4.7"/>
<circle cx="207.82" cy="1079.5" r="4.7"/>
<circle cx="226.85" cy="1084.2" r="4.7"/>
<circle cx="245.88" cy="1089.2" r="4.7"/>
<circle cx="264.91" cy="1094.4" r="4.7"/>
<circle cx="283.94" cy="1099.9" r="4.7"/>
<circle cx="302.97" cy="1105.8" r="4.7"/>
<circle cx="322" cy="1111" r="4.7"/>
<circle cx="341.03" cy="1117.1" r="4.7"/>
<circle cx="360.06" cy="1123.4" r="4.7"/>
<circle cx="379.09" cy="1129.3" r="4.7"/>
<circle cx="398.12" cy="1135.1" r="4.7"/>
<circle cx="417.15" cy="1141.9" r="4.7"/>
<circle cx="436.18" cy="1147.7" r="4.7"/>
<circle cx="455.21" cy="1154.8" r="4.7"/>
<circle cx="474.24" cy="1160.3" r="4.7"/>
<circle cx="493.27" cy="1166.5" r="4.7"/>
<circle cx="512.3" cy="1172.8" r="4.7"/>
<circle cx="531.33" cy="1178.6" r="4.7"/>
<circle cx="550.36" cy="1184.8" r="4.7"/>
<circle cx="569.39" cy="1191.1" r="4.7"/>
<circle cx="588.42" cy="1196.8" r="4.7"/>
<circle cx="607.45" cy="1202.6" r="4.7"/>
<circle cx="626.48" cy="1206.8" r="4.7"/>
<circle cx="645.51" cy="1211.7" r="4.7"/>
<circle cx="664.54" cy="1215.1" r="4.7"/>
<circle cx="683.57" cy="1218" r="4.7"/>
<circle cx="702.6" cy="1221" r="4.7"/>
<circle cx="721.63" cy="1223.2" r="4.7"/>
<circle cx="740.66" cy="1224.6" r="4.7"/>
<circle cx="759.69" cy="1225.8" r="4.7"/>
<circle cx="778.72" cy="1227" r="4.7"/>
<circle cx="797.75" cy="1227.5" r="4.7"/>
<circle cx="816.78" cy="1228" r="4.7"/>
<circle cx="835.81" cy="1228.7" r="4.7"/>
<circle cx="854.84" cy="1228.7" r="4.7"/>
<circle cx="873.87" cy="1229.2" r="4.7"/>
<circle cx="892.9" cy="1229.7" r="4.7"/>
<circle cx="911.93" cy="1229.85" r="4.7"/>
<circle cx="930.96" cy="1230" r="4.7"/>
<circle cx="949.99" cy="1230" r="4.7"/>
<circle cx="969.02" cy="1230" r="4.7"/>
<circle cx="988.05" cy="1230" r="4.7"/>
<circle cx="1007.08" cy="1230" r="4.7"/>
<circle cx="1026.11" cy="1230" r="4.7"/>
<circle cx="1045.14" cy="1230" r="4.7"/>
<circle cx="1064.17" cy="1230" r="4.7"/>
<circle cx="1083.2" cy="1230" r="4.7"/>
<circle cx="1102.23" cy="1230" r="4.7"/>
<circle cx="1121.26" cy="1230" r="4.7"/>
<circle cx="1140.29" cy="1230" r="4.7"/>
<circle cx="1159.32" cy="1230" r="4.7"/>
<circle cx="1178.35" cy="1230" r="4.7"/>
<circle cx="1197.38" cy="1230" r="4.7"/>
<circle cx="1216.41" cy="1230" r="4.7"/>
<circle cx="1235.44" cy="1230" r="4.7"/>
<circle cx="1254.47" cy="1230" r="4.7"/>
</g>
<text x="68.5" y="981.7" font-size="30" text-anchor="start">10</text>
<text x="101" y="973" font-size="20" text-anchor="start">5</text>
<text x="68.5" y="1073.6" font-size="30" text-anchor="start">10</text>
<text x="101" y="1064.9" font-size="20" text-anchor="start">4</text>
<text x="68.5" y="1162.1" font-size="30" text-anchor="start">10</text>
<text x="101" y="1153.4" font-size="20" text-anchor="start">3</text>
<text x="68.5" y="1243.8" font-size="30" text-anchor="start">10</text>
<text x="101" y="1235.1" font-size="20" text-anchor="start">2</text>
<text x="68.5" y="1338.9" font-size="30" text-anchor="start">10</text>
<text x="128.2" y="1358" font-size="30" text-anchor="middle">0.1</text>
<text x="324" y="1358" font-size="30" text-anchor="middle">1</text>
<text x="510" y="1358" font-size="30" text-anchor="middle">10</text>
<text x="681.5" y="1358" font-size="30" text-anchor="start">10</text>
<text x="716.5" y="1349.3" font-size="20" text-anchor="start">2</text>
<text x="876" y="1358" font-size="30" text-anchor="start">10</text>
<text x="909.5" y="1349.3" font-size="20" text-anchor="start">3</text>
<text x="1067" y="1358" font-size="30" text-anchor="start">10</text>
<text x="1100.5" y="1349.3" font-size="20" text-anchor="start">4</text>
<text x="1248" y="1358" font-size="30" text-anchor="start">10</text>
<text x="1281.5" y="1349.3" font-size="20" text-anchor="start">5</text>
<text x="603" y="1397.1" font-size="30" text-anchor="start">frequency <tspan font-style="italic">f</tspan>, Hz</text>
<text transform="translate(36.9,1259.5) rotate(-90)" font-size="30">|Z|, kΩ · cm<tspan font-size="20" dy="-10">2</tspan></text>
<circle cx="27.5" cy="964" r="25.9" fill="none" stroke="#000" stroke-width="1.1"/>
<text x="26.5" y="974.9" font-size="30" text-anchor="middle">b</text>
<rect x="610.8" y="940.2" width="726.2" height="97.5" fill="#fff" stroke="#000" stroke-width="2.0"/>
<circle cx="636.7" cy="964.5" r="4.7" fill="#666633"/>
<text x="650.8" y="974" font-size="30" text-anchor="start">0 min</text>
<circle cx="781.7" cy="964.5" r="4.7" fill="#99cc00"/>
<text x="795.8" y="974" font-size="30" text-anchor="start">4 min</text>
<circle cx="927" cy="964.5" r="4.7" fill="#ccff33"/>
<text x="941.1" y="974" font-size="30" text-anchor="start">15 min</text>
<circle cx="1072.2" cy="964.5" r="4.7" fill="#00b0f0"/>
<text x="1086.3" y="974" font-size="30" text-anchor="start">1 h</text>
<circle cx="1217.2" cy="964.5" r="4.7" fill="#0070c0"/>
<text x="1231.3" y="974" font-size="30" text-anchor="start">2 h</text>
<circle cx="636.7" cy="1013.5" r="4.7" fill="#ff9966"/>
<text x="650.8" y="1023" font-size="30" text-anchor="start">3 h</text>
<circle cx="781.7" cy="1013.5" r="4.7" fill="#ff7c80"/>
<text x="795.8" y="1023" font-size="30" text-anchor="start">5 h</text>
<circle cx="927" cy="1013.5" r="4.7" fill="#ff0066"/>
<text x="941.1" y="1023" font-size="30" text-anchor="start">10 h</text>
<circle cx="1072.2" cy="1013.5" r="4.7" fill="#d60093"/>
<text x="1086.3" y="1023" font-size="30" text-anchor="start">15 h</text>
<circle cx="1217.2" cy="1013.5" r="4.7" fill="#993366"/>
<text x="1231.3" y="1023" font-size="30" text-anchor="start">24 h</text>
<line x1="132.8" y1="1528.89" x2="1273.6" y2="1528.89" stroke="#d5d5d5" stroke-width="1.8"/>
<line x1="132.8" y1="1605.67" x2="1273.6" y2="1605.67" stroke="#d5d5d5" stroke-width="1.8"/>
<line x1="132.8" y1="1682.45" x2="1273.6" y2="1682.45" stroke="#d5d5d5" stroke-width="1.8"/>
<line x1="132.8" y1="1759.23" x2="1273.6" y2="1759.23" stroke="#d5d5d5" stroke-width="1.8"/>
<line x1="131.8" y1="1453.61" x2="131.8" y2="1796.12" stroke="#fff" stroke-width="4.6"/>
<line x1="322.1" y1="1453.61" x2="322.1" y2="1796.12" stroke="#fff" stroke-width="4.6"/>
<line x1="512.4" y1="1453.61" x2="512.4" y2="1796.12" stroke="#fff" stroke-width="4.6"/>
<line x1="702.7" y1="1453.61" x2="702.7" y2="1796.12" stroke="#fff" stroke-width="4.6"/>
<line x1="893" y1="1453.61" x2="893" y2="1796.12" stroke="#fff" stroke-width="4.6"/>
<line x1="1083.3" y1="1453.61" x2="1083.3" y2="1796.12" stroke="#fff" stroke-width="4.6"/>
<line x1="1273.6" y1="1453.61" x2="1273.6" y2="1796.12" stroke="#fff" stroke-width="4.6"/>
<line x1="131.8" y1="1452.11" x2="131.8" y2="1806.62" stroke="#000" stroke-width="2.0"/>
<line x1="322.1" y1="1452.11" x2="322.1" y2="1806.62" stroke="#000" stroke-width="2.0"/>
<line x1="512.4" y1="1452.11" x2="512.4" y2="1806.62" stroke="#000" stroke-width="2.0"/>
<line x1="702.7" y1="1452.11" x2="702.7" y2="1806.62" stroke="#000" stroke-width="2.0"/>
<line x1="893" y1="1452.11" x2="893" y2="1806.62" stroke="#000" stroke-width="2.0"/>
<line x1="1083.3" y1="1452.11" x2="1083.3" y2="1806.62" stroke="#000" stroke-width="2.0"/>
<line x1="1273.6" y1="1452.11" x2="1273.6" y2="1806.62" stroke="#000" stroke-width="2.0"/>
<line x1="131.8" y1="1452.11" x2="1273.6" y2="1452.11" stroke="#000" stroke-width="2.0"/>
<line x1="122.9" y1="1490.5" x2="1273.6" y2="1490.5" stroke="#000" stroke-width="2.0"/>
<line x1="122.9" y1="1567.28" x2="1273.6" y2="1567.28" stroke="#000" stroke-width="2.0"/>
<line x1="122.9" y1="1644.06" x2="1273.6" y2="1644.06" stroke="#000" stroke-width="2.0"/>
<line x1="122.9" y1="1720.84" x2="1273.6" y2="1720.84" stroke="#000" stroke-width="2.0"/>
<line x1="122.9" y1="1797.62" x2="1273.6" y2="1797.62" stroke="#000" stroke-width="2.0"/>
<rect x="187.49" y="1489.1" width="3.2" height="2.8" fill="#fff"/>
<rect x="187.49" y="1565.88" width="3.2" height="2.8" fill="#fff"/>
<rect x="187.49" y="1642.66" width="3.2" height="2.8" fill="#fff"/>
<rect x="187.49" y="1719.44" width="3.2" height="2.8" fill="#fff"/>
<line x1="189.09" y1="1453.51" x2="189.09" y2="1796.62" stroke="#d5d5d5" stroke-width="1.8"/>
<rect x="221" y="1489.1" width="3.2" height="2.8" fill="#fff"/>
<rect x="221" y="1565.88" width="3.2" height="2.8" fill="#fff"/>
<rect x="221" y="1642.66" width="3.2" height="2.8" fill="#fff"/>
<rect x="221" y="1719.44" width="3.2" height="2.8" fill="#fff"/>
<line x1="222.6" y1="1453.51" x2="222.6" y2="1796.62" stroke="#d5d5d5" stroke-width="1.8"/>
<rect x="244.77" y="1489.1" width="3.2" height="2.8" fill="#fff"/>
<rect x="244.77" y="1565.88" width="3.2" height="2.8" fill="#fff"/>
<rect x="244.77" y="1642.66" width="3.2" height="2.8" fill="#fff"/>
<rect x="244.77" y="1719.44" width="3.2" height="2.8" fill="#fff"/>
<line x1="246.37" y1="1453.51" x2="246.37" y2="1796.62" stroke="#d5d5d5" stroke-width="1.8"/>
<rect x="263.21" y="1489.1" width="3.2" height="2.8" fill="#fff"/>
<rect x="263.21" y="1565.88" width="3.2" height="2.8" fill="#fff"/>
<rect x="263.21" y="1642.66" width="3.2" height="2.8" fill="#fff"/>
<rect x="263.21" y="1719.44" width="3.2" height="2.8" fill="#fff"/>
<line x1="264.81" y1="1453.51" x2="264.81" y2="1796.62" stroke="#d5d5d5" stroke-width="1.8"/>
<rect x="278.28" y="1489.1" width="3.2" height="2.8" fill="#fff"/>
<rect x="278.28" y="1565.88" width="3.2" height="2.8" fill="#fff"/>
<rect x="278.28" y="1642.66" width="3.2" height="2.8" fill="#fff"/>
<rect x="278.28" y="1719.44" width="3.2" height="2.8" fill="#fff"/>
<line x1="279.88" y1="1453.51" x2="279.88" y2="1796.62" stroke="#d5d5d5" stroke-width="1.8"/>
<rect x="291.02" y="1489.1" width="3.2" height="2.8" fill="#fff"/>
<rect x="291.02" y="1565.88" width="3.2" height="2.8" fill="#fff"/>
<rect x="291.02" y="1642.66" width="3.2" height="2.8" fill="#fff"/>
<rect x="291.02" y="1719.44" width="3.2" height="2.8" fill="#fff"/>
<line x1="292.62" y1="1453.51" x2="292.62" y2="1796.62" stroke="#d5d5d5" stroke-width="1.8"/>
<rect x="302.06" y="1489.1" width="3.2" height="2.8" fill="#fff"/>
<rect x="302.06" y="1565.88" width="3.2" height="2.8" fill="#fff"/>
<rect x="302.06" y="1642.66" width="3.2" height="2.8" fill="#fff"/>
<rect x="302.06" y="1719.44" width="3.2" height="2.8" fill="#fff"/>
<line x1="303.66" y1="1453.51" x2="303.66" y2="1796.62" stroke="#d5d5d5" stroke-width="1.8"/>
<rect x="311.79" y="1489.1" width="3.2" height="2.8" fill="#fff"/>
<rect x="311.79" y="1565.88" width="3.2" height="2.8" fill="#fff"/>
<rect x="311.79" y="1642.66" width="3.2" height="2.8" fill="#fff"/>
<rect x="311.79" y="1719.44" width="3.2" height="2.8" fill="#fff"/>
<line x1="313.39" y1="1453.51" x2="313.39" y2="1796.62" stroke="#d5d5d5" stroke-width="1.8"/>
<rect x="377.79" y="1489.1" width="3.2" height="2.8" fill="#fff"/>
<rect x="377.79" y="1565.88" width="3.2" height="2.8" fill="#fff"/>
<rect x="377.79" y="1642.66" width="3.2" height="2.8" fill="#fff"/>
<rect x="377.79" y="1719.44" width="3.2" height="2.8" fill="#fff"/>
<line x1="379.39" y1="1453.51" x2="379.39" y2="1796.62" stroke="#d5d5d5" stroke-width="1.8"/>
<rect x="411.3" y="1489.1" width="3.2" height="2.8" fill="#fff"/>
<rect x="411.3" y="1565.88" width="3.2" height="2.8" fill="#fff"/>
<rect x="411.3" y="1642.66" width="3.2" height="2.8" fill="#fff"/>
<rect x="411.3" y="1719.44" width="3.2" height="2.8" fill="#fff"/>
<line x1="412.9" y1="1453.51" x2="412.9" y2="1796.62" stroke="#d5d5d5" stroke-width="1.8"/>
<rect x="435.07" y="1489.1" width="3.2" height="2.8" fill="#fff"/>
<rect x="435.07" y="1565.88" width="3.2" height="2.8" fill="#fff"/>
<rect x="435.07" y="1642.66" width="3.2" height="2.8" fill="#fff"/>
<rect x="435.07" y="1719.44" width="3.2" height="2.8" fill="#fff"/>
<line x1="436.67" y1="1453.51" x2="436.67" y2="1796.62" stroke="#d5d5d5" stroke-width="1.8"/>
<rect x="453.51" y="1489.1" width="3.2" height="2.8" fill="#fff"/>
<rect x="453.51" y="1565.88" width="3.2" height="2.8" fill="#fff"/>
<rect x="453.51" y="1642.66" width="3.2" height="2.8" fill="#fff"/>
<rect x="453.51" y="1719.44" width="3.2" height="2.8" fill="#fff"/>
<line x1="455.11" y1="1453.51" x2="455.11" y2="1796.62" stroke="#d5d5d5" stroke-width="1.8"/>
<rect x="468.58" y="1489.1" width="3.2" height="2.8" fill="#fff"/>
<rect x="468.58" y="1565.88" width="3.2" height="2.8" fill="#fff"/>
<rect x="468.58" y="1642.66" width="3.2" height="2.8" fill="#fff"/>
<rect x="468.58" y="1719.44" width="3.2" height="2.8" fill="#fff"/>
<line x1="470.18" y1="1453.51" x2="470.18" y2="1796.62" stroke="#d5d5d5" stroke-width="1.8"/>
<rect x="481.32" y="1489.1" width="3.2" height="2.8" fill="#fff"/>
<rect x="481.32" y="1565.88" width="3.2" height="2.8" fill="#fff"/>
<rect x="481.32" y="1642.66" width="3.2" height="2.8" fill="#fff"/>
<rect x="481.32" y="1719.44" width="3.2" height="2.8" fill="#fff"/>
<line x1="482.92" y1="1453.51" x2="482.92" y2="1796.62" stroke="#d5d5d5" stroke-width="1.8"/>
<rect x="492.36" y="1489.1" width="3.2" height="2.8" fill="#fff"/>
<rect x="492.36" y="1565.88" width="3.2" height="2.8" fill="#fff"/>
<rect x="492.36" y="1642.66" width="3.2" height="2.8" fill="#fff"/>
<rect x="492.36" y="1719.44" width="3.2" height="2.8" fill="#fff"/>
<line x1="493.96" y1="1453.51" x2="493.96" y2="1796.62" stroke="#d5d5d5" stroke-width="1.8"/>
<rect x="502.09" y="1489.1" width="3.2" height="2.8" fill="#fff"/>
<rect x="502.09" y="1565.88" width="3.2" height="2.8" fill="#fff"/>
<rect x="502.09" y="1642.66" width="3.2" height="2.8" fill="#fff"/>
<rect x="502.09" y="1719.44" width="3.2" height="2.8" fill="#fff"/>
<line x1="503.69" y1="1453.51" x2="503.69" y2="1796.62" stroke="#d5d5d5" stroke-width="1.8"/>
<rect x="568.09" y="1489.1" width="3.2" height="2.8" fill="#fff"/>
<rect x="568.09" y="1565.88" width="3.2" height="2.8" fill="#fff"/>
<rect x="568.09" y="1642.66" width="3.2" height="2.8" fill="#fff"/>
<rect x="568.09" y="1719.44" width="3.2" height="2.8" fill="#fff"/>
<line x1="569.69" y1="1453.51" x2="569.69" y2="1796.62" stroke="#d5d5d5" stroke-width="1.8"/>
<rect x="601.6" y="1489.1" width="3.2" height="2.8" fill="#fff"/>
<rect x="601.6" y="1565.88" width="3.2" height="2.8" fill="#fff"/>
<rect x="601.6" y="1642.66" width="3.2" height="2.8" fill="#fff"/>
<rect x="601.6" y="1719.44" width="3.2" height="2.8" fill="#fff"/>
<line x1="603.2" y1="1453.51" x2="603.2" y2="1796.62" stroke="#d5d5d5" stroke-width="1.8"/>
<rect x="625.37" y="1489.1" width="3.2" height="2.8" fill="#fff"/>
<rect x="625.37" y="1565.88" width="3.2" height="2.8" fill="#fff"/>
<rect x="625.37" y="1642.66" width="3.2" height="2.8" fill="#fff"/>
<rect x="625.37" y="1719.44" width="3.2" height="2.8" fill="#fff"/>
<line x1="626.97" y1="1453.51" x2="626.97" y2="1796.62" stroke="#d5d5d5" stroke-width="1.8"/>
<rect x="643.81" y="1489.1" width="3.2" height="2.8" fill="#fff"/>
<rect x="643.81" y="1565.88" width="3.2" height="2.8" fill="#fff"/>
<rect x="643.81" y="1642.66" width="3.2" height="2.8" fill="#fff"/>
<rect x="643.81" y="1719.44" width="3.2" height="2.8" fill="#fff"/>
<line x1="645.41" y1="1453.51" x2="645.41" y2="1796.62" stroke="#d5d5d5" stroke-width="1.8"/>
<rect x="658.88" y="1489.1" width="3.2" height="2.8" fill="#fff"/>
<rect x="658.88" y="1565.88" width="3.2" height="2.8" fill="#fff"/>
<rect x="658.88" y="1642.66" width="3.2" height="2.8" fill="#fff"/>
<rect x="658.88" y="1719.44" width="3.2" height="2.8" fill="#fff"/>
<line x1="660.48" y1="1453.51" x2="660.48" y2="1796.62" stroke="#d5d5d5" stroke-width="1.8"/>
<rect x="671.62" y="1489.1" width="3.2" height="2.8" fill="#fff"/>
<rect x="671.62" y="1565.88" width="3.2" height="2.8" fill="#fff"/>
<rect x="671.62" y="1642.66" width="3.2" height="2.8" fill="#fff"/>
<rect x="671.62" y="1719.44" width="3.2" height="2.8" fill="#fff"/>
<line x1="673.22" y1="1453.51" x2="673.22" y2="1796.62" stroke="#d5d5d5" stroke-width="1.8"/>
<rect x="682.66" y="1489.1" width="3.2" height="2.8" fill="#fff"/>
<rect x="682.66" y="1565.88" width="3.2" height="2.8" fill="#fff"/>
<rect x="682.66" y="1642.66" width="3.2" height="2.8" fill="#fff"/>
<rect x="682.66" y="1719.44" width="3.2" height="2.8" fill="#fff"/>
<line x1="684.26" y1="1453.51" x2="684.26" y2="1796.62" stroke="#d5d5d5" stroke-width="1.8"/>
<rect x="692.39" y="1489.1" width="3.2" height="2.8" fill="#fff"/>
<rect x="692.39" y="1565.88" width="3.2" height="2.8" fill="#fff"/>
<rect x="692.39" y="1642.66" width="3.2" height="2.8" fill="#fff"/>
<rect x="692.39" y="1719.44" width="3.2" height="2.8" fill="#fff"/>
<line x1="693.99" y1="1453.51" x2="693.99" y2="1796.62" stroke="#d5d5d5" stroke-width="1.8"/>
<rect x="758.39" y="1489.1" width="3.2" height="2.8" fill="#fff"/>
<rect x="758.39" y="1565.88" width="3.2" height="2.8" fill="#fff"/>
<rect x="758.39" y="1642.66" width="3.2" height="2.8" fill="#fff"/>
<rect x="758.39" y="1719.44" width="3.2" height="2.8" fill="#fff"/>
<line x1="759.99" y1="1453.51" x2="759.99" y2="1796.62" stroke="#d5d5d5" stroke-width="1.8"/>
<rect x="791.9" y="1489.1" width="3.2" height="2.8" fill="#fff"/>
<rect x="791.9" y="1565.88" width="3.2" height="2.8" fill="#fff"/>
<rect x="791.9" y="1642.66" width="3.2" height="2.8" fill="#fff"/>
<rect x="791.9" y="1719.44" width="3.2" height="2.8" fill="#fff"/>
<line x1="793.5" y1="1453.51" x2="793.5" y2="1796.62" stroke="#d5d5d5" stroke-width="1.8"/>
<rect x="815.67" y="1489.1" width="3.2" height="2.8" fill="#fff"/>
<rect x="815.67" y="1565.88" width="3.2" height="2.8" fill="#fff"/>
<rect x="815.67" y="1642.66" width="3.2" height="2.8" fill="#fff"/>
<rect x="815.67" y="1719.44" width="3.2" height="2.8" fill="#fff"/>
<line x1="817.27" y1="1453.51" x2="817.27" y2="1796.62" stroke="#d5d5d5" stroke-width="1.8"/>
<rect x="834.11" y="1489.1" width="3.2" height="2.8" fill="#fff"/>
<rect x="834.11" y="1565.88" width="3.2" height="2.8" fill="#fff"/>
<rect x="834.11" y="1642.66" width="3.2" height="2.8" fill="#fff"/>
<rect x="834.11" y="1719.44" width="3.2" height="2.8" fill="#fff"/>
<line x1="835.71" y1="1453.51" x2="835.71" y2="1796.62" stroke="#d5d5d5" stroke-width="1.8"/>
<rect x="849.18" y="1489.1" width="3.2" height="2.8" fill="#fff"/>
<rect x="849.18" y="1565.88" width="3.2" height="2.8" fill="#fff"/>
<rect x="849.18" y="1642.66" width="3.2" height="2.8" fill="#fff"/>
<rect x="849.18" y="1719.44" width="3.2" height="2.8" fill="#fff"/>
<line x1="850.78" y1="1453.51" x2="850.78" y2="1796.62" stroke="#d5d5d5" stroke-width="1.8"/>
<rect x="861.92" y="1489.1" width="3.2" height="2.8" fill="#fff"/>
<rect x="861.92" y="1565.88" width="3.2" height="2.8" fill="#fff"/>
<rect x="861.92" y="1642.66" width="3.2" height="2.8" fill="#fff"/>
<rect x="861.92" y="1719.44" width="3.2" height="2.8" fill="#fff"/>
<line x1="863.52" y1="1453.51" x2="863.52" y2="1796.62" stroke="#d5d5d5" stroke-width="1.8"/>
<rect x="872.96" y="1489.1" width="3.2" height="2.8" fill="#fff"/>
<rect x="872.96" y="1565.88" width="3.2" height="2.8" fill="#fff"/>
<rect x="872.96" y="1642.66" width="3.2" height="2.8" fill="#fff"/>
<rect x="872.96" y="1719.44" width="3.2" height="2.8" fill="#fff"/>
<line x1="874.56" y1="1453.51" x2="874.56" y2="1796.62" stroke="#d5d5d5" stroke-width="1.8"/>
<rect x="882.69" y="1489.1" width="3.2" height="2.8" fill="#fff"/>
<rect x="882.69" y="1565.88" width="3.2" height="2.8" fill="#fff"/>
<rect x="882.69" y="1642.66" width="3.2" height="2.8" fill="#fff"/>
<rect x="882.69" y="1719.44" width="3.2" height="2.8" fill="#fff"/>
<line x1="884.29" y1="1453.51" x2="884.29" y2="1796.62" stroke="#d5d5d5" stroke-width="1.8"/>
<rect x="948.69" y="1489.1" width="3.2" height="2.8" fill="#fff"/>
<rect x="948.69" y="1565.88" width="3.2" height="2.8" fill="#fff"/>
<rect x="948.69" y="1642.66" width="3.2" height="2.8" fill="#fff"/>
<rect x="948.69" y="1719.44" width="3.2" height="2.8" fill="#fff"/>
<line x1="950.29" y1="1453.51" x2="950.29" y2="1796.62" stroke="#d5d5d5" stroke-width="1.8"/>
<rect x="982.2" y="1489.1" width="3.2" height="2.8" fill="#fff"/>
<rect x="982.2" y="1565.88" width="3.2" height="2.8" fill="#fff"/>
<rect x="982.2" y="1642.66" width="3.2" height="2.8" fill="#fff"/>
<rect x="982.2" y="1719.44" width="3.2" height="2.8" fill="#fff"/>
<line x1="983.8" y1="1453.51" x2="983.8" y2="1796.62" stroke="#d5d5d5" stroke-width="1.8"/>
<rect x="1005.97" y="1489.1" width="3.2" height="2.8" fill="#fff"/>
<rect x="1005.97" y="1565.88" width="3.2" height="2.8" fill="#fff"/>
<rect x="1005.97" y="1642.66" width="3.2" height="2.8" fill="#fff"/>
<rect x="1005.97" y="1719.44" width="3.2" height="2.8" fill="#fff"/>
<line x1="1007.57" y1="1453.51" x2="1007.57" y2="1796.62" stroke="#d5d5d5" stroke-width="1.8"/>
<rect x="1024.41" y="1489.1" width="3.2" height="2.8" fill="#fff"/>
<rect x="1024.41" y="1565.88" width="3.2" height="2.8" fill="#fff"/>
<rect x="1024.41" y="1642.66" width="3.2" height="2.8" fill="#fff"/>
<rect x="1024.41" y="1719.44" width="3.2" height="2.8" fill="#fff"/>
<line x1="1026.01" y1="1453.51" x2="1026.01" y2="1796.62" stroke="#d5d5d5" stroke-width="1.8"/>
<rect x="1039.48" y="1489.1" width="3.2" height="2.8" fill="#fff"/>
<rect x="1039.48" y="1565.88" width="3.2" height="2.8" fill="#fff"/>
<rect x="1039.48" y="1642.66" width="3.2" height="2.8" fill="#fff"/>
<rect x="1039.48" y="1719.44" width="3.2" height="2.8" fill="#fff"/>
<line x1="1041.08" y1="1453.51" x2="1041.08" y2="1796.62" stroke="#d5d5d5" stroke-width="1.8"/>
<rect x="1052.22" y="1489.1" width="3.2" height="2.8" fill="#fff"/>
<rect x="1052.22" y="1565.88" width="3.2" height="2.8" fill="#fff"/>
<rect x="1052.22" y="1642.66" width="3.2" height="2.8" fill="#fff"/>
<rect x="1052.22" y="1719.44" width="3.2" height="2.8" fill="#fff"/>
<line x1="1053.82" y1="1453.51" x2="1053.82" y2="1796.62" stroke="#d5d5d5" stroke-width="1.8"/>
<rect x="1063.26" y="1489.1" width="3.2" height="2.8" fill="#fff"/>
<rect x="1063.26" y="1565.88" width="3.2" height="2.8" fill="#fff"/>
<rect x="1063.26" y="1642.66" width="3.2" height="2.8" fill="#fff"/>
<rect x="1063.26" y="1719.44" width="3.2" height="2.8" fill="#fff"/>
<line x1="1064.86" y1="1453.51" x2="1064.86" y2="1796.62" stroke="#d5d5d5" stroke-width="1.8"/>
<rect x="1072.99" y="1489.1" width="3.2" height="2.8" fill="#fff"/>
<rect x="1072.99" y="1565.88" width="3.2" height="2.8" fill="#fff"/>
<rect x="1072.99" y="1642.66" width="3.2" height="2.8" fill="#fff"/>
<rect x="1072.99" y="1719.44" width="3.2" height="2.8" fill="#fff"/>
<line x1="1074.59" y1="1453.51" x2="1074.59" y2="1796.62" stroke="#d5d5d5" stroke-width="1.8"/>
<rect x="1138.99" y="1489.1" width="3.2" height="2.8" fill="#fff"/>
<rect x="1138.99" y="1565.88" width="3.2" height="2.8" fill="#fff"/>
<rect x="1138.99" y="1642.66" width="3.2" height="2.8" fill="#fff"/>
<rect x="1138.99" y="1719.44" width="3.2" height="2.8" fill="#fff"/>
<line x1="1140.59" y1="1453.51" x2="1140.59" y2="1796.62" stroke="#d5d5d5" stroke-width="1.8"/>
<rect x="1172.5" y="1489.1" width="3.2" height="2.8" fill="#fff"/>
<rect x="1172.5" y="1565.88" width="3.2" height="2.8" fill="#fff"/>
<rect x="1172.5" y="1642.66" width="3.2" height="2.8" fill="#fff"/>
<rect x="1172.5" y="1719.44" width="3.2" height="2.8" fill="#fff"/>
<line x1="1174.1" y1="1453.51" x2="1174.1" y2="1796.62" stroke="#d5d5d5" stroke-width="1.8"/>
<rect x="1196.27" y="1489.1" width="3.2" height="2.8" fill="#fff"/>
<rect x="1196.27" y="1565.88" width="3.2" height="2.8" fill="#fff"/>
<rect x="1196.27" y="1642.66" width="3.2" height="2.8" fill="#fff"/>
<rect x="1196.27" y="1719.44" width="3.2" height="2.8" fill="#fff"/>
<line x1="1197.87" y1="1453.51" x2="1197.87" y2="1796.62" stroke="#d5d5d5" stroke-width="1.8"/>
<rect x="1214.71" y="1489.1" width="3.2" height="2.8" fill="#fff"/>
<rect x="1214.71" y="1565.88" width="3.2" height="2.8" fill="#fff"/>
<rect x="1214.71" y="1642.66" width="3.2" height="2.8" fill="#fff"/>
<rect x="1214.71" y="1719.44" width="3.2" height="2.8" fill="#fff"/>
<line x1="1216.31" y1="1453.51" x2="1216.31" y2="1796.62" stroke="#d5d5d5" stroke-width="1.8"/>
<rect x="1229.78" y="1489.1" width="3.2" height="2.8" fill="#fff"/>
<rect x="1229.78" y="1565.88" width="3.2" height="2.8" fill="#fff"/>
<rect x="1229.78" y="1642.66" width="3.2" height="2.8" fill="#fff"/>
<rect x="1229.78" y="1719.44" width="3.2" height="2.8" fill="#fff"/>
<line x1="1231.38" y1="1453.51" x2="1231.38" y2="1796.62" stroke="#d5d5d5" stroke-width="1.8"/>
<rect x="1242.52" y="1489.1" width="3.2" height="2.8" fill="#fff"/>
<rect x="1242.52" y="1565.88" width="3.2" height="2.8" fill="#fff"/>
<rect x="1242.52" y="1642.66" width="3.2" height="2.8" fill="#fff"/>
<rect x="1242.52" y="1719.44" width="3.2" height="2.8" fill="#fff"/>
<line x1="1244.12" y1="1453.51" x2="1244.12" y2="1796.62" stroke="#d5d5d5" stroke-width="1.8"/>
<rect x="1253.56" y="1489.1" width="3.2" height="2.8" fill="#fff"/>
<rect x="1253.56" y="1565.88" width="3.2" height="2.8" fill="#fff"/>
<rect x="1253.56" y="1642.66" width="3.2" height="2.8" fill="#fff"/>
<rect x="1253.56" y="1719.44" width="3.2" height="2.8" fill="#fff"/>
<line x1="1255.16" y1="1453.51" x2="1255.16" y2="1796.62" stroke="#d5d5d5" stroke-width="1.8"/>
<rect x="1263.29" y="1489.1" width="3.2" height="2.8" fill="#fff"/>
<rect x="1263.29" y="1565.88" width="3.2" height="2.8" fill="#fff"/>
<rect x="1263.29" y="1642.66" width="3.2" height="2.8" fill="#fff"/>
<rect x="1263.29" y="1719.44" width="3.2" height="2.8" fill="#fff"/>
<line x1="1264.89" y1="1453.51" x2="1264.89" y2="1796.62" stroke="#d5d5d5" stroke-width="1.8"/>
<g fill="#666633">
<circle cx="131.8" cy="1738.6" r="4.7"/>
<circle cx="150.83" cy="1748.8" r="4.7"/>
<circle cx="169.86" cy="1753.8" r="4.7"/>
<circle cx="188.89" cy="1762.4" r="4.7"/>
<circle cx="207.92" cy="1766.7" r="4.7"/>
<circle cx="226.95" cy="1770.3" r="4.7"/>
<circle cx="245.98" cy="1771.5" r="4.7"/>
<circle cx="265.01" cy="1775" r="4.7"/>
<circle cx="284.04" cy="1777.3" r="4.7"/>
<circle cx="303.07" cy="1778.9" r="4.7"/>
<circle cx="322.1" cy="1780.6" r="4.7"/>
<circle cx="341.13" cy="1781.6" r="4.7"/>
<circle cx="360.16" cy="1782.4" r="4.7"/>
<circle cx="379.19" cy="1782.5" r="4.7"/>
<circle cx="398.22" cy="1782" r="4.7"/>
<circle cx="417.25" cy="1780.8" r="4.7"/>
<circle cx="436.28" cy="1778.9" r="4.7"/>
<circle cx="455.31" cy="1776.2" r="4.7"/>
<circle cx="474.34" cy="1773" r="4.7"/>
<circle cx="493.37" cy="1768.4" r="4.7"/>
<circle cx="512.4" cy="1762.5" r="4.7"/>
<circle cx="531.43" cy="1755.8" r="4.7"/>
<circle cx="550.46" cy="1747.5" r="4.7"/>
<circle cx="569.49" cy="1736.2" r="4.7"/>
<circle cx="588.52" cy="1724.9" r="4.7"/>
<circle cx="607.55" cy="1711.4" r="4.7"/>
<circle cx="626.58" cy="1697.7" r="4.7"/>
<circle cx="645.61" cy="1678.4" r="4.7"/>
<circle cx="664.64" cy="1660.5" r="4.7"/>
<circle cx="683.67" cy="1643.1" r="4.7"/>
<circle cx="702.7" cy="1624.3" r="4.7"/>
<circle cx="721.73" cy="1608.1" r="4.7"/>
<circle cx="740.76" cy="1592.1" r="4.7"/>
<circle cx="759.79" cy="1578.3" r="4.7"/>
<circle cx="778.82" cy="1565" r="4.7"/>
<circle cx="797.85" cy="1555.2" r="4.7"/>
<circle cx="816.88" cy="1545.8" r="4.7"/>
<circle cx="835.91" cy="1538.3" r="4.7"/>
<circle cx="854.94" cy="1532.3" r="4.7"/>
<circle cx="873.97" cy="1526.8" r="4.7"/>
<circle cx="893" cy="1522.9" r="4.7"/>
<circle cx="912.03" cy="1518.7" r="4.7"/>
<circle cx="931.06" cy="1515.4" r="4.7"/>
<circle cx="950.09" cy="1512.7" r="4.7"/>
<circle cx="969.12" cy="1509.3" r="4.7"/>
<circle cx="988.15" cy="1503.7" r="4.7"/>
<circle cx="1007.18" cy="1502.6" r="4.7"/>
<circle cx="1026.21" cy="1500.4" r="4.7"/>
<circle cx="1045.24" cy="1499.2" r="4.7"/>
<circle cx="1064.27" cy="1497.5" r="4.7"/>
<circle cx="1083.3" cy="1496.3" r="4.7"/>
<circle cx="1102.33" cy="1496.3" r="4.7"/>
<circle cx="1121.36" cy="1496" r="4.7"/>
<circle cx="1140.39" cy="1495.8" r="4.7"/>
<circle cx="1159.42" cy="1495.8" r="4.7"/>
<circle cx="1178.45" cy="1495.8" r="4.7"/>
<circle cx="1197.48" cy="1496" r="4.7"/>
<circle cx="1216.51" cy="1497" r="4.7"/>
<circle cx="1235.54" cy="1497.7" r="4.7"/>
<circle cx="1254.57" cy="1499.1" r="4.7"/>
</g>
<g fill="#99cc00">
<circle cx="131.8" cy="1697.8" r="4.7"/>
<circle cx="150.83" cy="1709.1" r="4.7"/>
<circle cx="169.86" cy="1720.8" r="4.7"/>
<circle cx="188.89" cy="1730.6" r="4.7"/>
<circle cx="207.92" cy="1738.1" r="4.7"/>
<circle cx="226.95" cy="1746.3" r="4.7"/>
<circle cx="245.98" cy="1752.7" r="4.7"/>
<circle cx="265.01" cy="1758.8" r="4.7"/>
<circle cx="284.04" cy="1763.2" r="4.7"/>
<circle cx="303.07" cy="1766.4" r="4.7"/>
<circle cx="322.1" cy="1769.3" r="4.7"/>
<circle cx="341.13" cy="1771.1" r="4.7"/>
<circle cx="360.16" cy="1772.3" r="4.7"/>
<circle cx="379.19" cy="1772.6" r="4.7"/>
<circle cx="398.22" cy="1771.8" r="4.7"/>
<circle cx="417.25" cy="1770.3" r="4.7"/>
<circle cx="436.28" cy="1767.9" r="4.7"/>
<circle cx="455.31" cy="1764.8" r="4.7"/>
<circle cx="474.34" cy="1759.8" r="4.7"/>
<circle cx="493.37" cy="1753.5" r="4.7"/>
<circle cx="512.4" cy="1746.8" r="4.7"/>
<circle cx="531.43" cy="1738.2" r="4.7"/>
<circle cx="550.46" cy="1728" r="4.7"/>
<circle cx="569.49" cy="1715" r="4.7"/>
<circle cx="588.52" cy="1701.7" r="4.7"/>
<circle cx="607.55" cy="1686.8" r="4.7"/>
<circle cx="626.58" cy="1671.8" r="4.7"/>
<circle cx="645.61" cy="1652.2" r="4.7"/>
<circle cx="664.64" cy="1634" r="4.7"/>
<circle cx="683.67" cy="1620" r="4.7"/>
<circle cx="702.7" cy="1606" r="4.7"/>
<circle cx="721.73" cy="1593" r="4.7"/>
<circle cx="740.76" cy="1579" r="4.7"/>
<circle cx="759.79" cy="1567" r="4.7"/>
<circle cx="778.82" cy="1555" r="4.7"/>
<circle cx="797.85" cy="1546" r="4.7"/>
<circle cx="816.88" cy="1537" r="4.7"/>
<circle cx="835.91" cy="1528" r="4.7"/>
<circle cx="854.94" cy="1522" r="4.7"/>
<circle cx="873.97" cy="1517" r="4.7"/>
<circle cx="893" cy="1513" r="4.7"/>
<circle cx="912.03" cy="1509" r="4.7"/>
<circle cx="931.06" cy="1506" r="4.7"/>
<circle cx="950.09" cy="1504" r="4.7"/>
<circle cx="969.12" cy="1502.5" r="4.7"/>
<circle cx="988.15" cy="1501" r="4.7"/>
<circle cx="1007.18" cy="1499.5" r="4.7"/>
<circle cx="1026.21" cy="1498" r="4.7"/>
<circle cx="1045.24" cy="1497" r="4.7"/>
<circle cx="1064.27" cy="1495.5" r="4.7"/>
<circle cx="1083.3" cy="1495" r="4.7"/>
<circle cx="1102.33" cy="1495" r="4.7"/>
<circle cx="1121.36" cy="1495" r="4.7"/>
<circle cx="1140.39" cy="1495" r="4.7"/>
<circle cx="1159.42" cy="1495" r="4.7"/>
<circle cx="1178.45" cy="1495" r="4.7"/>
<circle cx="1197.48" cy="1496.8" r="4.7"/>
<circle cx="1216.51" cy="1497.8" r="4.7"/>
<circle cx="1235.54" cy="1498.5" r="4.7"/>
<circle cx="1254.57" cy="1499.9" r="4.7"/>
</g>
<g fill="#ccff33">
<circle cx="131.8" cy="1672.6" r="4.7"/>
<circle cx="150.83" cy="1686.3" r="4.7"/>
<circle cx="169.86" cy="1703.9" r="4.7"/>
<circle cx="188.89" cy="1713.8" r="4.7"/>
<circle cx="207.92" cy="1725.2" r="4.7"/>
<circle cx="226.95" cy="1734.6" r="4.7"/>
<circle cx="245.98" cy="1744.8" r="4.7"/>
<circle cx="265.01" cy="1751.4" r="4.7"/>
<circle cx="284.04" cy="1757.2" r="4.7"/>
<circle cx="303.07" cy="1761.3" r="4.7"/>
<circle cx="322.1" cy="1764.8" r="4.7"/>
<circle cx="341.13" cy="1767.5" r="4.7"/>
<circle cx="360.16" cy="1769.5" r="4.7"/>
<circle cx="379.19" cy="1769" r="4.7"/>
<circle cx="398.22" cy="1768.7" r="4.7"/>
<circle cx="417.25" cy="1766.4" r="4.7"/>
<circle cx="436.28" cy="1763.2" r="4.7"/>
<circle cx="455.31" cy="1759.3" r="4.7"/>
<circle cx="474.34" cy="1753.3" r="4.7"/>
<circle cx="493.37" cy="1746.4" r="4.7"/>
<circle cx="512.4" cy="1738.1" r="4.7"/>
<circle cx="531.43" cy="1728.4" r="4.7"/>
<circle cx="550.46" cy="1716.6" r="4.7"/>
<circle cx="569.49" cy="1701.5" r="4.7"/>
<circle cx="588.52" cy="1690.5" r="4.7"/>
<circle cx="607.55" cy="1677.5" r="4.7"/>
<circle cx="626.58" cy="1664" r="4.7"/>
<circle cx="645.61" cy="1647" r="4.7"/>
<circle cx="664.64" cy="1631" r="4.7"/>
<circle cx="683.67" cy="1616" r="4.7"/>
<circle cx="702.7" cy="1601" r="4.7"/>
<circle cx="721.73" cy="1588" r="4.7"/>
<circle cx="740.76" cy="1574" r="4.7"/>
<circle cx="759.79" cy="1562" r="4.7"/>
<circle cx="778.82" cy="1550" r="4.7"/>
<circle cx="797.85" cy="1541" r="4.7"/>
<circle cx="816.88" cy="1533" r="4.7"/>
<circle cx="835.91" cy="1525" r="4.7"/>
<circle cx="854.94" cy="1519" r="4.7"/>
<circle cx="873.97" cy="1514" r="4.7"/>
<circle cx="893" cy="1511" r="4.7"/>
<circle cx="912.03" cy="1507" r="4.7"/>
<circle cx="931.06" cy="1504" r="4.7"/>
<circle cx="950.09" cy="1502" r="4.7"/>
<circle cx="969.12" cy="1500.5" r="4.7"/>
<circle cx="988.15" cy="1499.5" r="4.7"/>
<circle cx="1007.18" cy="1498.5" r="4.7"/>
<circle cx="1026.21" cy="1497" r="4.7"/>
<circle cx="1045.24" cy="1496" r="4.7"/>
<circle cx="1064.27" cy="1494.5" r="4.7"/>
<circle cx="1083.3" cy="1493.5" r="4.7"/>
<circle cx="1102.33" cy="1491" r="4.7"/>
<circle cx="1121.36" cy="1487" r="4.7"/>
<circle cx="1140.39" cy="1484" r="4.7"/>
<circle cx="1159.42" cy="1480.5" r="4.7"/>
<circle cx="1178.45" cy="1476.5" r="4.7"/>
<circle cx="1197.48" cy="1496.4" r="4.7"/>
<circle cx="1216.51" cy="1497.4" r="4.7"/>
<circle cx="1235.54" cy="1498.1" r="4.7"/>
<circle cx="1254.57" cy="1499.5" r="4.7"/>
</g>
<g fill="#00b0f0">
<circle cx="131.8" cy="1522.4" r="4.7"/>
<circle cx="150.83" cy="1534.8" r="4.7"/>
<circle cx="169.86" cy="1549.4" r="4.7"/>
<circle cx="188.89" cy="1565.6" r="4.7"/>
<circle cx="207.92" cy="1582.7" r="4.7"/>
<circle cx="226.95" cy="1600.5" r="4.7"/>
<circle cx="245.98" cy="1619.6" r="4.7"/>
<circle cx="265.01" cy="1638" r="4.7"/>
<circle cx="284.04" cy="1653.4" r="4.7"/>
<circle cx="303.07" cy="1668.7" r="4.7"/>
<circle cx="322.1" cy="1681" r="4.7"/>
<circle cx="341.13" cy="1690" r="4.7"/>
<circle cx="360.16" cy="1697" r="4.7"/>
<circle cx="379.19" cy="1701" r="4.7"/>
<circle cx="398.22" cy="1704" r="4.7"/>
<circle cx="417.25" cy="1706" r="4.7"/>
<circle cx="436.28" cy="1707" r="4.7"/>
<circle cx="455.31" cy="1707" r="4.7"/>
<circle cx="474.34" cy="1706" r="4.7"/>
<circle cx="493.37" cy="1705" r="4.7"/>
<circle cx="512.4" cy="1702" r="4.7"/>
<circle cx="531.43" cy="1698" r="4.7"/>
<circle cx="550.46" cy="1692" r="4.7"/>
<circle cx="569.49" cy="1684" r="4.7"/>
<circle cx="588.52" cy="1675" r="4.7"/>
<circle cx="607.55" cy="1664" r="4.7"/>
<circle cx="626.58" cy="1651" r="4.7"/>
<circle cx="645.61" cy="1632.9" r="4.7"/>
<circle cx="664.64" cy="1616.4" r="4.7"/>
<circle cx="683.67" cy="1600.4" r="4.7"/>
<circle cx="702.7" cy="1584.6" r="4.7"/>
<circle cx="721.73" cy="1571.2" r="4.7"/>
<circle cx="740.76" cy="1559.5" r="4.7"/>
<circle cx="759.79" cy="1547.7" r="4.7"/>
<circle cx="778.82" cy="1541" r="4.7"/>
<circle cx="797.85" cy="1533.5" r="4.7"/>
<circle cx="816.88" cy="1526.5" r="4.7"/>
<circle cx="835.91" cy="1520" r="4.7"/>
<circle cx="854.94" cy="1515" r="4.7"/>
<circle cx="873.97" cy="1511" r="4.7"/>
<circle cx="893" cy="1508" r="4.7"/>
<circle cx="912.03" cy="1505" r="4.7"/>
<circle cx="931.06" cy="1502.5" r="4.7"/>
<circle cx="950.09" cy="1500" r="4.7"/>
<circle cx="969.12" cy="1498.5" r="4.7"/>
<circle cx="988.15" cy="1497" r="4.7"/>
<circle cx="1007.18" cy="1496" r="4.7"/>
<circle cx="1026.21" cy="1495.77" r="4.7"/>
<circle cx="1045.24" cy="1495.53" r="4.7"/>
<circle cx="1064.27" cy="1495.3" r="4.7"/>
<circle cx="1083.3" cy="1494.8" r="4.7"/>
<circle cx="1102.33" cy="1494.8" r="4.7"/>
<circle cx="1121.36" cy="1494.6" r="4.7"/>
<circle cx="1140.39" cy="1479" r="4.7"/>
<circle cx="1159.42" cy="1477.5" r="4.7"/>
<circle cx="1178.45" cy="1473.3" r="4.7"/>
<circle cx="1197.48" cy="1495.5" r="4.7"/>
<circle cx="1216.51" cy="1496.5" r="4.7"/>
<circle cx="1235.54" cy="1497.2" r="4.7"/>
<circle cx="1254.57" cy="1498.6" r="4.7"/>
</g>
<g fill="#0070c0">
<circle cx="131.8" cy="1540.3" r="4.7"/>
<circle cx="150.83" cy="1553.4" r="4.7"/>
<circle cx="169.86" cy="1567.8" r="4.7"/>
<circle cx="188.89" cy="1584" r="4.7"/>
<circle cx="207.92" cy="1600.5" r="4.7"/>
<circle cx="226.95" cy="1616.9" r="4.7"/>
<circle cx="245.98" cy="1633.7" r="4.7"/>
<circle cx="265.01" cy="1648.4" r="4.7"/>
<circle cx="284.04" cy="1662" r="4.7"/>
<circle cx="303.07" cy="1673.8" r="4.7"/>
<circle cx="322.1" cy="1682.5" r="4.7"/>
<circle cx="341.13" cy="1691.8" r="4.7"/>
<circle cx="360.16" cy="1698.1" r="4.7"/>
<circle cx="379.19" cy="1702.3" r="4.7"/>
<circle cx="398.22" cy="1705.9" r="4.7"/>
<circle cx="417.25" cy="1708" r="4.7"/>
<circle cx="436.28" cy="1709.1" r="4.7"/>
<circle cx="455.31" cy="1708.6" r="4.7"/>
<circle cx="474.34" cy="1707.5" r="4.7"/>
<circle cx="493.37" cy="1705" r="4.7"/>
<circle cx="512.4" cy="1702" r="4.7"/>
<circle cx="531.43" cy="1698" r="4.7"/>
<circle cx="550.46" cy="1692" r="4.7"/>
<circle cx="569.49" cy="1686" r="4.7"/>
<circle cx="588.52" cy="1679" r="4.7"/>
<circle cx="607.55" cy="1671" r="4.7"/>
<circle cx="626.58" cy="1662" r="4.7"/>
<circle cx="645.61" cy="1649" r="4.7"/>
<circle cx="664.64" cy="1635.3" r="4.7"/>
<circle cx="683.67" cy="1622.4" r="4.7"/>
<circle cx="702.7" cy="1608.2" r="4.7"/>
<circle cx="721.73" cy="1594.8" r="4.7"/>
<circle cx="740.76" cy="1580.7" r="4.7"/>
<circle cx="759.79" cy="1568.6" r="4.7"/>
<circle cx="778.82" cy="1555.5" r="4.7"/>
<circle cx="797.85" cy="1546.1" r="4.7"/>
<circle cx="816.88" cy="1537.2" r="4.7"/>
<circle cx="835.91" cy="1528.9" r="4.7"/>
<circle cx="854.94" cy="1522.6" r="4.7"/>
<circle cx="873.97" cy="1517.1" r="4.7"/>
<circle cx="893" cy="1514" r="4.7"/>
<circle cx="912.03" cy="1506.7" r="4.7"/>
<circle cx="931.06" cy="1504.5" r="4.7"/>
<circle cx="950.09" cy="1502.2" r="4.7"/>
<circle cx="969.12" cy="1500" r="4.7"/>
<circle cx="988.15" cy="1498.2" r="4.7"/>
<circle cx="1007.18" cy="1497.3" r="4.7"/>
<circle cx="1026.21" cy="1496.2" r="4.7"/>
<circle cx="1045.24" cy="1494.4" r="4.7"/>
<circle cx="1064.27" cy="1493.1" r="4.7"/>
<circle cx="1083.3" cy="1491.5" r="4.7"/>
<circle cx="1102.33" cy="1489.4" r="4.7"/>
<circle cx="1121.36" cy="1487.8" r="4.7"/>
<circle cx="1140.39" cy="1485.7" r="4.7"/>
<circle cx="1159.42" cy="1482.1" r="4.7"/>
<circle cx="1178.45" cy="1477.9" r="4.7"/>
<circle cx="1197.48" cy="1495.4" r="4.7"/>
<circle cx="1216.51" cy="1496.4" r="4.7"/>
<circle cx="1235.54" cy="1497.1" r="4.7"/>
<circle cx="1254.57" cy="1498.5" r="4.7"/>
</g>
<g fill="#ff9966">
<circle cx="131.8" cy="1551.5" r="4.7"/>
<circle cx="150.83" cy="1566.2" r="4.7"/>
<circle cx="169.86" cy="1581.9" r="4.7"/>
<circle cx="188.89" cy="1598.9" r="4.7"/>
<circle cx="207.92" cy="1615.8" r="4.7"/>
<circle cx="226.95" cy="1632.6" r="4.7"/>
<circle cx="245.98" cy="1648.4" r="4.7"/>
<circle cx="265.01" cy="1662.3" r="4.7"/>
<circle cx="284.04" cy="1674.4" r="4.7"/>
<circle cx="303.07" cy="1684.6" r="4.7"/>
<circle cx="322.1" cy="1693.4" r="4.7"/>
<circle cx="341.13" cy="1699.6" r="4.7"/>
<circle cx="360.16" cy="1704.4" r="4.7"/>
<circle cx="379.19" cy="1707.5" r="4.7"/>
<circle cx="398.22" cy="1710.6" r="4.7"/>
<circle cx="417.25" cy="1712.2" r="4.7"/>
<circle cx="436.28" cy="1713" r="4.7"/>
<circle cx="455.31" cy="1711.4" r="4.7"/>
<circle cx="474.34" cy="1707.5" r="4.7"/>
<circle cx="493.37" cy="1704.4" r="4.7"/>
<circle cx="512.4" cy="1699.5" r="4.7"/>
<circle cx="531.43" cy="1695.4" r="4.7"/>
<circle cx="550.46" cy="1689.1" r="4.7"/>
<circle cx="569.49" cy="1681.3" r="4.7"/>
<circle cx="588.52" cy="1674" r="4.7"/>
<circle cx="607.55" cy="1664.5" r="4.7"/>
<circle cx="626.58" cy="1654.5" r="4.7"/>
<circle cx="645.61" cy="1641" r="4.7"/>
<circle cx="664.64" cy="1627" r="4.7"/>
<circle cx="683.67" cy="1613" r="4.7"/>
<circle cx="702.7" cy="1600" r="4.7"/>
<circle cx="721.73" cy="1587.5" r="4.7"/>
<circle cx="740.76" cy="1573.5" r="4.7"/>
<circle cx="759.79" cy="1561" r="4.7"/>
<circle cx="778.82" cy="1549" r="4.7"/>
<circle cx="797.85" cy="1540" r="4.7"/>
<circle cx="816.88" cy="1531.5" r="4.7"/>
<circle cx="835.91" cy="1523" r="4.7"/>
<circle cx="854.94" cy="1517.5" r="4.7"/>
<circle cx="873.97" cy="1512" r="4.7"/>
<circle cx="893" cy="1509.5" r="4.7"/>
<circle cx="912.03" cy="1506.2" r="4.7"/>
<circle cx="931.06" cy="1504" r="4.7"/>
<circle cx="950.09" cy="1501.7" r="4.7"/>
<circle cx="969.12" cy="1499.5" r="4.7"/>
<circle cx="988.15" cy="1497.7" r="4.7"/>
<circle cx="1007.18" cy="1496.8" r="4.7"/>
<circle cx="1026.21" cy="1495.7" r="4.7"/>
<circle cx="1045.24" cy="1493.9" r="4.7"/>
<circle cx="1064.27" cy="1492.6" r="4.7"/>
<circle cx="1083.3" cy="1491" r="4.7"/>
<circle cx="1102.33" cy="1488.9" r="4.7"/>
<circle cx="1121.36" cy="1487.3" r="4.7"/>
<circle cx="1140.39" cy="1485.2" r="4.7"/>
<circle cx="1159.42" cy="1481.6" r="4.7"/>
<circle cx="1178.45" cy="1477.4" r="4.7"/>
<circle cx="1197.48" cy="1495.4" r="4.7"/>
<circle cx="1216.51" cy="1496.4" r="4.7"/>
<circle cx="1235.54" cy="1497.1" r="4.7"/>
<circle cx="1254.57" cy="1498.5" r="4.7"/>
</g>
<g fill="#ff7c80">
<circle cx="131.8" cy="1560.4" r="4.7"/>
<circle cx="150.83" cy="1576.9" r="4.7"/>
<circle cx="169.86" cy="1593.9" r="4.7"/>
<circle cx="188.89" cy="1610.7" r="4.7"/>
<circle cx="207.92" cy="1627.9" r="4.7"/>
<circle cx="226.95" cy="1644.1" r="4.7"/>
<circle cx="245.98" cy="1659.6" r="4.7"/>
<circle cx="265.01" cy="1672.7" r="4.7"/>
<circle cx="284.04" cy="1683.8" r="4.7"/>
<circle cx="303.07" cy="1692.9" r="4.7"/>
<circle cx="322.1" cy="1700.5" r="4.7"/>
<circle cx="341.13" cy="1705" r="4.7"/>
<circle cx="360.16" cy="1709" r="4.7"/>
<circle cx="379.19" cy="1711.5" r="4.7"/>
<circle cx="398.22" cy="1714" r="4.7"/>
<circle cx="417.25" cy="1715.5" r="4.7"/>
<circle cx="436.28" cy="1716" r="4.7"/>
<circle cx="455.31" cy="1715" r="4.7"/>
<circle cx="474.34" cy="1712" r="4.7"/>
<circle cx="493.37" cy="1708" r="4.7"/>
<circle cx="512.4" cy="1703.2" r="4.7"/>
<circle cx="531.43" cy="1697.7" r="4.7"/>
<circle cx="550.46" cy="1691.5" r="4.7"/>
<circle cx="569.49" cy="1683.6" r="4.7"/>
<circle cx="588.52" cy="1675.5" r="4.7"/>
<circle cx="607.55" cy="1665.6" r="4.7"/>
<circle cx="626.58" cy="1656.2" r="4.7"/>
<circle cx="645.61" cy="1643" r="4.7"/>
<circle cx="664.64" cy="1629" r="4.7"/>
<circle cx="683.67" cy="1615" r="4.7"/>
<circle cx="702.7" cy="1601.8" r="4.7"/>
<circle cx="721.73" cy="1589.3" r="4.7"/>
<circle cx="740.76" cy="1575.2" r="4.7"/>
<circle cx="759.79" cy="1562.6" r="4.7"/>
<circle cx="778.82" cy="1550.8" r="4.7"/>
<circle cx="797.85" cy="1541.4" r="4.7"/>
<circle cx="816.88" cy="1532.8" r="4.7"/>
<circle cx="835.91" cy="1524.2" r="4.7"/>
<circle cx="854.94" cy="1518.5" r="4.7"/>
<circle cx="873.97" cy="1513" r="4.7"/>
<circle cx="893" cy="1510" r="4.7"/>
<circle cx="912.03" cy="1505.7" r="4.7"/>
<circle cx="931.06" cy="1503.5" r="4.7"/>
<circle cx="950.09" cy="1501.2" r="4.7"/>
<circle cx="969.12" cy="1499" r="4.7"/>
<circle cx="988.15" cy="1497.2" r="4.7"/>
<circle cx="1007.18" cy="1496.3" r="4.7"/>
<circle cx="1026.21" cy="1495.2" r="4.7"/>
<circle cx="1045.24" cy="1493.4" r="4.7"/>
<circle cx="1064.27" cy="1492.1" r="4.7"/>
<circle cx="1083.3" cy="1490.5" r="4.7"/>
<circle cx="1102.33" cy="1488.4" r="4.7"/>
<circle cx="1121.36" cy="1486.8" r="4.7"/>
<circle cx="1140.39" cy="1484.7" r="4.7"/>
<circle cx="1159.42" cy="1481.1" r="4.7"/>
<circle cx="1178.45" cy="1476.9" r="4.7"/>
<circle cx="1197.48" cy="1495.4" r="4.7"/>
<circle cx="1216.51" cy="1496.4" r="4.7"/>
<circle cx="1235.54" cy="1497.1" r="4.7"/>
<circle cx="1254.57" cy="1498.5" r="4.7"/>
</g>
<g fill="#ff0066">
<circle cx="131.8" cy="1564.4" r="4.7"/>
<circle cx="150.83" cy="1581.3" r="4.7"/>
<circle cx="169.86" cy="1598.9" r="4.7"/>
<circle cx="188.89" cy="1615.8" r="4.7"/>
<circle cx="207.92" cy="1633.1" r="4.7"/>
<circle cx="226.95" cy="1648.7" r="4.7"/>
<circle cx="245.98" cy="1663.6" r="4.7"/>
<circle cx="265.01" cy="1676.2" r="4.7"/>
<circle cx="284.04" cy="1687" r="4.7"/>
<circle cx="303.07" cy="1695.6" r="4.7"/>
<circle cx="322.1" cy="1701.5" r="4.7"/>
<circle cx="341.13" cy="1708.3" r="4.7"/>
<circle cx="360.16" cy="1712.5" r="4.7"/>
<circle cx="379.19" cy="1715.3" r="4.7"/>
<circle cx="398.22" cy="1717.7" r="4.7"/>
<circle cx="417.25" cy="1718.5" r="4.7"/>
<circle cx="436.28" cy="1718.5" r="4.7"/>
<circle cx="455.31" cy="1717.7" r="4.7"/>
<circle cx="474.34" cy="1716.1" r="4.7"/>
<circle cx="493.37" cy="1713" r="4.7"/>
<circle cx="512.4" cy="1709.5" r="4.7"/>
<circle cx="531.43" cy="1704.8" r="4.7"/>
<circle cx="550.46" cy="1699" r="4.7"/>
<circle cx="569.49" cy="1691.5" r="4.7"/>
<circle cx="588.52" cy="1682" r="4.7"/>
<circle cx="607.55" cy="1671.8" r="4.7"/>
<circle cx="626.58" cy="1660.9" r="4.7"/>
<circle cx="645.61" cy="1647" r="4.7"/>
<circle cx="664.64" cy="1632" r="4.7"/>
<circle cx="683.67" cy="1617" r="4.7"/>
<circle cx="702.7" cy="1600" r="4.7"/>
<circle cx="721.73" cy="1585.4" r="4.7"/>
<circle cx="740.76" cy="1570.5" r="4.7"/>
<circle cx="759.79" cy="1558.5" r="4.7"/>
<circle cx="778.82" cy="1547" r="4.7"/>
<circle cx="797.85" cy="1538.5" r="4.7"/>
<circle cx="816.88" cy="1530" r="4.7"/>
<circle cx="835.91" cy="1521.5" r="4.7"/>
<circle cx="854.94" cy="1516" r="4.7"/>
<circle cx="873.97" cy="1511" r="4.7"/>
<circle cx="893" cy="1508.5" r="4.7"/>
<circle cx="912.03" cy="1505.2" r="4.7"/>
<circle cx="931.06" cy="1503" r="4.7"/>
<circle cx="950.09" cy="1500.7" r="4.7"/>
<circle cx="969.12" cy="1498.5" r="4.7"/>
<circle cx="988.15" cy="1496.7" r="4.7"/>
<circle cx="1007.18" cy="1495.8" r="4.7"/>
<circle cx="1026.21" cy="1494.7" r="4.7"/>
<circle cx="1045.24" cy="1492.9" r="4.7"/>
<circle cx="1064.27" cy="1491.6" r="4.7"/>
<circle cx="1083.3" cy="1490" r="4.7"/>
<circle cx="1102.33" cy="1487.9" r="4.7"/>
<circle cx="1121.36" cy="1486.3" r="4.7"/>
<circle cx="1140.39" cy="1484.2" r="4.7"/>
<circle cx="1159.42" cy="1480.6" r="4.7"/>
<circle cx="1178.45" cy="1476.4" r="4.7"/>
<circle cx="1197.48" cy="1495.4" r="4.7"/>
<circle cx="1216.51" cy="1496.4" r="4.7"/>
<circle cx="1235.54" cy="1497.1" r="4.7"/>
<circle cx="1254.57" cy="1498.5" r="4.7"/>
</g>
<g fill="#d60093">
<circle cx="131.8" cy="1573.5" r="4.7"/>
<circle cx="150.83" cy="1590.7" r="4.7"/>
<circle cx="169.86" cy="1608.3" r="4.7"/>
<circle cx="188.89" cy="1625.6" r="4.7"/>
<circle cx="207.92" cy="1642" r="4.7"/>
<circle cx="226.95" cy="1657.2" r="4.7"/>
<circle cx="245.98" cy="1670.5" r="4.7"/>
<circle cx="265.01" cy="1682.6" r="4.7"/>
<circle cx="284.04" cy="1692.5" r="4.7"/>
<circle cx="303.07" cy="1700.4" r="4.7"/>
<circle cx="322.1" cy="1706.7" r="4.7"/>
<circle cx="341.13" cy="1712.2" r="4.7"/>
<circle cx="360.16" cy="1716.5" r="4.7"/>
<circle cx="379.19" cy="1719.5" r="4.7"/>
<circle cx="398.22" cy="1722" r="4.7"/>
<circle cx="417.25" cy="1723.5" r="4.7"/>
<circle cx="436.28" cy="1724" r="4.7"/>
<circle cx="455.31" cy="1723.5" r="4.7"/>
<circle cx="474.34" cy="1722" r="4.7"/>
<circle cx="493.37" cy="1719.3" r="4.7"/>
<circle cx="512.4" cy="1715.8" r="4.7"/>
<circle cx="531.43" cy="1711.9" r="4.7"/>
<circle cx="550.46" cy="1705.6" r="4.7"/>
<circle cx="569.49" cy="1697.7" r="4.7"/>
<circle cx="588.52" cy="1687.5" r="4.7"/>
<circle cx="607.55" cy="1676" r="4.7"/>
<circle cx="626.58" cy="1663" r="4.7"/>
<circle cx="645.61" cy="1648.3" r="4.7"/>
<circle cx="664.64" cy="1631" r="4.7"/>
<circle cx="683.67" cy="1614" r="4.7"/>
<circle cx="702.7" cy="1597.1" r="4.7"/>
<circle cx="721.73" cy="1582.2" r="4.7"/>
<circle cx="740.76" cy="1567.3" r="4.7"/>
<circle cx="759.79" cy="1554.8" r="4.7"/>
<circle cx="778.82" cy="1543.8" r="4.7"/>
<circle cx="797.85" cy="1535.9" r="4.7"/>
<circle cx="816.88" cy="1528" r="4.7"/>
<circle cx="835.91" cy="1520.5" r="4.7"/>
<circle cx="854.94" cy="1515" r="4.7"/>
<circle cx="873.97" cy="1510.5" r="4.7"/>
<circle cx="893" cy="1508" r="4.7"/>
<circle cx="912.03" cy="1504.7" r="4.7"/>
<circle cx="931.06" cy="1502.5" r="4.7"/>
<circle cx="950.09" cy="1500.2" r="4.7"/>
<circle cx="969.12" cy="1498" r="4.7"/>
<circle cx="988.15" cy="1496.2" r="4.7"/>
<circle cx="1007.18" cy="1495.3" r="4.7"/>
<circle cx="1026.21" cy="1494.2" r="4.7"/>
<circle cx="1045.24" cy="1492.4" r="4.7"/>
<circle cx="1064.27" cy="1491.1" r="4.7"/>
<circle cx="1083.3" cy="1489.5" r="4.7"/>
<circle cx="1102.33" cy="1487.4" r="4.7"/>
<circle cx="1121.36" cy="1485.8" r="4.7"/>
<circle cx="1140.39" cy="1483.7" r="4.7"/>
<circle cx="1159.42" cy="1480.1" r="4.7"/>
<circle cx="1178.45" cy="1475.9" r="4.7"/>
<circle cx="1197.48" cy="1495.4" r="4.7"/>
<circle cx="1216.51" cy="1496.4" r="4.7"/>
<circle cx="1235.54" cy="1497.1" r="4.7"/>
<circle cx="1254.57" cy="1498.5" r="4.7"/>
</g>
<g fill="#993366">
<circle cx="131.8" cy="1578.8" r="4.7"/>
<circle cx="150.83" cy="1595.4" r="4.7"/>
<circle cx="169.86" cy="1613.3" r="4.7"/>
<circle cx="188.89" cy="1630.6" r="4.7"/>
<circle cx="207.92" cy="1646.8" r="4.7"/>
<circle cx="226.95" cy="1660.4" r="4.7"/>
<circle cx="245.98" cy="1674.5" r="4.7"/>
<circle cx="265.01" cy="1686.3" r="4.7"/>
<circle cx="284.04" cy="1695.6" r="4.7"/>
<circle cx="303.07" cy="1703.6" r="4.7"/>
<circle cx="322.1" cy="1710.6" r="4.7"/>
<circle cx="341.13" cy="1716.1" r="4.7"/>
<circle cx="360.16" cy="1720" r="4.7"/>
<circle cx="379.19" cy="1724" r="4.7"/>
<circle cx="398.22" cy="1726.3" r="4.7"/>
<circle cx="417.25" cy="1728.7" r="4.7"/>
<circle cx="436.28" cy="1729.2" r="4.7"/>
<circle cx="455.31" cy="1728.7" r="4.7"/>
<circle cx="474.34" cy="1727.6" r="4.7"/>
<circle cx="493.37" cy="1725.5" r="4.7"/>
<circle cx="512.4" cy="1722" r="4.7"/>
<circle cx="531.43" cy="1717.4" r="4.7"/>
<circle cx="550.46" cy="1710.6" r="4.7"/>
<circle cx="569.49" cy="1701.7" r="4.7"/>
<circle cx="588.52" cy="1691" r="4.7"/>
<circle cx="607.55" cy="1677.8" r="4.7"/>
<circle cx="626.58" cy="1664.8" r="4.7"/>
<circle cx="645.61" cy="1645.2" r="4.7"/>
<circle cx="664.64" cy="1627.1" r="4.7"/>
<circle cx="683.67" cy="1609.8" r="4.7"/>
<circle cx="702.7" cy="1591.7" r="4.7"/>
<circle cx="721.73" cy="1577" r="4.7"/>
<circle cx="740.76" cy="1562.6" r="4.7"/>
<circle cx="759.79" cy="1550.8" r="4.7"/>
<circle cx="778.82" cy="1539.8" r="4.7"/>
<circle cx="797.85" cy="1532" r="4.7"/>
<circle cx="816.88" cy="1524.6" r="4.7"/>
<circle cx="835.91" cy="1517.9" r="4.7"/>
<circle cx="854.94" cy="1513.6" r="4.7"/>
<circle cx="873.97" cy="1509.2" r="4.7"/>
<circle cx="893" cy="1506.7" r="4.7"/>
<circle cx="912.03" cy="1503.7" r="4.7"/>
<circle cx="931.06" cy="1501.5" r="4.7"/>
<circle cx="950.09" cy="1499.2" r="4.7"/>
<circle cx="969.12" cy="1497" r="4.7"/>
<circle cx="988.15" cy="1495.2" r="4.7"/>
<circle cx="1007.18" cy="1494.3" r="4.7"/>
<circle cx="1026.21" cy="1493.2" r="4.7"/>
<circle cx="1045.24" cy="1491.4" r="4.7"/>
<circle cx="1064.27" cy="1490.1" r="4.7"/>
<circle cx="1083.3" cy="1488.5" r="4.7"/>
<circle cx="1102.33" cy="1486.4" r="4.7"/>
<circle cx="1121.36" cy="1484.8" r="4.7"/>
<circle cx="1140.39" cy="1482.7" r="4.7"/>
<circle cx="1159.42" cy="1479.1" r="4.7"/>
<circle cx="1178.45" cy="1474.9" r="4.7"/>
<circle cx="1197.48" cy="1495.2" r="4.7"/>
<circle cx="1216.51" cy="1496.2" r="4.7"/>
<circle cx="1235.54" cy="1496.9" r="4.7"/>
<circle cx="1254.57" cy="1498.3" r="4.7"/>
</g>
<text x="106" y="1499.9" font-size="30" text-anchor="end">0</text>
<text x="106" y="1576.68" font-size="30" text-anchor="end">-20</text>
<text x="106" y="1653.46" font-size="30" text-anchor="end">-40</text>
<text x="106" y="1730.24" font-size="30" text-anchor="end">-60</text>
<text x="106" y="1807.02" font-size="30" text-anchor="end">-80</text>
<text x="128.5" y="1842.3" font-size="30" text-anchor="middle">0.1</text>
<text x="324" y="1842.3" font-size="30" text-anchor="middle">1</text>
<text x="510" y="1842.3" font-size="30" text-anchor="middle">10</text>
<text x="681.5" y="1842.3" font-size="30" text-anchor="start">10</text>
<text x="715.9" y="1833.6" font-size="20" text-anchor="start">2</text>
<text x="875.5" y="1842.3" font-size="30" text-anchor="start">10</text>
<text x="907" y="1833.6" font-size="20" text-anchor="start">3</text>
<text x="1067" y="1842.3" font-size="30" text-anchor="start">10</text>
<text x="1098.5" y="1833.6" font-size="20" text-anchor="start">4</text>
<text x="1248.5" y="1842.3" font-size="30" text-anchor="start">10</text>
<text x="1280" y="1833.6" font-size="20" text-anchor="start">5</text>
<text x="603" y="1879.4" font-size="30" text-anchor="start">frequency <tspan font-style="italic">f</tspan>, Hz</text>
<text transform="translate(39.3,1708.1) rotate(-90)" font-size="30">Phase, °</text>
<rect x="1010.8" y="1568.2" width="317.3" height="214.6" fill="#fff" stroke="#000" stroke-width="2.0"/>
<circle cx="1042.8" cy="1589.8" r="4.7" fill="#666633"/>
<text x="1056.9" y="1599.3" font-size="30" text-anchor="start">0 min</text>
<circle cx="1202" cy="1589.8" r="4.7" fill="#99cc00"/>
<text x="1216.1" y="1599.3" font-size="30" text-anchor="start">4 min</text>
<circle cx="1042.8" cy="1632.7" r="4.7" fill="#ccff33"/>
<text x="1056.9" y="1642.2" font-size="30" text-anchor="start">15 min</text>
<circle cx="1202" cy="1632.7" r="4.7" fill="#00b0f0"/>
<text x="1216.1" y="1642.2" font-size="30" text-anchor="start">1 h</text>
<circle cx="1042.8" cy="1675.6" r="4.7" fill="#0070c0"/>
<text x="1056.9" y="1685.1" font-size="30" text-anchor="start">2 h</text>
<circle cx="1202" cy="1675.6" r="4.7" fill="#ff9966"/>
<text x="1216.1" y="1685.1" font-size="30" text-anchor="start">3 h</text>
<circle cx="1042.8" cy="1718.5" r="4.7" fill="#ff7c80"/>
<text x="1056.9" y="1728" font-size="30" text-anchor="start">5 h</text>
<circle cx="1202" cy="1718.5" r="4.7" fill="#ff0066"/>
<text x="1216.1" y="1728" font-size="30" text-anchor="start">10 h</text>
<circle cx="1042.8" cy="1761.4" r="4.7" fill="#d60093"/>
<text x="1056.9" y="1770.9" font-size="30" text-anchor="start">15 h</text>
<circle cx="1202" cy="1761.4" r="4.7" fill="#993366"/>
<text x="1216.1" y="1770.9" font-size="30" text-anchor="start">24 h</text>
<g fill="#fff" shape-rendering="crispEdges"><rect x="70.26" y="40.00" width="5.64" height="4.00"/><rect x="78.85" y="40.00" width="5.55" height="4.00"/><rect x="70.26" y="132.00" width="5.64" height="4.00"/><rect x="78.85" y="132.00" width="5.55" height="4.00"/><rect x="70.26" y="220.00" width="5.64" height="5.00"/><rect x="78.85" y="220.00" width="5.55" height="5.00"/><rect x="70.26" y="302.00" width="5.64" height="4.00"/><rect x="78.85" y="302.00" width="5.55" height="4.00"/><rect x="70.26" y="397.00" width="5.64" height="5.00"/><rect x="78.85" y="397.00" width="5.55" height="5.00"/><rect x="134.11" y="416.00" width="5.64" height="5.00"/><rect x="142.70" y="416.00" width="5.55" height="5.00"/><rect x="317.41" y="416.00" width="5.64" height="5.00"/><rect x="326.00" y="416.00" width="5.55" height="5.00"/><rect x="495.07" y="416.00" width="5.64" height="5.00"/><rect x="503.66" y="416.00" width="5.55" height="5.00"/><rect x="683.26" y="416.00" width="5.64" height="5.00"/><rect x="691.85" y="416.00" width="5.55" height="5.00"/><rect x="877.76" y="416.00" width="5.64" height="5.00"/><rect x="886.35" y="416.00" width="5.55" height="5.00"/><rect x="1068.76" y="416.00" width="5.64" height="5.00"/><rect x="1077.35" y="416.00" width="5.55" height="5.00"/><rect x="1249.76" y="416.00" width="5.64" height="5.00"/><rect x="1258.35" y="416.00" width="5.55" height="5.00"/><rect x="942.86" y="32.00" width="5.64" height="5.00"/><rect x="951.45" y="32.00" width="5.55" height="5.00"/><rect x="1088.06" y="32.00" width="5.64" height="5.00"/><rect x="1096.65" y="32.00" width="5.55" height="5.00"/><rect x="942.86" y="81.00" width="5.64" height="5.00"/><rect x="951.45" y="81.00" width="5.55" height="5.00"/><rect x="1088.06" y="81.00" width="5.64" height="5.00"/><rect x="1096.65" y="81.00" width="5.55" height="5.00"/><rect x="131.31" y="872.00" width="5.64" height="5.00"/><rect x="139.90" y="872.00" width="5.55" height="5.00"/><rect x="312.41" y="872.00" width="5.64" height="5.00"/><rect x="321.00" y="872.00" width="5.55" height="5.00"/><rect x="490.37" y="872.00" width="5.64" height="5.00"/><rect x="498.96" y="872.00" width="5.55" height="5.00"/><rect x="677.26" y="872.00" width="5.64" height="5.00"/><rect x="685.85" y="872.00" width="5.55" height="5.00"/><rect x="874.96" y="872.00" width="5.64" height="5.00"/><rect x="883.55" y="872.00" width="5.55" height="5.00"/><rect x="1066.26" y="872.00" width="5.64" height="5.00"/><rect x="1074.85" y="872.00" width="5.55" height="5.00"/><rect x="1246.66" y="872.00" width="5.64" height="5.00"/><rect x="1255.25" y="872.00" width="5.55" height="5.00"/><rect x="1055.26" y="675.00" width="5.64" height="4.00"/><rect x="1063.85" y="675.00" width="5.55" height="4.00"/><rect x="1213.86" y="675.00" width="5.64" height="4.00"/><rect x="1222.45" y="675.00" width="5.55" height="4.00"/><rect x="1213.86" y="760.00" width="5.64" height="4.00"/><rect x="1222.45" y="760.00" width="5.55" height="4.00"/><rect x="1055.26" y="802.00" width="5.64" height="5.00"/><rect x="1063.85" y="802.00" width="5.55" height="5.00"/><rect x="70.26" y="978.00" width="5.64" height="5.00"/><rect x="78.85" y="978.00" width="5.55" height="5.00"/><rect x="70.26" y="1070.00" width="5.64" height="4.00"/><rect x="78.85" y="1070.00" width="5.55" height="4.00"/><rect x="70.26" y="1159.00" width="5.64" height="4.00"/><rect x="78.85" y="1159.00" width="5.55" height="4.00"/><rect x="70.26" y="1240.00" width="5.64" height="5.00"/><rect x="78.85" y="1240.00" width="5.55" height="5.00"/><rect x="70.26" y="1336.00" width="5.64" height="4.00"/><rect x="78.85" y="1336.00" width="5.55" height="4.00"/><rect x="134.11" y="1355.00" width="5.64" height="4.00"/><rect x="142.70" y="1355.00" width="5.55" height="4.00"/><rect x="317.41" y="1355.00" width="5.64" height="4.00"/><rect x="326.00" y="1355.00" width="5.55" height="4.00"/><rect x="495.07" y="1355.00" width="5.64" height="4.00"/><rect x="503.66" y="1355.00" width="5.55" height="4.00"/><rect x="683.26" y="1355.00" width="5.64" height="4.00"/><rect x="691.85" y="1355.00" width="5.55" height="4.00"/><rect x="877.76" y="1355.00" width="5.64" height="4.00"/><rect x="886.35" y="1355.00" width="5.55" height="4.00"/><rect x="1068.76" y="1355.00" width="5.64" height="4.00"/><rect x="1077.35" y="1355.00" width="5.55" height="4.00"/><rect x="1249.76" y="1355.00" width="5.64" height="4.00"/><rect x="1258.35" y="1355.00" width="5.55" height="4.00"/><rect x="942.86" y="971.00" width="5.64" height="4.00"/><rect x="951.45" y="971.00" width="5.55" height="4.00"/><rect x="1088.06" y="971.00" width="5.64" height="4.00"/><rect x="1096.65" y="971.00" width="5.55" height="4.00"/><rect x="942.86" y="1020.00" width="5.64" height="4.00"/><rect x="951.45" y="1020.00" width="5.55" height="4.00"/><rect x="1088.06" y="1020.00" width="5.64" height="4.00"/><rect x="1096.65" y="1020.00" width="5.55" height="4.00"/><rect x="134.41" y="1839.00" width="5.64" height="4.00"/><rect x="143.00" y="1839.00" width="5.55" height="4.00"/><rect x="317.41" y="1839.00" width="5.64" height="4.00"/><rect x="326.00" y="1839.00" width="5.55" height="4.00"/><rect x="495.07" y="1839.00" width="5.64" height="4.00"/><rect x="503.66" y="1839.00" width="5.55" height="4.00"/><rect x="683.26" y="1839.00" width="5.64" height="4.00"/><rect x="691.85" y="1839.00" width="5.55" height="4.00"/><rect x="877.26" y="1839.00" width="5.64" height="4.00"/><rect x="885.85" y="1839.00" width="5.55" height="4.00"/><rect x="1068.76" y="1839.00" width="5.64" height="4.00"/><rect x="1077.35" y="1839.00" width="5.55" height="4.00"/><rect x="1250.26" y="1839.00" width="5.64" height="4.00"/><rect x="1258.85" y="1839.00" width="5.55" height="4.00"/><rect x="1058.66" y="1639.00" width="5.64" height="4.00"/><rect x="1067.25" y="1639.00" width="5.55" height="4.00"/><rect x="1217.86" y="1639.00" width="5.64" height="4.00"/><rect x="1226.45" y="1639.00" width="5.55" height="4.00"/><rect x="1217.86" y="1725.00" width="5.64" height="4.00"/><rect x="1226.45" y="1725.00" width="5.55" height="4.00"/><rect x="1058.66" y="1768.00" width="5.64" height="4.00"/><rect x="1067.25" y="1768.00" width="5.55" height="4.00"/></g>
</svg>
</body></html>
